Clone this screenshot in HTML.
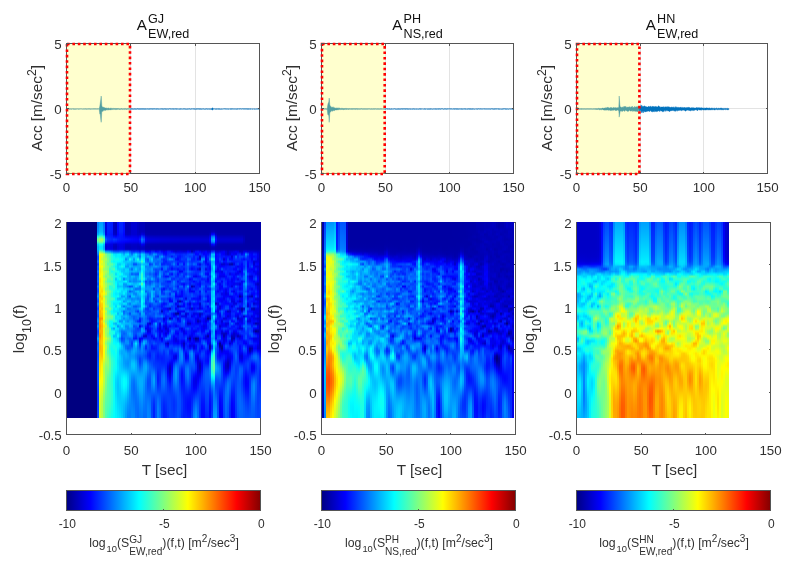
<!DOCTYPE html><html><head><meta charset="utf-8"><title>Reduced accelerograms and spectrograms</title><style>
html,body{margin:0;padding:0;background:#fff}
body{width:795px;height:569px;position:relative;overflow:hidden;font-family:"Liberation Sans",sans-serif;color:#303030}
.ax{position:absolute;box-sizing:border-box;box-shadow:inset 0 0 0 1px #555}
.ax i{position:absolute;display:block}
.gv{top:0;bottom:0;width:1px;background:#e3e3e3}
.gh{left:0;right:0;height:1px;background:#e3e3e3}
.tb{bottom:0;width:1px;height:2.5px;background:#555}
.tt{top:0;width:1px;height:2.5px;background:#555}
.tl{left:0;height:1px;width:2.5px;background:#555}
.tr{right:0;height:1px;width:2.5px;background:#555}
.wv{position:absolute;left:0.5px;top:0.5px;overflow:visible}
.sp{position:absolute;overflow:hidden;transform-origin:0 0}
.spi{position:absolute;left:-3px;top:-3px;right:-3px;bottom:-3px;filter:blur(0.7px)}
.sp i{top:0;bottom:0}
.xl,.yl,.cl,.xlab{position:absolute;white-space:nowrap;line-height:1}
.xl{font-size:13.33px;transform:translate(-50%,-50%)}
.yl{font-size:13.33px;transform:translate(-100%,-50%)}
.cl{font-size:12px;transform:translate(-50%,-50%)}
.xlab{font-size:15.3px;transform:translate(-50%,-50%)}
.ylab{position:absolute;white-space:nowrap;line-height:1;font-size:15.3px;transform:translate(-50%,-50%) rotate(-90deg)}
.ylab sup{font-size:12.2px;vertical-align:baseline;position:relative;top:-6.5px}
.ylab sub{font-size:12.4px;vertical-align:baseline;position:relative;top:6.5px}
.ttl{position:absolute;white-space:nowrap;transform:translateX(-50%);color:#111;height:32px;display:flex;align-items:flex-start}
.tA{font-size:15.2px;position:relative;top:6.5px;line-height:1;margin-right:1.3px}
.ss{position:relative;top:3px;font-size:12.6px;line-height:1}
.ss b,.ss2 b{display:block;font-weight:normal}
.ss b+b{margin-top:2.6px}
.clab{position:absolute;white-space:nowrap;transform:translateX(-50%);font-size:12.25px;line-height:1;height:26px;padding-top:7.3px}
.clab sup{font-size:10px;vertical-align:baseline;position:relative;top:-5.5px}
.s10{font-size:9.4px;position:relative;top:4.5px;margin:0 0 0 1px}
.ss2{display:inline-block;font-size:10.1px;line-height:1;vertical-align:-8px}
.ss2 b+b{margin-top:2px}
</style></head><body>
<div class="ax" style="left:66px;top:43px;width:194px;height:131px">
<i class="gv" style="left:64.3px"></i>
<i class="gv" style="left:128.7px"></i>
<i class="gh" style="top:65.0px"></i>
<svg class="wv" width="193.0" height="130.0" viewBox="0 0 193.0 130.0">
<path d="M0.2,64.9 0.8,64.8 1.2,64.9 1.8,64.8 2.2,64.8 2.8,64.8 3.2,64.9 3.8,64.8 4.2,64.8 4.8,64.9 5.2,64.9 5.8,64.8 6.2,64.8 6.8,64.8 7.2,64.9 7.8,64.8 8.2,64.8 8.8,64.9 9.2,64.9 9.8,64.8 10.2,64.8 10.8,64.9 11.2,64.8 11.8,64.9 12.2,64.8 12.8,64.9 13.2,64.9 13.8,64.8 14.2,64.8 14.8,64.9 15.2,64.9 15.8,64.9 16.2,64.9 16.8,64.8 17.2,64.9 17.8,64.8 18.2,64.8 18.8,64.8 19.2,64.9 19.8,64.8 20.2,64.8 20.8,64.9 21.2,64.8 21.8,64.8 22.2,64.8 22.8,64.8 23.2,64.9 23.8,64.8 24.2,64.8 24.8,64.9 25.2,64.8 25.8,64.9 26.2,64.8 26.8,64.8 27.2,64.8 27.8,64.8 28.2,64.8 28.8,64.8 29.2,64.9 29.8,64.8 30.2,64.8 30.8,64.8 31.2,64.8 31.8,64.9 32.2,64.7 32.8,62.3 33.2,59.6 33.8,55.2 34.2,52 34.8,61.4 35.2,62.7 35.8,63.2 36.2,63.3 36.8,63.3 37.2,63.6 37.8,63.7 38.2,63.9 38.8,64 39.2,63.9 39.8,64.2 40.2,64.2 40.8,64.3 41.2,64 41.8,64.2 42.2,64.4 42.8,64.4 43.2,64.3 43.8,64.2 44.2,64.2 44.8,64.4 45.2,64.4 45.8,64.5 46.2,64.4 46.8,64.4 47.2,64.4 47.8,64.6 48.2,64.6 48.8,64.4 49.2,64.5 49.8,64.5 50.2,64.5 50.8,64.5 51.2,64.4 51.8,64.7 52.2,64.7 52.8,64.7 53.2,64.7 53.8,64.7 54.2,64.6 54.8,64.6 55.2,64.7 55.8,64.8 56.2,64.7 56.8,64.7 57.2,64.5 57.8,64.7 58.2,64.5 58.8,64.8 59.2,64.8 59.8,64.7 60.2,64.6 60.8,64.8 61.2,64.6 61.8,64.7 62.2,64.8 62.8,64.7 63.2,64.7 63.8,64.7 64.2,64.6 64.8,64.7 65.2,64.7 65.8,64.8 66.2,64.8 66.8,64.9 67.2,64.7 67.8,64.8 68.2,64.8 68.8,64.8 69.2,64.8 69.8,64.9 70.2,64.8 70.8,64.6 71.2,64.8 71.8,64.8 72.2,64.8 72.8,64.8 73.2,64.8 73.8,64.8 74.2,64.7 74.8,64.7 75.2,64.7 75.8,64.8 76.2,64.8 76.8,64.7 77.2,64.8 77.8,64.8 78.2,64.8 78.8,64.8 79.2,64.8 79.8,64.9 80.2,64.8 80.8,64.8 81.2,64.7 81.8,64.9 82.2,64.8 82.8,64.8 83.2,64.8 83.8,64.8 84.2,64.8 84.8,64.8 85.2,64.8 85.8,64.8 86.2,64.8 86.8,64.8 87.2,64.8 87.8,64.7 88.2,64.8 88.8,64.9 89.2,64.8 89.8,64.8 90.2,64.8 90.8,64.8 91.2,64.7 91.8,64.9 92.2,64.9 92.8,64.9 93.2,64.9 93.8,64.8 94.2,64.8 94.8,64.8 95.2,64.8 95.8,64.8 96.2,64.8 96.8,64.9 97.2,64.8 97.8,64.8 98.2,64.8 98.8,64.8 99.2,64.8 99.8,64.9 100.2,64.9 100.8,64.8 101.2,64.8 101.8,64.9 102.2,64.7 102.8,64.8 103.2,64.8 103.8,64.8 104.2,64.8 104.8,64.9 105.2,64.8 105.8,64.8 106.2,64.8 106.8,64.8 107.2,64.8 107.8,64.9 108.2,64.8 108.8,64.8 109.2,64.8 109.8,64.8 110.2,64.8 110.8,64.9 111.2,64.9 111.8,64.9 112.2,64.8 112.8,64.9 113.2,64.8 113.8,64.8 114.2,64.9 114.8,64.8 115.2,64.9 115.8,64.9 116.2,64.8 116.8,64.8 117.2,64.8 117.8,64.8 118.2,64.8 118.8,64.9 119.2,64.9 119.8,64.9 120.2,64.8 120.8,64.9 121.2,64.9 121.8,64.8 122.2,64.7 122.8,64.8 123.2,64.9 123.8,64.9 124.2,64.8 124.8,64.8 125.2,64.8 125.8,64.9 126.2,64.8 126.8,64.8 127.2,64.8 127.8,64.8 128.2,64.9 128.8,64.8 129.2,64.8 129.8,64.8 130.2,64.8 130.8,64.8 131.2,64.8 131.8,64.8 132.2,64.8 132.8,64.8 133.2,64.8 133.8,64.8 134.2,64.9 134.8,64.8 135.2,64.8 135.8,64.9 136.2,64.8 136.8,64.8 137.2,64.9 137.8,64.9 138.2,64.8 138.8,64.9 139.2,64.8 139.8,64.7 140.2,64.9 140.8,64.8 141.2,64.9 141.8,64.8 142.2,64.7 142.8,64.9 143.2,64.9 143.8,64.8 144.2,64.8 144.8,64.5 145.2,64 145.8,63.8 146.2,64.4 146.8,64.9 147.2,64.8 147.8,64.9 148.2,64.9 148.8,64.8 149.2,64.8 149.8,64.8 150.2,64.9 150.8,64.8 151.2,64.8 151.8,64.8 152.2,64.8 152.8,64.8 153.2,64.9 153.8,64.9 154.2,64.8 154.8,64.9 155.2,64.9 155.8,64.9 156.2,64.9 156.8,64.8 157.2,64.8 157.8,64.8 158.2,64.8 158.8,64.8 159.2,64.9 159.8,64.8 160.2,64.8 160.8,64.9 161.2,64.8 161.8,64.9 162.2,64.9 162.8,64.9 163.2,64.8 163.8,64.8 164.2,64.7 164.8,64.8 165.2,64.8 165.8,64.8 166.2,64.9 166.8,64.8 167.2,64.9 167.8,64.8 168.2,64.8 168.8,64.9 169.2,64.8 169.8,64.9 170.2,64.7 170.8,64.8 171.2,64.8 171.8,64.9 172.2,64.8 172.8,64.8 173.2,64.8 173.8,64.8 174.2,64.8 174.8,64.9 175.2,64.8 175.8,64.8 176.2,64.8 176.8,64.8 177.2,64.8 177.8,64.8 178.2,64.8 178.8,64.8 179.2,64.8 179.8,64.8 180.2,64.8 180.8,64.8 181.2,64.8 181.8,64.8 182.2,64.8 182.8,64.9 183.2,64.8 183.8,64.8 184.2,64.9 184.8,64.9 185.2,64.8 185.8,64.9 186.2,64.9 186.8,64.9 187.2,64.9 187.8,64.8 188.2,64.9 188.8,64.9 189.2,64.8 189.8,64.9 190.2,64.8 190.8,64.8 191.2,64.8 191.8,64.8 192.2,64.9 192.8,64.9 L192.8,65.2 192.2,65.1 191.8,65.1 191.2,65.2 190.8,65.2 190.2,65.1 189.8,65.2 189.2,65.1 188.8,65.1 188.2,65.2 187.8,65.2 187.2,65.2 186.8,65.1 186.2,65.1 185.8,65.2 185.2,65.2 184.8,65.1 184.2,65.1 183.8,65.2 183.2,65.2 182.8,65.2 182.2,65.1 181.8,65.2 181.2,65.2 180.8,65.2 180.2,65.2 179.8,65.2 179.2,65.1 178.8,65.1 178.2,65.2 177.8,65.2 177.2,65.1 176.8,65.1 176.2,65.2 175.8,65.1 175.2,65.1 174.8,65.2 174.2,65.1 173.8,65.1 173.2,65.1 172.8,65.2 172.2,65.1 171.8,65.1 171.2,65.1 170.8,65.2 170.2,65.2 169.8,65.2 169.2,65.2 168.8,65.1 168.2,65.2 167.8,65.1 167.2,65.2 166.8,65.2 166.2,65.1 165.8,65.2 165.2,65.1 164.8,65.2 164.2,65.2 163.8,65.2 163.2,65.2 162.8,65.1 162.2,65.1 161.8,65.2 161.2,65.2 160.8,65.1 160.2,65.2 159.8,65.1 159.2,65.2 158.8,65.1 158.2,65.2 157.8,65.1 157.2,65.1 156.8,65.1 156.2,65.1 155.8,65.2 155.2,65.1 154.8,65.2 154.2,65.2 153.8,65.2 153.2,65.2 152.8,65.3 152.2,65.2 151.8,65.2 151.2,65.2 150.8,65.1 150.2,65.2 149.8,65.3 149.2,65.2 148.8,65.2 148.2,65.2 147.8,65.1 147.2,65.1 146.8,65.1 146.2,65.3 145.8,66 145.2,66.1 144.8,65.7 144.2,65.3 143.8,65.2 143.2,65.2 142.8,65.2 142.2,65.2 141.8,65.2 141.2,65.1 140.8,65.2 140.2,65.2 139.8,65.2 139.2,65.1 138.8,65.2 138.2,65.2 137.8,65.2 137.2,65.2 136.8,65.1 136.2,65.2 135.8,65.1 135.2,65.2 134.8,65.3 134.2,65.2 133.8,65.2 133.2,65.2 132.8,65.2 132.2,65.2 131.8,65.2 131.2,65.1 130.8,65.1 130.2,65.2 129.8,65.2 129.2,65.2 128.8,65.2 128.2,65.2 127.8,65.2 127.2,65.2 126.8,65.2 126.2,65.1 125.8,65.1 125.2,65.1 124.8,65.1 124.2,65.2 123.8,65.2 123.2,65.2 122.8,65.2 122.2,65.1 121.8,65.1 121.2,65.2 120.8,65.2 120.2,65.2 119.8,65.2 119.2,65.2 118.8,65.2 118.2,65.2 117.8,65.1 117.2,65.2 116.8,65.1 116.2,65.2 115.8,65.2 115.2,65.1 114.8,65.1 114.2,65.2 113.8,65.2 113.2,65.2 112.8,65.2 112.2,65.3 111.8,65.2 111.2,65.1 110.8,65.1 110.2,65.2 109.8,65.2 109.2,65.2 108.8,65.1 108.2,65.2 107.8,65.2 107.2,65.1 106.8,65.2 106.2,65.2 105.8,65.1 105.2,65.3 104.8,65.2 104.2,65.1 103.8,65.1 103.2,65.2 102.8,65.1 102.2,65.1 101.8,65.2 101.2,65.2 100.8,65.1 100.2,65.2 99.8,65.2 99.2,65.2 98.8,65.2 98.2,65.2 97.8,65.1 97.2,65.2 96.8,65.2 96.2,65.2 95.8,65.2 95.2,65.2 94.8,65.1 94.2,65.2 93.8,65.1 93.2,65.2 92.8,65.2 92.2,65.1 91.8,65.2 91.2,65.2 90.8,65.1 90.2,65.2 89.8,65.2 89.2,65.2 88.8,65.1 88.2,65.2 87.8,65.2 87.2,65.1 86.8,65.2 86.2,65.1 85.8,65.2 85.2,65.2 84.8,65.1 84.2,65.2 83.8,65.2 83.2,65.1 82.8,65.2 82.2,65.2 81.8,65.2 81.2,65.2 80.8,65.1 80.2,65.3 79.8,65.3 79.2,65.1 78.8,65.2 78.2,65.2 77.8,65.2 77.2,65.3 76.8,65.2 76.2,65.2 75.8,65.2 75.2,65.2 74.8,65.2 74.2,65.3 73.8,65.2 73.2,65.2 72.8,65.2 72.2,65.2 71.8,65.2 71.2,65.2 70.8,65.1 70.2,65.2 69.8,65.2 69.2,65.2 68.8,65.2 68.2,65.3 67.8,65.2 67.2,65.2 66.8,65.2 66.2,65.2 65.8,65.2 65.2,65.3 64.8,65.3 64.2,65.3 63.8,65.3 63.2,65.3 62.8,65.2 62.2,65.3 61.8,65.3 61.2,65.2 60.8,65.2 60.2,65.3 59.8,65.4 59.2,65.4 58.8,65.3 58.2,65.3 57.8,65.3 57.2,65.5 56.8,65.3 56.2,65.3 55.8,65.3 55.2,65.5 54.8,65.3 54.2,65.3 53.8,65.5 53.2,65.3 52.8,65.4 52.2,65.4 51.8,65.3 51.2,65.3 50.8,65.4 50.2,65.3 49.8,65.5 49.2,65.5 48.8,65.6 48.2,65.5 47.8,65.5 47.2,65.3 46.8,65.5 46.2,65.3 45.8,65.4 45.2,65.5 44.8,65.4 44.2,65.8 43.8,65.7 43.2,66 42.8,65.5 42.2,65.9 41.8,65.8 41.2,66.1 40.8,65.6 40.2,66.3 39.8,66 39.2,65.8 38.8,66.2 38.2,66.4 37.8,66.5 37.2,66.1 36.8,66.7 36.2,66.1 35.8,67.7 35.2,66.8 34.8,67.7 34.2,78.3 33.8,75.6 33.2,69.7 32.8,70 32.2,65.2 31.8,65.1 31.2,65.1 30.8,65.1 30.2,65.3 29.8,65.1 29.2,65.2 28.8,65.2 28.2,65.1 27.8,65.1 27.2,65.2 26.8,65.2 26.2,65.1 25.8,65.2 25.2,65.1 24.8,65.2 24.2,65.1 23.8,65.2 23.2,65.2 22.8,65.2 22.2,65.1 21.8,65.1 21.2,65.2 20.8,65.2 20.2,65.1 19.8,65.2 19.2,65.2 18.8,65.2 18.2,65.1 17.8,65.1 17.2,65.2 16.8,65.2 16.2,65.1 15.8,65.1 15.2,65.2 14.8,65.1 14.2,65.1 13.8,65.1 13.2,65.1 12.8,65.2 12.2,65.1 11.8,65.2 11.2,65.2 10.8,65.1 10.2,65.1 9.8,65.2 9.2,65.1 8.8,65.2 8.2,65.2 7.8,65.2 7.2,65.3 6.8,65.2 6.2,65.2 5.8,65.1 5.2,65.1 4.8,65.2 4.2,65.2 3.8,65.2 3.2,65.1 2.8,65.2 2.2,65.2 1.8,65.1 1.2,65.1 0.8,65.2 0.2,65.1Z" fill="#0072bd" stroke="#0072bd" stroke-width="0.42" stroke-linejoin="round"/>
<rect x="0" y="0" width="63.0" height="130.0" fill="#ffff66" fill-opacity="0.32" stroke="#f00" stroke-width="2.6" stroke-dasharray="2.6 2.8"/>
</svg>
<i class="tb" style="left:0.0px"></i><i class="tt" style="left:0.0px"></i>
<i class="tb" style="left:64.3px"></i><i class="tt" style="left:64.3px"></i>
<i class="tb" style="left:128.7px"></i><i class="tt" style="left:128.7px"></i>
<i class="tb" style="left:193.0px"></i><i class="tt" style="left:193.0px"></i>
<i class="tl" style="top:0.0px"></i><i class="tr" style="top:0.0px"></i>
<i class="tl" style="top:65.0px"></i><i class="tr" style="top:65.0px"></i>
<i class="tl" style="top:130.0px"></i><i class="tr" style="top:130.0px"></i>
</div>
<span class="xl" style="left:66.5px;top:188.2px">0</span>
<span class="xl" style="left:130.8px;top:188.2px">50</span>
<span class="xl" style="left:195.2px;top:188.2px">100</span>
<span class="xl" style="left:259.5px;top:188.2px">150</span>
<span class="yl" style="left:61.7px;top:45.3px">5</span>
<span class="yl" style="left:61.7px;top:110.3px">0</span>
<span class="yl" style="left:61.7px;top:175.3px">-5</span>
<span class="ylab" style="left:36.7px;top:107.5px">Acc [m/sec<sup>2</sup>]</span>
<div class="ttl" style="left:163.0px;top:10px"><span class="tA">A</span><span class="ss"><b>GJ</b><b>EW,red</b></span></div>
<div class="ax" style="left:321px;top:43px;width:193px;height:131px">
<i class="gv" style="left:64.0px"></i>
<i class="gv" style="left:128.0px"></i>
<i class="gh" style="top:65.0px"></i>
<svg class="wv" width="192.0" height="130.0" viewBox="0 0 192.0 130.0">
<path d="M0.2,64.8 0.8,64.9 1.2,64.8 1.8,64.8 2.2,64.9 2.8,64.8 3.2,64.8 3.8,64.8 4.2,64.8 4.8,64.9 5.2,64.8 5.8,60.8 6.2,59.2 6.8,58.1 7.2,54.1 7.8,60.9 8.2,61.7 8.8,62.4 9.2,63.3 9.8,63.2 10.2,63.2 10.8,63.2 11.2,62.8 11.8,64 12.2,64 12.8,63.6 13.2,63.9 13.8,64.2 14.2,64.3 14.8,63.7 15.2,63.9 15.8,64.3 16.2,63.8 16.8,64.4 17.2,64.1 17.8,64.2 18.2,64.5 18.8,64.4 19.2,64.3 19.8,64.4 20.2,64.6 20.8,64.3 21.2,64.6 21.8,64.6 22.2,64.6 22.8,64.6 23.2,64.5 23.8,64.4 24.2,64.4 24.8,64.5 25.2,64.5 25.8,64.7 26.2,64.7 26.8,64.6 27.2,64.7 27.8,64.6 28.2,64.7 28.8,64.7 29.2,64.7 29.8,64.6 30.2,64.7 30.8,64.6 31.2,64.7 31.8,64.6 32.2,64.6 32.8,64.7 33.2,64.7 33.8,64.6 34.2,64.6 34.8,64.7 35.2,64.7 35.8,64.6 36.2,64.8 36.8,64.7 37.2,64.8 37.8,64.8 38.2,64.8 38.8,64.7 39.2,64.8 39.8,64.6 40.2,64.8 40.8,64.8 41.2,64.7 41.8,64.8 42.2,64.8 42.8,64.8 43.2,64.8 43.8,64.7 44.2,64.8 44.8,64.8 45.2,64.8 45.8,64.8 46.2,64.8 46.8,64.7 47.2,64.8 47.8,64.8 48.2,64.9 48.8,64.8 49.2,64.8 49.8,64.8 50.2,64.8 50.8,64.9 51.2,64.7 51.8,64.8 52.2,64.8 52.8,64.8 53.2,64.8 53.8,64.8 54.2,64.8 54.8,64.9 55.2,64.8 55.8,64.8 56.2,64.8 56.8,64.8 57.2,64.9 57.8,64.8 58.2,64.7 58.8,64.8 59.2,64.8 59.8,64.8 60.2,64.9 60.8,64.9 61.2,64.8 61.8,64.8 62.2,64.9 62.8,64.8 63.2,64.8 63.8,64.8 64.2,64.8 64.8,64.8 65.2,64.8 65.8,64.7 66.2,64.8 66.8,64.9 67.2,64.8 67.8,64.8 68.2,64.9 68.8,64.9 69.2,64.8 69.8,64.8 70.2,64.9 70.8,64.9 71.2,64.8 71.8,64.9 72.2,64.8 72.8,64.8 73.2,64.9 73.8,64.8 74.2,64.9 74.8,64.9 75.2,64.9 75.8,64.8 76.2,64.8 76.8,64.8 77.2,64.8 77.8,64.9 78.2,64.9 78.8,64.8 79.2,64.8 79.8,64.8 80.2,64.8 80.8,64.8 81.2,64.8 81.8,64.8 82.2,64.8 82.8,64.8 83.2,64.8 83.8,64.8 84.2,64.8 84.8,64.8 85.2,64.8 85.8,64.8 86.2,64.8 86.8,64.9 87.2,64.9 87.8,64.8 88.2,64.8 88.8,64.9 89.2,64.9 89.8,64.9 90.2,64.8 90.8,64.9 91.2,64.8 91.8,64.8 92.2,64.8 92.8,64.9 93.2,64.9 93.8,64.9 94.2,64.9 94.8,64.8 95.2,64.9 95.8,64.9 96.2,64.9 96.8,64.9 97.2,64.8 97.8,64.8 98.2,64.8 98.8,64.8 99.2,64.8 99.8,64.9 100.2,64.9 100.8,64.9 101.2,64.9 101.8,64.9 102.2,64.8 102.8,64.7 103.2,64.9 103.8,64.8 104.2,64.9 104.8,64.9 105.2,64.8 105.8,64.9 106.2,64.8 106.8,64.9 107.2,64.9 107.8,64.8 108.2,64.8 108.8,64.8 109.2,64.8 109.8,64.9 110.2,64.9 110.8,64.9 111.2,64.8 111.8,64.9 112.2,64.9 112.8,64.8 113.2,64.8 113.8,64.8 114.2,64.9 114.8,64.8 115.2,64.8 115.8,64.9 116.2,64.8 116.8,64.8 117.2,64.8 117.8,64.8 118.2,64.9 118.8,64.8 119.2,64.8 119.8,64.8 120.2,64.8 120.8,64.8 121.2,64.9 121.8,64.9 122.2,64.8 122.8,64.8 123.2,64.8 123.8,64.8 124.2,64.8 124.8,64.9 125.2,64.8 125.8,64.8 126.2,64.8 126.8,64.9 127.2,64.8 127.8,64.7 128.2,64.8 128.8,64.8 129.2,64.8 129.8,64.8 130.2,64.9 130.8,64.9 131.2,64.8 131.8,64.8 132.2,64.8 132.8,64.8 133.2,64.8 133.8,64.8 134.2,64.8 134.8,64.8 135.2,64.8 135.8,64.8 136.2,64.8 136.8,64.9 137.2,64.9 137.8,64.7 138.2,64.8 138.8,64.9 139.2,64.8 139.8,64.8 140.2,64.8 140.8,64.9 141.2,64.8 141.8,64.9 142.2,64.8 142.8,64.8 143.2,64.8 143.8,64.8 144.2,64.9 144.8,64.9 145.2,64.8 145.8,64.9 146.2,64.8 146.8,64.8 147.2,64.8 147.8,64.8 148.2,64.8 148.8,64.8 149.2,64.8 149.8,64.9 150.2,64.8 150.8,64.8 151.2,64.8 151.8,64.9 152.2,64.9 152.8,64.9 153.2,64.9 153.8,64.9 154.2,64.9 154.8,64.8 155.2,64.8 155.8,64.9 156.2,64.8 156.8,64.8 157.2,64.8 157.8,64.9 158.2,64.8 158.8,64.8 159.2,64.9 159.8,64.8 160.2,64.8 160.8,64.9 161.2,64.8 161.8,64.9 162.2,64.8 162.8,64.8 163.2,64.9 163.8,64.8 164.2,64.9 164.8,64.8 165.2,64.8 165.8,64.9 166.2,64.9 166.8,64.8 167.2,64.8 167.8,64.9 168.2,64.8 168.8,64.9 169.2,64.8 169.8,64.8 170.2,64.8 170.8,64.8 171.2,64.9 171.8,64.7 172.2,64.8 172.8,64.8 173.2,64.8 173.8,64.8 174.2,64.8 174.8,64.8 175.2,64.9 175.8,64.8 176.2,64.8 176.8,64.8 177.2,64.8 177.8,64.9 178.2,64.9 178.8,64.9 179.2,64.9 179.8,64.9 180.2,64.9 180.8,64.8 181.2,64.8 181.8,64.7 182.2,64.8 182.8,64.8 183.2,64.8 183.8,64.8 184.2,64.9 184.8,64.8 185.2,64.9 185.8,64.8 186.2,64.9 186.8,64.9 187.2,64.9 187.8,64.8 188.2,64.9 188.8,64.8 189.2,64.8 189.8,64.8 190.2,64.9 190.8,64.9 191.2,64.7 191.8,64.8 L191.8,65.2 191.2,65.1 190.8,65.2 190.2,65.2 189.8,65.2 189.2,65.1 188.8,65.2 188.2,65.1 187.8,65.1 187.2,65.1 186.8,65.2 186.2,65.2 185.8,65.2 185.2,65.1 184.8,65.2 184.2,65.2 183.8,65.2 183.2,65.2 182.8,65.1 182.2,65.1 181.8,65.2 181.2,65.1 180.8,65.2 180.2,65.2 179.8,65.2 179.2,65.2 178.8,65.2 178.2,65.1 177.8,65.2 177.2,65.2 176.8,65.2 176.2,65.2 175.8,65.1 175.2,65.1 174.8,65.1 174.2,65.2 173.8,65.2 173.2,65.1 172.8,65.2 172.2,65.2 171.8,65.2 171.2,65.3 170.8,65.2 170.2,65.1 169.8,65.1 169.2,65.1 168.8,65.2 168.2,65.2 167.8,65.1 167.2,65.2 166.8,65.2 166.2,65.1 165.8,65.1 165.2,65.2 164.8,65.1 164.2,65.2 163.8,65.2 163.2,65.1 162.8,65.2 162.2,65.1 161.8,65.1 161.2,65.1 160.8,65.1 160.2,65.2 159.8,65.1 159.2,65.2 158.8,65.2 158.2,65.1 157.8,65.1 157.2,65.2 156.8,65.1 156.2,65.1 155.8,65.2 155.2,65.2 154.8,65.2 154.2,65.1 153.8,65.1 153.2,65.1 152.8,65.2 152.2,65.2 151.8,65.1 151.2,65.2 150.8,65.2 150.2,65.2 149.8,65.2 149.2,65.2 148.8,65.2 148.2,65.2 147.8,65.2 147.2,65.2 146.8,65.1 146.2,65.2 145.8,65.2 145.2,65.2 144.8,65.2 144.2,65.1 143.8,65.2 143.2,65.2 142.8,65.2 142.2,65.1 141.8,65.2 141.2,65.1 140.8,65.2 140.2,65.2 139.8,65.2 139.2,65.2 138.8,65.2 138.2,65.1 137.8,65.2 137.2,65.1 136.8,65.2 136.2,65.2 135.8,65.2 135.2,65.2 134.8,65.2 134.2,65.2 133.8,65.2 133.2,65.1 132.8,65.2 132.2,65.2 131.8,65.2 131.2,65.1 130.8,65.2 130.2,65.1 129.8,65.2 129.2,65.1 128.8,65.2 128.2,65.1 127.8,65.1 127.2,65.1 126.8,65.1 126.2,65.1 125.8,65.1 125.2,65.2 124.8,65.2 124.2,65.2 123.8,65.1 123.2,65.2 122.8,65.1 122.2,65.2 121.8,65.2 121.2,65.2 120.8,65.1 120.2,65.1 119.8,65.1 119.2,65.1 118.8,65.2 118.2,65.2 117.8,65.1 117.2,65.2 116.8,65.2 116.2,65.2 115.8,65.1 115.2,65.2 114.8,65.2 114.2,65.2 113.8,65.2 113.2,65.2 112.8,65.1 112.2,65.2 111.8,65.1 111.2,65.2 110.8,65.2 110.2,65.2 109.8,65.1 109.2,65.2 108.8,65.2 108.2,65.2 107.8,65.2 107.2,65.2 106.8,65.2 106.2,65.2 105.8,65.3 105.2,65.2 104.8,65.1 104.2,65.1 103.8,65.2 103.2,65.2 102.8,65.2 102.2,65.2 101.8,65.1 101.2,65.2 100.8,65.1 100.2,65.1 99.8,65.1 99.2,65.2 98.8,65.2 98.2,65.2 97.8,65.1 97.2,65.2 96.8,65.2 96.2,65.2 95.8,65.2 95.2,65.1 94.8,65.2 94.2,65.2 93.8,65.1 93.2,65.2 92.8,65.2 92.2,65.2 91.8,65.1 91.2,65.2 90.8,65.2 90.2,65.2 89.8,65.1 89.2,65.2 88.8,65.2 88.2,65.2 87.8,65.2 87.2,65.1 86.8,65.2 86.2,65.2 85.8,65.2 85.2,65.2 84.8,65.1 84.2,65.2 83.8,65.2 83.2,65.2 82.8,65.2 82.2,65.1 81.8,65.1 81.2,65.2 80.8,65.2 80.2,65.2 79.8,65.1 79.2,65.2 78.8,65.2 78.2,65.2 77.8,65.2 77.2,65.2 76.8,65.2 76.2,65.2 75.8,65.2 75.2,65.2 74.8,65.2 74.2,65.2 73.8,65.2 73.2,65.2 72.8,65.1 72.2,65.1 71.8,65.1 71.2,65.2 70.8,65.1 70.2,65.2 69.8,65.2 69.2,65.2 68.8,65.2 68.2,65.2 67.8,65.2 67.2,65.2 66.8,65.2 66.2,65.1 65.8,65.2 65.2,65.2 64.8,65.1 64.2,65.1 63.8,65.3 63.2,65.2 62.8,65.2 62.2,65.2 61.8,65.2 61.2,65.2 60.8,65.1 60.2,65.2 59.8,65.2 59.2,65.2 58.8,65.2 58.2,65.2 57.8,65.2 57.2,65.2 56.8,65.2 56.2,65.3 55.8,65.2 55.2,65.2 54.8,65.2 54.2,65.2 53.8,65.1 53.2,65.2 52.8,65.2 52.2,65.2 51.8,65.2 51.2,65.2 50.8,65.2 50.2,65.2 49.8,65.2 49.2,65.2 48.8,65.3 48.2,65.2 47.8,65.1 47.2,65.2 46.8,65.3 46.2,65.1 45.8,65.2 45.2,65.3 44.8,65.3 44.2,65.2 43.8,65.3 43.2,65.2 42.8,65.2 42.2,65.2 41.8,65.3 41.2,65.2 40.8,65.3 40.2,65.2 39.8,65.1 39.2,65.3 38.8,65.3 38.2,65.2 37.8,65.3 37.2,65.3 36.8,65.3 36.2,65.2 35.8,65.5 35.2,65.3 34.8,65.2 34.2,65.2 33.8,65.4 33.2,65.3 32.8,65.3 32.2,65.3 31.8,65.2 31.2,65.3 30.8,65.2 30.2,65.4 29.8,65.2 29.2,65.4 28.8,65.3 28.2,65.3 27.8,65.3 27.2,65.2 26.8,65.3 26.2,65.7 25.8,65.3 25.2,65.3 24.8,65.4 24.2,65.4 23.8,65.3 23.2,65.6 22.8,65.5 22.2,65.4 21.8,65.7 21.2,65.5 20.8,65.5 20.2,65.5 19.8,65.5 19.2,65.5 18.8,65.6 18.2,65.5 17.8,65.5 17.2,65.6 16.8,65.7 16.2,65.7 15.8,65.7 15.2,65.9 14.8,66 14.2,65.9 13.8,65.9 13.2,66 12.8,66 12.2,66.9 11.8,66.8 11.2,66.3 10.8,66.7 10.2,67.4 9.8,66.5 9.2,67.2 8.8,67.7 8.2,68.1 7.8,69 7.2,78.3 6.8,71.7 6.2,70.8 5.8,70.6 5.2,65.2 4.8,65.2 4.2,65.2 3.8,65.1 3.2,65.2 2.8,65.1 2.2,65.2 1.8,65.1 1.2,65.1 0.8,65.1 0.2,65.1Z" fill="#0072bd" stroke="#0072bd" stroke-width="0.42" stroke-linejoin="round"/>
<rect x="0" y="0" width="62.7" height="130.0" fill="#ffff66" fill-opacity="0.32" stroke="#f00" stroke-width="2.6" stroke-dasharray="2.6 2.8"/>
</svg>
<i class="tb" style="left:0.0px"></i><i class="tt" style="left:0.0px"></i>
<i class="tb" style="left:64.0px"></i><i class="tt" style="left:64.0px"></i>
<i class="tb" style="left:128.0px"></i><i class="tt" style="left:128.0px"></i>
<i class="tb" style="left:192.0px"></i><i class="tt" style="left:192.0px"></i>
<i class="tl" style="top:0.0px"></i><i class="tr" style="top:0.0px"></i>
<i class="tl" style="top:65.0px"></i><i class="tr" style="top:65.0px"></i>
<i class="tl" style="top:130.0px"></i><i class="tr" style="top:130.0px"></i>
</div>
<span class="xl" style="left:321.5px;top:188.2px">0</span>
<span class="xl" style="left:385.5px;top:188.2px">50</span>
<span class="xl" style="left:449.5px;top:188.2px">100</span>
<span class="xl" style="left:513.5px;top:188.2px">150</span>
<span class="yl" style="left:316.7px;top:45.3px">5</span>
<span class="yl" style="left:316.7px;top:110.3px">0</span>
<span class="yl" style="left:316.7px;top:175.3px">-5</span>
<span class="ylab" style="left:291.7px;top:107.5px">Acc [m/sec<sup>2</sup>]</span>
<div class="ttl" style="left:417.5px;top:10px"><span class="tA">A</span><span class="ss"><b>PH</b><b>NS,red</b></span></div>
<div class="ax" style="left:576px;top:43px;width:192px;height:131px">
<i class="gv" style="left:63.7px"></i>
<i class="gv" style="left:127.3px"></i>
<i class="gh" style="top:65.0px"></i>
<svg class="wv" width="191.0" height="130.0" viewBox="0 0 191.0 130.0">
<path d="M0.2,64.7 0.8,64.7 1.2,64.8 1.8,64.8 2.2,64.7 2.8,64.8 3.2,64.8 3.8,64.7 4.2,64.7 4.8,64.6 5.2,64.8 5.8,64.7 6.2,64.8 6.8,64.8 7.2,64.8 7.8,64.7 8.2,64.8 8.8,64.8 9.2,64.8 9.8,64.8 10.2,64.7 10.8,64.7 11.2,64.7 11.8,64.8 12.2,64.8 12.8,64.8 13.2,64.7 13.8,64.8 14.2,64.7 14.8,64.8 15.2,64.9 15.8,64.8 16.2,64.8 16.8,64.7 17.2,64.8 17.8,64.8 18.2,64.8 18.8,64.6 19.2,64.7 19.8,64.6 20.2,64.6 20.8,64.7 21.2,64.5 21.8,64.3 22.2,64.6 22.8,64.5 23.2,64.6 23.8,64.6 24.2,64.5 24.8,64.5 25.2,64 25.8,64.1 26.2,64.1 26.8,64.5 27.2,64.1 27.8,63.9 28.2,63.6 28.8,64.2 29.2,63.6 29.8,64.1 30.2,63.7 30.8,63.1 31.2,63.9 31.8,63.5 32.2,63.7 32.8,64.3 33.2,63.4 33.8,63.7 34.2,63.6 34.8,63.7 35.2,64.2 35.8,63.7 36.2,63.5 36.8,63.6 37.2,63.9 37.8,63.6 38.2,63.6 38.8,63.8 39.2,63.7 39.8,64 40.2,63.5 40.8,64 41.2,63.5 41.8,63.8 42.2,52 42.8,60.5 43.2,63 43.8,62.9 44.2,63.4 44.8,63.6 45.2,62.8 45.8,63.5 46.2,63.5 46.8,62.4 47.2,62.9 47.8,62.2 48.2,63.2 48.8,62.2 49.2,63.2 49.8,63.6 50.2,63 50.8,63.2 51.2,63 51.8,63.3 52.2,63.3 52.8,62.5 53.2,63.7 53.8,63 54.2,62.9 54.8,63.1 55.2,62.1 55.8,63.7 56.2,63.1 56.8,63.7 57.2,63.5 57.8,62.3 58.2,63.2 58.8,63.1 59.2,62.9 59.8,62.7 60.2,62.3 60.8,63.3 61.2,62.5 61.8,62.7 62.2,63 62.8,63.5 63.2,62.7 63.8,62 64.2,60.9 64.8,62.6 65.2,61.7 65.8,62.9 66.2,62.2 66.8,62.5 67.2,61.8 67.8,62.2 68.2,62.3 68.8,62.7 69.2,62.6 69.8,63 70.2,63.1 70.8,62.9 71.2,62.5 71.8,62.3 72.2,62.9 72.8,62.4 73.2,63.1 73.8,61.9 74.2,62.5 74.8,63.3 75.2,62.5 75.8,62.3 76.2,63 76.8,62.2 77.2,62.8 77.8,62.7 78.2,62.5 78.8,62.6 79.2,63.1 79.8,62.4 80.2,63.1 80.8,63.1 81.2,62.2 81.8,61.8 82.2,62.3 82.8,62.9 83.2,62.8 83.8,63.4 84.2,63 84.8,62.9 85.2,63.1 85.8,62.9 86.2,63.2 86.8,62.6 87.2,62.8 87.8,63.4 88.2,62.9 88.8,62.8 89.2,63.2 89.8,62.8 90.2,62.4 90.8,63.2 91.2,62.9 91.8,62.7 92.2,63.2 92.8,62.9 93.2,63.2 93.8,63.6 94.2,62.9 94.8,63.2 95.2,63.3 95.8,63.3 96.2,63.4 96.8,62.7 97.2,63.9 97.8,63.3 98.2,63.4 98.8,62.6 99.2,63.2 99.8,63.3 100.2,63.5 100.8,63.3 101.2,63.4 101.8,63.2 102.2,63.9 102.8,63.2 103.2,63.6 103.8,62.9 104.2,63.7 104.8,63.4 105.2,63.4 105.8,63.5 106.2,63.7 106.8,63.5 107.2,63.9 107.8,63.1 108.2,64 108.8,63.7 109.2,63.2 109.8,63.9 110.2,63.5 110.8,63.5 111.2,63.5 111.8,63.2 112.2,64.1 112.8,63.3 113.2,64.1 113.8,64.1 114.2,63.7 114.8,63.7 115.2,63.5 115.8,63.9 116.2,63.5 116.8,64 117.2,63.9 117.8,63.9 118.2,64 118.8,64 119.2,63.5 119.8,63.7 120.2,63.7 120.8,63.8 121.2,63.4 121.8,63.9 122.2,63.6 122.8,63.9 123.2,64 123.8,63.7 124.2,63.5 124.8,64 125.2,63.9 125.8,64.1 126.2,64.2 126.8,63.9 127.2,63.8 127.8,64.4 128.2,64 128.8,64.1 129.2,63.8 129.8,64.1 130.2,64.1 130.8,64.1 131.2,64.2 131.8,64.1 132.2,64.2 132.8,63.8 133.2,64.4 133.8,64.3 134.2,64.2 134.8,64 135.2,64.2 135.8,64.2 136.2,64.2 136.8,64.4 137.2,64.2 137.8,64.2 138.2,64.4 138.8,64.5 139.2,63.8 139.8,64.4 140.2,64.4 140.8,64.4 141.2,64.2 141.8,64.3 142.2,64.3 142.8,64.5 143.2,64.3 143.8,64.1 144.2,64.1 144.8,64.2 145.2,64.3 145.8,64.5 146.2,64.4 146.8,64.4 147.2,64.4 147.8,64.4 148.2,64.5 148.8,64.3 149.2,64.4 149.8,64.4 150.2,64.4 150.8,64.3 151.2,64.5 151.8,64.5 L151.8,65.9 151.2,65.6 150.8,65.7 150.2,65.9 149.8,65.5 149.2,65.6 148.8,65.6 148.2,65.7 147.8,65.5 147.2,65.5 146.8,65.7 146.2,65.8 145.8,65.7 145.2,65.8 144.8,65.9 144.2,65.6 143.8,65.7 143.2,65.6 142.8,65.7 142.2,65.6 141.8,65.8 141.2,65.4 140.8,65.7 140.2,65.7 139.8,65.6 139.2,65.6 138.8,65.8 138.2,65.6 137.8,66 137.2,65.9 136.8,65.6 136.2,65.7 135.8,65.6 135.2,65.9 134.8,65.8 134.2,65.8 133.8,66 133.2,65.7 132.8,65.9 132.2,65.7 131.8,66.1 131.2,65.7 130.8,65.7 130.2,65.8 129.8,65.7 129.2,66 128.8,66.1 128.2,65.9 127.8,66 127.2,65.8 126.8,65.9 126.2,65.9 125.8,65.7 125.2,65.8 124.8,65.8 124.2,66.3 123.8,66.1 123.2,66.1 122.8,66 122.2,65.9 121.8,65.8 121.2,65.8 120.8,66 120.2,66.9 119.8,65.7 119.2,65.9 118.8,65.9 118.2,65.8 117.8,66.1 117.2,66.5 116.8,66.7 116.2,66.2 115.8,66.5 115.2,66.2 114.8,66.2 114.2,66.6 113.8,66.6 113.2,67.1 112.8,66 112.2,66.8 111.8,65.9 111.2,66.4 110.8,66.1 110.2,66.3 109.8,66.3 109.2,66.4 108.8,67.2 108.2,66.9 107.8,66.3 107.2,66.4 106.8,66.3 106.2,66.1 105.8,66.1 105.2,66.4 104.8,66.6 104.2,66.7 103.8,66.2 103.2,66.3 102.8,66.3 102.2,66.4 101.8,66.3 101.2,66.7 100.8,66.3 100.2,67.3 99.8,66.3 99.2,66.8 98.8,66.8 98.2,67.4 97.8,67.2 97.2,66.7 96.8,66.5 96.2,66.8 95.8,66.6 95.2,66.5 94.8,66.9 94.2,66.5 93.8,67 93.2,66.8 92.8,67.5 92.2,67.4 91.8,67 91.2,67 90.8,67 90.2,66.6 89.8,66.8 89.2,66.2 88.8,67.5 88.2,66.4 87.8,65.7 87.2,67.4 86.8,67.6 86.2,67.2 85.8,68.1 85.2,67.1 84.8,66.9 84.2,67.1 83.8,66.8 83.2,66.4 82.8,67.7 82.2,66.7 81.8,66.9 81.2,66.8 80.8,67.2 80.2,67.4 79.8,67.7 79.2,67.3 78.8,67.3 78.2,67.6 77.8,66.5 77.2,68.1 76.8,67.4 76.2,67.4 75.8,67.5 75.2,68.1 74.8,67.6 74.2,67.5 73.8,66.5 73.2,67.1 72.8,67 72.2,67.8 71.8,66.9 71.2,66.9 70.8,67.3 70.2,67.2 69.8,67.4 69.2,67.4 68.8,68 68.2,67.7 67.8,68 67.2,67 66.8,67.3 66.2,69 65.8,68.5 65.2,67.3 64.8,67.2 64.2,68.9 63.8,66.6 63.2,66.5 62.8,67.4 62.2,66.7 61.8,66.8 61.2,66.8 60.8,67.4 60.2,67.7 59.8,66.9 59.2,67.6 58.8,67 58.2,67.4 57.8,66.8 57.2,67.3 56.8,66.7 56.2,67.2 55.8,67.6 55.2,66.5 54.8,66.7 54.2,67 53.8,67.1 53.2,67.1 52.8,66.2 52.2,66.2 51.8,66.9 51.2,67.5 50.8,67.6 50.2,67 49.8,66.7 49.2,66.8 48.8,66.2 48.2,66.2 47.8,67.5 47.2,67 46.8,66.6 46.2,66.7 45.8,66.9 45.2,67.4 44.8,67.5 44.2,66.7 43.8,67 43.2,67 42.8,69.5 42.2,73.1 41.8,66.5 41.2,66.5 40.8,66.1 40.2,66.1 39.8,66.7 39.2,66.2 38.8,66.6 38.2,66.4 37.8,65.8 37.2,66.1 36.8,66.5 36.2,65.9 35.8,66.1 35.2,66.6 34.8,66.4 34.2,66.2 33.8,66.8 33.2,66.3 32.8,66.1 32.2,66.3 31.8,66.1 31.2,66.4 30.8,66.1 30.2,66 29.8,65.9 29.2,66.2 28.8,66.2 28.2,66 27.8,66.3 27.2,65.9 26.8,65.9 26.2,66 25.8,65.5 25.2,65.6 24.8,65.7 24.2,65.8 23.8,65.6 23.2,65.7 22.8,65.9 22.2,65.6 21.8,65.2 21.2,65.5 20.8,65.5 20.2,65.4 19.8,65.4 19.2,65.4 18.8,65.3 18.2,65.4 17.8,65.2 17.2,65.2 16.8,65.2 16.2,65.3 15.8,65.3 15.2,65.2 14.8,65.2 14.2,65.3 13.8,65.2 13.2,65.2 12.8,65.2 12.2,65.2 11.8,65.2 11.2,65.3 10.8,65.2 10.2,65.2 9.8,65.2 9.2,65.2 8.8,65.3 8.2,65.3 7.8,65.2 7.2,65.2 6.8,65.2 6.2,65.2 5.8,65.2 5.2,65.3 4.8,65.3 4.2,65.4 3.8,65.3 3.2,65.2 2.8,65.2 2.2,65.3 1.8,65.2 1.2,65.2 0.8,65.2 0.2,65.3Z" fill="#0072bd" stroke="#0072bd" stroke-width="0.42" stroke-linejoin="round"/>
<rect x="0" y="0" width="62.4" height="130.0" fill="#ffff66" fill-opacity="0.32" stroke="#f00" stroke-width="2.6" stroke-dasharray="2.6 2.8"/>
</svg>
<i class="tb" style="left:0.0px"></i><i class="tt" style="left:0.0px"></i>
<i class="tb" style="left:63.7px"></i><i class="tt" style="left:63.7px"></i>
<i class="tb" style="left:127.3px"></i><i class="tt" style="left:127.3px"></i>
<i class="tb" style="left:191.0px"></i><i class="tt" style="left:191.0px"></i>
<i class="tl" style="top:0.0px"></i><i class="tr" style="top:0.0px"></i>
<i class="tl" style="top:65.0px"></i><i class="tr" style="top:65.0px"></i>
<i class="tl" style="top:130.0px"></i><i class="tr" style="top:130.0px"></i>
</div>
<span class="xl" style="left:576.5px;top:188.2px">0</span>
<span class="xl" style="left:640.2px;top:188.2px">50</span>
<span class="xl" style="left:703.8px;top:188.2px">100</span>
<span class="xl" style="left:767.5px;top:188.2px">150</span>
<span class="yl" style="left:571.7px;top:45.3px">5</span>
<span class="yl" style="left:571.7px;top:110.3px">0</span>
<span class="yl" style="left:571.7px;top:175.3px">-5</span>
<span class="ylab" style="left:546.7px;top:107.5px">Acc [m/sec<sup>2</sup>]</span>
<div class="ttl" style="left:672.0px;top:10px"><span class="tA">A</span><span class="ss"><b>HN</b><b>EW,red</b></span></div>
<div class="ax" style="left:66px;top:222px;width:195px;height:213px">
<i class="tb" style="left:0.0px"></i><i class="tt" style="left:0.0px"></i>
<i class="tb" style="left:64.7px"></i><i class="tt" style="left:64.7px"></i>
<i class="tb" style="left:129.3px"></i><i class="tt" style="left:129.3px"></i>
<i class="tb" style="left:194.0px"></i><i class="tt" style="left:194.0px"></i>
<i class="tl" style="top:0.0px"></i><i class="tr" style="top:0.0px"></i>
<i class="tl" style="top:42.4px"></i><i class="tr" style="top:42.4px"></i>
<i class="tl" style="top:84.8px"></i><i class="tr" style="top:84.8px"></i>
<i class="tl" style="top:127.2px"></i><i class="tr" style="top:127.2px"></i>
<i class="tl" style="top:169.6px"></i><i class="tr" style="top:169.6px"></i>
<i class="tl" style="top:212.0px"></i><i class="tr" style="top:212.0px"></i>
<div class="sp" style="left:1px;top:0;width:194px;height:196px">
<div class="spi">
<i style="left:0px;width:5px;background:linear-gradient(#000080 3px,#000080,#000080,#000080,#000080,#000080,#000080,#000080,#000080,#000080,#000080,#000080,#000080,#000080,#000080,#000080,#000080,#000080,#000080,#000080,#000080,#000080,#000080,#000080,#000080,#000080,#000080,#000080,#000080,#000080,#000080,#000080,#000080,#000080,#000080,#000080,#000080,#000080,#000080,#000080,#000080,#000080,#000080,#000080,#000080,#000080,#000080,#000080,#000080,#000080,#000080,#000080,#000080,#000080,#000080,#000080,#000080,#000080,#000080,#000080,#000080,#000080,#000080,#000080,#000080,#000080,#000080,#000080,#000080,#000080,#000080,#000080,#000080,#000080,#000080,#000080,#000080,#000080,#000080,#000080 calc(100% - 3px))"></i>
<i style="left:5px;width:2px;background:linear-gradient(#000080 3px,#000080,#000080,#000080,#000080,#000080,#000080,#000080,#000080,#000080,#000080,#000080,#000080,#000080,#000080,#000080,#000080,#000080,#000080,#000080,#000080,#000080,#000080,#000080,#000080,#000080,#000080,#000080,#000080,#000080,#000080,#000080,#000080,#000080,#000080,#000080,#000080,#000080,#000080,#000080,#000080,#000080,#000080,#000080,#000080,#000080,#000080,#000080,#000080,#000080,#000080,#000080,#000080,#000080,#000080,#000080,#000080,#000080,#000080,#000080,#000080,#000080,#000080,#000080,#000080,#000080,#000080,#000080,#000080,#000080,#000080,#000080,#000080,#000080,#000080,#000080,#000080,#000080,#000080,#000080 calc(100% - 3px))"></i>
<i style="left:7px;width:2px;background:linear-gradient(#000080 3px,#000080,#000080,#000080,#000080,#000080,#000080,#000080,#000080,#000080,#000080,#000080,#000080,#000080,#000080,#000080,#000080,#000080,#000080,#000080,#000080,#000080,#000080,#000080,#000080,#000080,#000080,#000080,#000080,#000080,#000080,#000080,#000080,#000080,#000080,#000080,#000080,#000080,#000080,#000080,#000080,#000080,#000080,#000080,#000080,#000080,#000080,#000080,#000080,#000080,#000080,#000080,#000080,#000080,#000080,#000080,#000080,#000080,#000080,#000080,#000080,#000080,#000080,#000080,#000080,#000080,#000080,#000080,#000080,#000080,#000080,#000080,#000080,#000080,#000080,#000080,#000080,#000080,#000080,#000080 calc(100% - 3px))"></i>
<i style="left:9px;width:2px;background:linear-gradient(#000080 3px,#000080,#000080,#000080,#000080,#000080,#000080,#000080,#000080,#000080,#000080,#000080,#000080,#000080,#000080,#000080,#000080,#000080,#000080,#000080,#000080,#000080,#000080,#000080,#000080,#000080,#000080,#000080,#000080,#000080,#000080,#000080,#000080,#000080,#000080,#000080,#000080,#000080,#000080,#000080,#000080,#000080,#000080,#000080,#000080,#000080,#000080,#000080,#000080,#000080,#000080,#000080,#000080,#000080,#000080,#000080,#000080,#000080,#000080,#000080,#000080,#000080,#000080,#000080,#000080,#000080,#000080,#000080,#000080,#000080,#000080,#000080,#000080,#000080,#000080,#000080,#000080,#000080,#000080,#000080 calc(100% - 3px))"></i>
<i style="left:11px;width:2px;background:linear-gradient(#000080 3px,#000080,#000080,#000080,#000080,#000080,#000080,#000080,#000080,#000080,#000080,#000080,#000080,#000080,#000080,#000080,#000080,#000080,#000080,#000080,#000080,#000080,#000080,#000080,#000080,#000080,#000080,#000080,#000080,#000080,#000080,#000080,#000080,#000080,#000080,#000080,#000080,#000080,#000080,#000080,#000080,#000080,#000080,#000080,#000080,#000080,#000080,#000080,#000080,#000080,#000080,#000080,#000080,#000080,#000080,#000080,#000080,#000080,#000080,#000080,#000080,#000080,#000080,#000080,#000080,#000080,#000080,#000080,#000080,#000080,#000080,#000080,#000080,#000080,#000080,#000080,#000080,#000080,#000080,#000080 calc(100% - 3px))"></i>
<i style="left:13px;width:2px;background:linear-gradient(#000080 3px,#000080,#000080,#000080,#000080,#000080,#000080,#000080,#000080,#000080,#000080,#000080,#000080,#000080,#000080,#000080,#000080,#000080,#000080,#000080,#000080,#000080,#000080,#000080,#000080,#000080,#000080,#000080,#000080,#000080,#000080,#000080,#000080,#000080,#000080,#000080,#000080,#000080,#000080,#000080,#000080,#000080,#000080,#000080,#000080,#000080,#000080,#000080,#000080,#000080,#000080,#000080,#000080,#000080,#000080,#000080,#000080,#000080,#000080,#000080,#000080,#000080,#000080,#000080,#000080,#000080,#000080,#000080,#000080,#000080,#000080,#000080,#000080,#000080,#000080,#000080,#000080,#000080,#000080,#000080 calc(100% - 3px))"></i>
<i style="left:15px;width:2px;background:linear-gradient(#000080 3px,#000080,#000080,#000080,#000080,#000080,#000080,#000080,#000080,#000080,#000080,#000080,#000080,#000080,#000080,#000080,#000080,#000080,#000080,#000080,#000080,#000080,#000080,#000080,#000080,#000080,#000080,#000080,#000080,#000080,#000080,#000080,#000080,#000080,#000080,#000080,#000080,#000080,#000080,#000080,#000080,#000080,#000080,#000080,#000080,#000080,#000080,#000080,#000080,#000080,#000080,#000080,#000080,#000080,#000080,#000080,#000080,#000080,#000080,#000080,#000080,#000080,#000080,#000080,#000080,#000080,#000080,#000080,#000080,#000080,#000080,#000080,#000080,#000080,#000080,#000080,#000080,#000080,#000080,#000080 calc(100% - 3px))"></i>
<i style="left:17px;width:2px;background:linear-gradient(#000080 3px,#000080,#000080,#000080,#000080,#000080,#000080,#000080,#000080,#000080,#000080,#000080,#000080,#000080,#000080,#000080,#000080,#000080,#000080,#000080,#000080,#000080,#000080,#000080,#000080,#000080,#000080,#000080,#000080,#000080,#000080,#000080,#000080,#000080,#000080,#000080,#000080,#000080,#000080,#000080,#000080,#000080,#000080,#000080,#000080,#000080,#000080,#000080,#000080,#000080,#000080,#000080,#000080,#000080,#000080,#000080,#000080,#000080,#000080,#000080,#000080,#000080,#000080,#000080,#000080,#000080,#000080,#000080,#000080,#000080,#000080,#000080,#000080,#000080,#000080,#000080,#000080,#000080,#000080,#000080 calc(100% - 3px))"></i>
<i style="left:19px;width:2px;background:linear-gradient(#000080 3px,#000080,#000080,#000080,#000080,#000080,#000080,#000080,#000080,#000080,#000080,#000080,#000080,#000080,#000080,#000080,#000080,#000080,#000080,#000080,#000080,#000080,#000080,#000080,#000080,#000080,#000080,#000080,#000080,#000080,#000080,#000080,#000080,#000080,#000080,#000080,#000080,#000080,#000080,#000080,#000080,#000080,#000080,#000080,#000080,#000080,#000080,#000080,#000080,#000080,#000080,#000080,#000080,#000080,#000080,#000080,#000080,#000080,#000080,#000080,#000080,#000080,#000080,#000080,#000080,#000080,#000080,#000080,#000080,#000080,#000080,#000080,#000080,#000080,#000080,#000080,#000080,#000080,#000080,#000080 calc(100% - 3px))"></i>
<i style="left:21px;width:2px;background:linear-gradient(#000080 3px,#000080,#000080,#000080,#000080,#000080,#000080,#000080,#000080,#000080,#000080,#000080,#000080,#000080,#000080,#000080,#000080,#000080,#000080,#000080,#000080,#000080,#000080,#000080,#000080,#000080,#000080,#000080,#000080,#000080,#000080,#000080,#000080,#000080,#000080,#000080,#000080,#000080,#000080,#000080,#000080,#000080,#000080,#000080,#000080,#000080,#000080,#000080,#000080,#000080,#000080,#000080,#000080,#000080,#000080,#000080,#000080,#000080,#000080,#000080,#000080,#000080,#000080,#000080,#000080,#000080,#000080,#000080,#000080,#000080,#000080,#000080,#000080,#000080,#000080,#000080,#000080,#000080,#000080,#000080 calc(100% - 3px))"></i>
<i style="left:23px;width:2px;background:linear-gradient(#000080 3px,#000080,#000080,#000080,#000080,#000080,#000080,#000080,#000080,#000080,#000080,#000080,#000080,#000080,#000080,#000080,#000080,#000080,#000080,#000080,#000080,#000080,#000080,#000080,#000080,#000080,#000080,#000080,#000080,#000080,#000080,#000080,#000080,#000080,#000080,#000080,#000080,#000080,#000080,#000080,#000080,#000080,#000080,#000080,#000080,#000080,#000080,#000080,#000080,#000080,#000080,#000080,#000080,#000080,#000080,#000080,#000080,#000080,#000080,#000080,#000080,#000080,#000080,#000080,#000080,#000080,#000080,#000080,#000080,#000080,#000080,#000080,#000080,#000080,#000080,#000080,#000080,#000080,#000080,#000080 calc(100% - 3px))"></i>
<i style="left:25px;width:2px;background:linear-gradient(#000080 3px,#000080,#000080,#000080,#000080,#000080,#000080,#000080,#000080,#000080,#000080,#000080,#000080,#000080,#000080,#000080,#000080,#000080,#000080,#000080,#000080,#000080,#000080,#000080,#000080,#000080,#000080,#000080,#000080,#000080,#000080,#000080,#000080,#000080,#000080,#000080,#000080,#000080,#000080,#000080,#000080,#000080,#000080,#000080,#000080,#000080,#000080,#000080,#000080,#000080,#000080,#000080,#000080,#000080,#000080,#000080,#000080,#000080,#000080,#000080,#000080,#000080,#000080,#000080,#000080,#000080,#000080,#000080,#000080,#000080,#000080,#000080,#000080,#000080,#000080,#000080,#000080,#000080,#000080,#000080 calc(100% - 3px))"></i>
<i style="left:27px;width:2px;background:linear-gradient(#000080 3px,#000080,#000080,#000080,#000080,#000080,#000080,#000080,#000080,#000080,#000080,#000080,#000080,#000080,#000080,#000080,#000080,#000080,#000080,#000080,#000080,#000080,#000080,#000080,#000080,#000080,#000080,#000080,#000080,#000080,#000080,#000080,#000080,#000080,#000080,#000080,#000080,#000080,#000080,#000080,#000080,#000080,#000080,#000080,#000080,#000080,#000080,#000080,#000080,#000080,#000080,#000080,#000080,#000080,#000080,#000080,#000080,#000080,#000080,#000080,#000080,#000080,#000080,#000080,#000080,#000080,#000080,#000080,#000080,#000080,#000080,#000080,#000080,#000080,#000080,#000080,#000080,#000080,#000080,#000080 calc(100% - 3px))"></i>
<i style="left:29px;width:2px;background:linear-gradient(#000080 3px,#000080,#000080,#000080,#000080,#000080,#000080,#000080,#000080,#000080,#000080,#000080,#000080,#000080,#000080,#000080,#000080,#000080,#000080,#000080,#000080,#000080,#000080,#000080,#000080,#000080,#000080,#000080,#000080,#000080,#000080,#000080,#000080,#000080,#000080,#000080,#000080,#000080,#000080,#000080,#000080,#000080,#000080,#000080,#000080,#000080,#000080,#000080,#000080,#000080,#000080,#000080,#000080,#000080,#000080,#000080,#000080,#000080,#000080,#000080,#000080,#000080,#000080,#000080,#000080,#000080,#000080,#000080,#000080,#000080,#000080,#000080,#000080,#000080,#000080,#000080,#000080,#000080,#000080,#000080 calc(100% - 3px))"></i>
<i style="left:31px;width:2px;background:linear-gradient(#000080 3px,#000080,#000080,#000080,#000080,#000080,#000080,#000080,#000080,#000080,#000080,#000080,#000080,#000080,#000080,#000080,#000080,#000080,#000080,#000080,#000080,#000080,#000080,#000080,#000080,#000080,#000080,#000080,#000080,#000080,#000080,#000080,#000080,#000080,#000080,#000080,#000080,#000080,#000080,#000080,#000080,#000080,#000080,#000080,#000080,#000080,#000080,#000080,#000080,#000080,#000080,#000080,#000080,#000080,#000080,#000080,#000080,#000080,#000080,#000080,#000080,#000080,#000080,#000080,#000080,#000080,#000080,#000080,#000080,#000080,#000080,#000080,#000080,#000080,#000080,#000080,#000080,#000080,#000080,#000080 calc(100% - 3px))"></i>
<i style="left:33px;width:2px;background:linear-gradient(#007aff 3px,#0080ff,#0085ff,#008bff,#0094ff,#00b1ff,#26ffd9,#7eff81,#52ffad,#00d7ff,#00b9ff,#00b6ff,#009cff,#007bff,#004aff,#004fff,#0072ff,#0038ff,#0060ff,#0052ff,#0076ff,#004fff,#0066ff,#0062ff,#006eff,#004aff,#007bff,#0057ff,#0051ff,#0071ff,#0096ff,#0068ff,#0052ff,#0084ff,#005eff,#0040ff,#0067ff,#0060ff,#0050ff,#007aff,#008fff,#0061ff,#0096ff,#0067ff,#0047ff,#0052ff,#0072ff,#00a0ff,#007cff,#005aff,#0068ff,#006dff,#005fff,#0054ff,#0050ff,#0053ff,#0058ff,#005cff,#005dff,#005dff,#005cff,#005bff,#005aff,#0058ff,#0055ff,#0051ff,#004dff,#0049ff,#0045ff,#0043ff,#0041ff,#003fff,#003fff,#003fff,#0040ff,#0042ff,#0044ff,#0047ff,#0049ff,#004cff calc(100% - 3px))"></i>
<i style="left:35px;width:2px;background:linear-gradient(#009aff 3px,#00a1ff,#00a7ff,#00afff,#00b9ff,#00d8ff,#50ffaf,#abff54,#7fff80,#04fffb,#00e4ff,#00ebff,#7fff80,#f9ff06,#fff200,#fff400,#fff200,#eeff11,#fff600,#ffe700,#ffe800,#fff300,#fff800,#ffde00,#ffdd00,#ffed00,#ffda00,#ffe500,#ffe300,#ffd200,#ffb800,#ffd400,#ffcb00,#ffbe00,#ffb800,#ffc900,#ffad00,#ffb200,#ffab00,#ff8400,#ff9b00,#ff9b00,#ff8f00,#ff9800,#ffae00,#ff9c00,#ff8b00,#ffa300,#ffb700,#ffb600,#ffab00,#ffab00,#ffb600,#ffc200,#ffcb00,#ffd200,#ffd700,#ffdb00,#ffde00,#ffe200,#ffe600,#ffeb00,#fff000,#fff600,#fffd00,#fbff04,#f4ff0b,#eeff11,#e8ff17,#e2ff1d,#ddff22,#d9ff26,#d6ff29,#d3ff2c,#d1ff2e,#d0ff2f,#cfff30,#cfff30,#cfff30,#cfff30 calc(100% - 3px))"></i>
<i style="left:37px;width:2px;background:linear-gradient(#009aff 3px,#00a1ff,#00a7ff,#00afff,#00b9ff,#00d8ff,#50ffaf,#abff54,#7fff80,#04fffb,#00e4ff,#00eaff,#66ff99,#eaff15,#e8ff17,#c5ff3a,#f2ff0d,#d2ff2d,#feff01,#dcff23,#eeff11,#fbff04,#faff05,#fffc00,#fffb00,#f6ff09,#fff600,#ffe400,#ffd900,#fff000,#ffdd00,#ffcb00,#fff300,#ffd000,#ffcf00,#ffbb00,#ffd300,#ffc400,#ffbf00,#ff9400,#ffce00,#ffba00,#ffb000,#ffb900,#ffb300,#ffb500,#ffbe00,#ffc200,#ffcb00,#ffcc00,#ffc200,#ffbe00,#ffbe00,#ffbf00,#ffc600,#ffd300,#ffe300,#ffef00,#fff500,#fff800,#fff900,#fffa00,#fffc00,#feff01,#f9ff06,#f2ff0d,#eaff15,#e1ff1e,#d9ff26,#d1ff2e,#c9ff36,#c3ff3c,#beff41,#baff45,#b8ff47,#b6ff49,#b6ff49,#b6ff49,#b7ff48,#b8ff47 calc(100% - 3px))"></i>
<i style="left:39px;width:2px;background:linear-gradient(#006eff 3px,#0074ff,#0079ff,#007fff,#0087ff,#00a3ff,#17ffe8,#6eff91,#42ffbd,#00c7ff,#00aaff,#00b1ff,#30ffcf,#caff35,#afff50,#b1ff4e,#b9ff46,#c5ff3a,#c4ff3b,#9bff64,#beff41,#c8ff37,#a9ff56,#ddff22,#c3ff3c,#d0ff2f,#d5ff2a,#cdff32,#f0ff0f,#feff01,#c3ff3c,#f2ff0d,#d9ff26,#eaff15,#eeff11,#dfff20,#fcff03,#f0ff0f,#f8ff07,#fcff03,#c3ff3c,#f7ff08,#ffed00,#e0ff1f,#e3ff1c,#e7ff18,#ecff13,#fffc00,#f0ff0f,#e5ff1a,#f8ff07,#fdff02,#f9ff06,#f9ff06,#f7ff08,#eaff15,#d5ff2a,#c3ff3c,#b8ff47,#b4ff4b,#b6ff49,#baff45,#beff41,#bfff40,#bfff40,#baff45,#b4ff4b,#abff54,#a3ff5c,#9aff65,#93ff6c,#8cff73,#87ff78,#83ff7c,#80ff7f,#7fff80,#7fff80,#80ff7f,#81ff7e,#83ff7c calc(100% - 3px))"></i>
<i style="left:41px;width:2px;background:linear-gradient(#0000e2 3px,#0000e2,#0000e2,#0000e2,#0000e2,#0000e9,#002bff,#005fff,#003aff,#0000de,#0000cb,#0000d8,#00b0ff,#87ff78,#86ff79,#aaff55,#89ff76,#93ff6c,#92ff6d,#8bff74,#abff54,#97ff68,#75ff8a,#a5ff5a,#7dff82,#a2ff5d,#a9ff56,#82ff7d,#a9ff56,#cdff32,#80ff7f,#9aff65,#a0ff5f,#97ff68,#bdff42,#6eff91,#bbff44,#9aff65,#b3ff4c,#9dff62,#7fff80,#99ff66,#ceff31,#9bff64,#9dff62,#a0ff5f,#abff54,#d1ff2e,#a7ff58,#92ff6d,#b5ff4a,#b5ff4a,#9eff61,#9eff61,#abff54,#aeff51,#a5ff5a,#99ff66,#8eff71,#87ff78,#84ff7b,#83ff7c,#83ff7c,#82ff7d,#80ff7f,#7dff82,#79ff86,#74ff8b,#6fff90,#6aff95,#65ff9a,#60ff9f,#5dffa2,#59ffa6,#57ffa8,#55ffaa,#53ffac,#52ffad,#51ffae,#51ffae calc(100% - 3px))"></i>
<i style="left:43px;width:2px;background:linear-gradient(#001fff 3px,#001fff,#001fff,#001eff,#001cff,#0016ff,#0025ff,#0035ff,#001dff,#0000e7,#0000dc,#0000e8,#00abff,#51ffae,#6aff95,#75ff8a,#73ff8c,#53ffac,#83ff7c,#74ff8b,#8dff72,#73ff8c,#87ff78,#60ff9f,#4bffb4,#79ff86,#71ff8e,#69ff96,#89ff76,#72ff8d,#6bff94,#6bff94,#5bffa4,#61ff9e,#8bff74,#6cff93,#5effa1,#62ff9d,#85ff7a,#7bff84,#55ffaa,#3effc1,#65ff9a,#80ff7f,#8cff73,#72ff8d,#77ff88,#a4ff5b,#7aff85,#5affa5,#6fff90,#6aff95,#59ffa6,#61ff9e,#79ff86,#8aff75,#90ff6f,#8fff70,#8aff75,#82ff7d,#78ff87,#6eff91,#65ff9a,#5dffa2,#58ffa7,#54ffab,#52ffad,#52ffad,#52ffad,#51ffae,#51ffae,#50ffaf,#4effb1,#4bffb4,#49ffb6,#45ffba,#41ffbe,#3dffc2,#38ffc7,#34ffcb calc(100% - 3px))"></i>
<i style="left:45px;width:2px;background:linear-gradient(#001fff 3px,#001fff,#001fff,#001eff,#001cff,#0016ff,#0021ff,#002fff,#0018ff,#0000e6,#0000dc,#0000e6,#009cff,#4cffb3,#47ffb8,#55ffaa,#4dffb2,#68ff97,#59ffa6,#2effd1,#33ffcc,#44ffbb,#66ff99,#57ffa8,#36ffc9,#70ff8f,#25ffda,#35ffca,#6dff92,#4dffb2,#4effb1,#55ffaa,#3fffc0,#53ffac,#3dffc2,#8bff74,#30ffcf,#4dffb2,#7aff85,#6bff94,#08fff7,#1bffe4,#00f8ff,#4affb5,#3affc5,#29ffd6,#5affa5,#7bff84,#66ff99,#40ffbf,#29ffd6,#27ffd8,#33ffcc,#3fffc0,#4affb5,#56ffa9,#60ff9f,#66ff99,#66ff99,#62ff9d,#5cffa3,#54ffab,#4dffb2,#47ffb8,#43ffbc,#41ffbe,#41ffbe,#42ffbd,#43ffbc,#44ffbb,#44ffbb,#44ffbb,#42ffbd,#40ffbf,#3cffc3,#38ffc7,#32ffcd,#2dffd2,#27ffd8,#21ffde calc(100% - 3px))"></i>
<i style="left:47px;width:2px;background:linear-gradient(#001cff 3px,#001cff,#001cff,#001cff,#001aff,#0013ff,#001dff,#002aff,#0014ff,#0000e5,#0000db,#0000e5,#0083ff,#20ffdf,#28ffd7,#30ffcf,#14ffeb,#60ff9f,#3affc5,#46ffb9,#10ffef,#45ffba,#41ffbe,#64ff9b,#39ffc6,#54ffab,#2fffd0,#26ffd9,#3effc1,#27ffd8,#26ffd9,#5bffa4,#21ffde,#1cffe3,#27ffd8,#3cffc3,#09fff6,#16ffe9,#7aff85,#60ff9f,#0dfff2,#00faff,#00feff,#00ceff,#1bffe4,#27ffd8,#0efff1,#30ffcf,#2fffd0,#21ffde,#1cffe3,#12ffed,#0dfff2,#15ffea,#23ffdc,#2effd1,#34ffcb,#35ffca,#34ffcb,#32ffcd,#31ffce,#30ffcf,#2fffd0,#2fffd0,#30ffcf,#30ffcf,#31ffce,#32ffcd,#32ffcd,#32ffcd,#31ffce,#2fffd0,#2dffd2,#2affd5,#27ffd8,#23ffdc,#1fffe0,#1bffe4,#16ffe9,#12ffed calc(100% - 3px))"></i>
<i style="left:49px;width:2px;background:linear-gradient(#0000c3 3px,#0000c3,#0000c3,#0000c3,#0000c3,#0000cb,#000bff,#003bff,#001cff,#0000cd,#0000bd,#0000c8,#0064ff,#00e9ff,#09fff6,#14ffeb,#00fbff,#38ffc7,#1dffe2,#59ffa6,#1effe1,#23ffdc,#2dffd2,#22ffdd,#26ffd9,#29ffd6,#41ffbe,#27ffd8,#0bfff4,#00faff,#02fffd,#40ffbf,#05fffa,#00e7ff,#05fffa,#00efff,#00e9ff,#08fff7,#3affc5,#2bffd4,#2dffd2,#00c1ff,#1dffe2,#00a3ff,#0ffff0,#12ffed,#00baff,#00f2ff,#00fcff,#04fffb,#1fffe0,#1bffe4,#08fff7,#06fff9,#11ffee,#1affe5,#1dffe2,#1dffe2,#1affe5,#16ffe9,#12ffed,#0ffff0,#0bfff4,#09fff6,#08fff7,#08fff7,#09fff6,#0afff5,#0bfff4,#0cfff3,#0cfff3,#0cfff3,#0cfff3,#0cfff3,#0bfff4,#0afff5,#08fff7,#07fff8,#05fffa,#03fffc calc(100% - 3px))"></i>
<i style="left:51px;width:2px;background:linear-gradient(#0000b9 3px,#0000b9,#0000b9,#0000b9,#0000ba,#0000c3,#0003ff,#0034ff,#0016ff,#0000c9,#0000ba,#0000c3,#005dff,#00e3ff,#00f0ff,#17ffe8,#08fff7,#10ffef,#00f3ff,#0dfff2,#20ffdf,#00dbff,#1effe1,#00c1ff,#00f5ff,#00ffff,#08fff7,#07fff8,#00f8ff,#00e9ff,#00faff,#00f0ff,#00fbff,#00edff,#00d7ff,#00feff,#00e6ff,#14ffeb,#00e1ff,#00e4ff,#17ffe8,#00afff,#00e8ff,#00eeff,#00e0ff,#00ceff,#00c7ff,#00e2ff,#00efff,#00fbff,#0cfff3,#18ffe7,#19ffe6,#11ffee,#09fff6,#07fff8,#09fff6,#0bfff4,#0bfff4,#07fff8,#00fdff,#00f3ff,#00e9ff,#00e1ff,#00dbff,#00d8ff,#00d7ff,#00d8ff,#00dbff,#00deff,#00e1ff,#00e5ff,#00e8ff,#00ebff,#00edff,#00efff,#00f1ff,#00f3ff,#00f4ff,#00f5ff calc(100% - 3px))"></i>
<i style="left:53px;width:2px;background:linear-gradient(#0008ff 3px,#0008ff,#0008ff,#0008ff,#0007ff,#0002ff,#0011ff,#0020ff,#000cff,#0000de,#0000d4,#0000dd,#005aff,#00f1ff,#00f6ff,#1affe5,#00fdff,#00d1ff,#00d9ff,#00d9ff,#13ffec,#00fcff,#0bfff4,#00f5ff,#00e0ff,#00d7ff,#00c7ff,#00e6ff,#0dfff2,#00ebff,#0efff1,#00b6ff,#00f4ff,#00eeff,#1bffe4,#00ebff,#00e1ff,#00baff,#00eaff,#00e4ff,#00d8ff,#00e9ff,#008eff,#00e6ff,#00c9ff,#00e1ff,#06fff9,#00caff,#00daff,#02fffd,#06fff9,#00f9ff,#00edff,#00ebff,#00ebff,#00e7ff,#00e2ff,#00e2ff,#00e6ff,#00e8ff,#00e5ff,#00dfff,#00d7ff,#00d0ff,#00caff,#00c6ff,#00c5ff,#00c5ff,#00c6ff,#00c8ff,#00cbff,#00cfff,#00d3ff,#00d6ff,#00daff,#00deff,#00e2ff,#00e5ff,#00e8ff,#00ebff calc(100% - 3px))"></i>
<i style="left:55px;width:2px;background:linear-gradient(#0024ff 3px,#0024ff,#0024ff,#0023ff,#0021ff,#0018ff,#0016ff,#0019ff,#0008ff,#0000e5,#0000de,#0000e6,#0069ff,#00f5ff,#00f0ff,#07fff8,#00f9ff,#00c6ff,#00f2ff,#00d5ff,#00f0ff,#1effe1,#00e9ff,#1effe1,#00daff,#00efff,#00c7ff,#00f2ff,#00f3ff,#00d0ff,#00e1ff,#00adff,#00faff,#00ccff,#0bfff4,#00caff,#00d8ff,#00ddff,#00d8ff,#00e3ff,#0085ff,#00e2ff,#00b6ff,#00b1ff,#009eff,#00c0ff,#00c7ff,#0083ff,#009bff,#00d6ff,#00efff,#00d9ff,#00bbff,#00bdff,#00cdff,#00d2ff,#00cdff,#00cbff,#00cdff,#00d1ff,#00d6ff,#00d9ff,#00daff,#00daff,#00d9ff,#00d7ff,#00d4ff,#00d1ff,#00cfff,#00cdff,#00ccff,#00ccff,#00cdff,#00ceff,#00d1ff,#00d3ff,#00d7ff,#00daff,#00deff,#00e2ff calc(100% - 3px))"></i>
<i style="left:57px;width:2px;background:linear-gradient(#0024ff 3px,#0024ff,#0024ff,#0023ff,#0021ff,#0018ff,#0014ff,#0015ff,#0005ff,#0000e4,#0000de,#0000e6,#0070ff,#00cfff,#00e1ff,#00fcff,#00ebff,#00e7ff,#14ffeb,#00ccff,#00caff,#00ffff,#00daff,#00d1ff,#00daff,#00eaff,#00cbff,#00eaff,#00d4ff,#00d5ff,#009aff,#00caff,#00d7ff,#00c7ff,#00a4ff,#00d2ff,#00aaff,#00ebff,#00adff,#00b2ff,#0091ff,#00bfff,#00eeff,#00a9ff,#0072ff,#0070ff,#0060ff,#0041ff,#0059ff,#0097ff,#00c4ff,#00c2ff,#00abff,#00a9ff,#00b5ff,#00bcff,#00bdff,#00bdff,#00bfff,#00c6ff,#00d0ff,#00dcff,#00e7ff,#00efff,#00f3ff,#00f2ff,#00efff,#00e9ff,#00e2ff,#00dcff,#00d6ff,#00d1ff,#00cdff,#00caff,#00c9ff,#00c9ff,#00caff,#00ccff,#00ceff,#00d1ff calc(100% - 3px))"></i>
<i style="left:59px;width:2px;background:linear-gradient(#000eff 3px,#000eff,#000eff,#000eff,#000cff,#0006ff,#000bff,#0013ff,#0002ff,#0000dd,#0000d6,#0000de,#0060ff,#00aaff,#00dfff,#00e6ff,#00caff,#00edff,#00f5ff,#00b9ff,#00c2ff,#00cbff,#00edff,#0071ff,#00e9ff,#0098ff,#00a3ff,#00c2ff,#00e5ff,#00f4ff,#00a1ff,#00dbff,#0092ff,#00eeff,#0071ff,#00e2ff,#0068ff,#0076ff,#00b4ff,#0085ff,#00d0ff,#00c2ff,#00c4ff,#00c3ff,#0075ff,#005eff,#0070ff,#0053ff,#0061ff,#0080ff,#0094ff,#00a3ff,#00abff,#00abff,#00a5ff,#00a1ff,#00a0ff,#00a2ff,#00aaff,#00b7ff,#00caff,#00ddff,#00eeff,#00fbff,#03fffc,#04fffb,#00ffff,#00f8ff,#00eeff,#00e4ff,#00daff,#00d1ff,#00c9ff,#00c3ff,#00beff,#00baff,#00b8ff,#00b7ff,#00b7ff,#00b8ff calc(100% - 3px))"></i>
<i style="left:61px;width:2px;background:linear-gradient(#0000ba 3px,#0000ba,#0000ba,#0000ba,#0000bb,#0000c1,#0000ee,#0012ff,#0000fb,#0000c5,#0000ba,#0000c2,#006fff,#00deff,#00d6ff,#0082ff,#00c5ff,#00c2ff,#009cff,#00d5ff,#00d4ff,#00b8ff,#00eaff,#00a8ff,#00f7ff,#009cff,#0094ff,#00d6ff,#00e1ff,#00c7ff,#00c7ff,#00a7ff,#00aaff,#00dbff,#009aff,#00a1ff,#0088ff,#0093ff,#00c0ff,#00a5ff,#009cff,#00b6ff,#0083ff,#0097ff,#0083ff,#006fff,#0078ff,#007dff,#0091ff,#008aff,#0069ff,#0073ff,#009aff,#00aeff,#00aeff,#00a4ff,#0099ff,#0096ff,#009dff,#00acff,#00c0ff,#00d5ff,#00e6ff,#00f3ff,#00faff,#00fbff,#00f7ff,#00eeff,#00e4ff,#00d9ff,#00ceff,#00c3ff,#00baff,#00b1ff,#00aaff,#00a5ff,#00a0ff,#009dff,#009bff,#0099ff calc(100% - 3px))"></i>
<i style="left:63px;width:2px;background:linear-gradient(#0000b8 3px,#0000b8,#0000b8,#0000b8,#0000b8,#0000be,#0000ea,#000dff,#0000f8,#0000c3,#0000b9,#0000c0,#0078ff,#00e8ff,#00baff,#00afff,#00cfff,#00a8ff,#0098ff,#00d3ff,#00cbff,#00b8ff,#00b8ff,#00beff,#00bcff,#00d5ff,#0079ff,#00caff,#009fff,#009eff,#0080ff,#0094ff,#00cbff,#008fff,#00b4ff,#0069ff,#0098ff,#0078ff,#00a8ff,#00a1ff,#0083ff,#00b5ff,#0086ff,#0080ff,#0090ff,#0098ff,#0085ff,#006cff,#008cff,#0090ff,#0062ff,#0059ff,#007dff,#0098ff,#00a2ff,#009dff,#0093ff,#0090ff,#0097ff,#00a4ff,#00b4ff,#00c2ff,#00cdff,#00d4ff,#00d8ff,#00d8ff,#00d3ff,#00ccff,#00c4ff,#00bbff,#00b2ff,#00aaff,#00a2ff,#009bff,#0094ff,#008fff,#008aff,#0086ff,#0083ff,#0081ff calc(100% - 3px))"></i>
<i style="left:65px;width:2px;background:linear-gradient(#0000bb 3px,#0000bb,#0000bb,#0000bb,#0000bb,#0000c1,#0000e9,#0009ff,#0000f4,#0000c4,#0000ba,#0000bf,#0057ff,#009fff,#00a9ff,#13ffec,#00c9ff,#00afff,#00c2ff,#0091ff,#00afff,#0091ff,#009dff,#00a0ff,#0083ff,#00ebff,#0052ff,#00b9ff,#0060ff,#00acff,#0056ff,#009bff,#00beff,#0072ff,#00acff,#0072ff,#0086ff,#0044ff,#0082ff,#0085ff,#00a2ff,#00b1ff,#00b2ff,#008fff,#008dff,#00adff,#009dff,#005fff,#005eff,#0066ff,#0057ff,#0062ff,#007dff,#008cff,#0090ff,#0094ff,#0099ff,#00a0ff,#00a5ff,#00aaff,#00adff,#00aeff,#00aeff,#00acff,#00aaff,#00a7ff,#00a3ff,#009fff,#009bff,#0098ff,#0094ff,#0091ff,#008eff,#008bff,#0088ff,#0086ff,#0083ff,#0081ff,#0080ff,#007eff calc(100% - 3px))"></i>
<i style="left:67px;width:2px;background:linear-gradient(#0000d1 3px,#0000d1,#0000d1,#0000d1,#0000d0,#0000d2,#0000ee,#0005ff,#0000f3,#0000ca,#0000c1,#0000c6,#0037ff,#0072ff,#00bbff,#00d9ff,#00b2ff,#009cff,#00b0ff,#0064ff,#00a9ff,#0053ff,#00c0ff,#00a5ff,#0098ff,#00ceff,#005dff,#00cfff,#007aff,#00b8ff,#00c6ff,#007eff,#009eff,#00acff,#0092ff,#0089ff,#0083ff,#0090ff,#006eff,#0081ff,#009dff,#0094ff,#00a7ff,#0085ff,#0073ff,#008bff,#0093ff,#0070ff,#004eff,#003cff,#0048ff,#0077ff,#009cff,#009fff,#0097ff,#00a0ff,#00b5ff,#00c3ff,#00c4ff,#00bcff,#00b0ff,#00a2ff,#0096ff,#008aff,#0081ff,#007bff,#0078ff,#0077ff,#0078ff,#007aff,#007cff,#007eff,#0081ff,#0083ff,#0085ff,#0087ff,#0089ff,#008aff,#008bff,#008cff calc(100% - 3px))"></i>
<i style="left:69px;width:2px;background:linear-gradient(#0000d1 3px,#0000d1,#0000d1,#0000d1,#0000d1,#0000d2,#0000ec,#0002ff,#0000f1,#0000c9,#0000c1,#0000c8,#002eff,#00b5ff,#00cdff,#0092ff,#00abff,#004dff,#00a1ff,#00aaff,#00b4ff,#0066ff,#00b6ff,#008bff,#0085ff,#00b8ff,#00a4ff,#0091ff,#008eff,#0084ff,#00c6ff,#008aff,#009cff,#00bbff,#005dff,#0085ff,#0089ff,#009bff,#0060ff,#0059ff,#007bff,#0085ff,#004bff,#0068ff,#0054ff,#0052ff,#0048ff,#001bff,#006dff,#00a2ff,#0098ff,#00a0ff,#00adff,#00a3ff,#0096ff,#009eff,#00b5ff,#00c6ff,#00caff,#00c3ff,#00b4ff,#00a2ff,#0091ff,#0082ff,#0076ff,#006fff,#006bff,#0069ff,#006aff,#006cff,#006fff,#0072ff,#0076ff,#0079ff,#007cff,#0080ff,#0083ff,#0085ff,#0088ff,#008aff calc(100% - 3px))"></i>
<i style="left:71px;width:2px;background:linear-gradient(#0000d1 3px,#0000d1,#0000d1,#0000d1,#0000d1,#0000d2,#0000eb,#0000ff,#0000ef,#0000c9,#0000c1,#0000c9,#003bff,#00deff,#00d2ff,#00deff,#00c3ff,#004dff,#00a8ff,#00d3ff,#00acff,#0058ff,#0095ff,#008aff,#0088ff,#00bcff,#00d0ff,#0060ff,#00b6ff,#007cff,#009dff,#008eff,#00b8ff,#00a9ff,#0057ff,#0081ff,#0055ff,#0092ff,#006cff,#0069ff,#0052ff,#0086ff,#0058ff,#004cff,#004aff,#004aff,#0029ff,#0014ff,#0098ff,#00e1ff,#00bdff,#00a2ff,#009cff,#008cff,#007fff,#0086ff,#009aff,#00aaff,#00b1ff,#00b0ff,#00abff,#00a4ff,#009cff,#0094ff,#008cff,#0085ff,#007fff,#007aff,#0076ff,#0073ff,#0070ff,#006fff,#006eff,#006dff,#006eff,#006eff,#006fff,#0071ff,#0072ff,#0074ff calc(100% - 3px))"></i>
<i style="left:73px;width:2px;background:linear-gradient(#0000c1 3px,#0000c1,#0000c1,#0000c1,#0000c1,#0000c5,#0000e4,#0000fc,#0000ec,#0000c4,#0000bc,#0000c2,#0035ff,#00adff,#00a5ff,#1bffe4,#00d9ff,#008bff,#00a4ff,#00a7ff,#009bff,#0058ff,#009dff,#00b3ff,#0097ff,#00d1ff,#00adff,#0068ff,#00c5ff,#00aeff,#0097ff,#0079ff,#00aeff,#0094ff,#006eff,#0095ff,#0033ff,#007bff,#0079ff,#0076ff,#0023ff,#007dff,#0072ff,#0036ff,#004bff,#006dff,#005cff,#003fff,#0074ff,#0092ff,#007aff,#0077ff,#0082ff,#0078ff,#0066ff,#0063ff,#006dff,#007aff,#0084ff,#008eff,#0096ff,#009eff,#00a3ff,#00a6ff,#00a5ff,#00a2ff,#009dff,#0096ff,#008fff,#0088ff,#0081ff,#007bff,#0076ff,#0072ff,#006fff,#006dff,#006bff,#006aff,#006aff,#006aff calc(100% - 3px))"></i>
<i style="left:75px;width:2px;background:linear-gradient(#0000b8 3px,#0000b8,#0000b8,#0000b8,#0000b9,#0000c5,#0000f6,#0019ff,#0005ff,#0000ce,#0000bb,#0000be,#001cff,#0087ff,#006dff,#00b3ff,#00e6ff,#0098ff,#00a4ff,#0090ff,#00b3ff,#00d7ff,#00e0ff,#00e0ff,#0090ff,#00fdff,#0081ff,#0070ff,#00aaff,#00c4ff,#00a7ff,#0088ff,#0087ff,#0099ff,#007eff,#00baff,#0087ff,#004eff,#006cff,#001fff,#000dff,#0064ff,#0000ee,#003eff,#0057ff,#0078ff,#006dff,#0000f1,#0000f2,#0023ff,#0038ff,#005bff,#0074ff,#0070ff,#0059ff,#0044ff,#003fff,#0048ff,#005cff,#0072ff,#0086ff,#0096ff,#00a2ff,#00aaff,#00afff,#00b0ff,#00aeff,#00aaff,#00a5ff,#009fff,#0098ff,#0092ff,#008cff,#0087ff,#0083ff,#007fff,#007cff,#0079ff,#0077ff,#0075ff calc(100% - 3px))"></i>
<i style="left:77px;width:2px;background:linear-gradient(#0000b8 3px,#0000b8,#0000b8,#0000b9,#0000be,#0000dd,#003bff,#0075ff,#0057ff,#0000f5,#0000c4,#0000c2,#0044ff,#00d2ff,#00dbff,#07fff8,#3fffc0,#00c8ff,#13ffec,#00edff,#04fffb,#34ffcb,#30ffcf,#33ffcc,#00f6ff,#61ff9e,#06fff9,#00cbff,#15ffea,#00f2ff,#00e3ff,#00f2ff,#05fffa,#00f4ff,#00f1ff,#00dfff,#00adff,#00afff,#0095ff,#004cff,#005cff,#0071ff,#0027ff,#00a1ff,#00a1ff,#0072ff,#003bff,#0000fe,#0042ff,#0084ff,#008fff,#008eff,#0086ff,#0076ff,#0064ff,#0059ff,#005aff,#0064ff,#0073ff,#0083ff,#0090ff,#009cff,#00a4ff,#00abff,#00aeff,#00afff,#00aeff,#00abff,#00a7ff,#00a2ff,#009dff,#0098ff,#0093ff,#008eff,#008aff,#0085ff,#0082ff,#007eff,#007bff,#0078ff calc(100% - 3px))"></i>
<i style="left:79px;width:2px;background:linear-gradient(#0000b8 3px,#0000b8,#0000b8,#0000b8,#0000bc,#0000d5,#0023ff,#0054ff,#003aff,#0000e8,#0000c1,#0000c2,#003bff,#00c0ff,#00d3ff,#00efff,#00fdff,#00b9ff,#00e7ff,#00e0ff,#00d0ff,#00d3ff,#00dbff,#09fff6,#00b8ff,#00ffff,#00edff,#00c2ff,#00dfff,#00dcff,#00c0ff,#00cdff,#00ddff,#00b3ff,#00e9ff,#0086ff,#0069ff,#009eff,#008fff,#0078ff,#0077ff,#0075ff,#005aff,#007aff,#009cff,#003aff,#0000cd,#002cff,#00a1ff,#00b8ff,#007fff,#0069ff,#0072ff,#0068ff,#005bff,#0065ff,#007dff,#0092ff,#009eff,#00a2ff,#00a4ff,#00a3ff,#00a2ff,#00a0ff,#009dff,#009aff,#0096ff,#0092ff,#008fff,#008bff,#0087ff,#0083ff,#007fff,#007cff,#0078ff,#0075ff,#0072ff,#006fff,#006cff,#0069ff calc(100% - 3px))"></i>
<i style="left:81px;width:2px;background:linear-gradient(#0000a8 3px,#0000a8,#0000a8,#0000a8,#0000a9,#0000b0,#0000d5,#0000f0,#0000e0,#0000b6,#0000aa,#0000af,#0000ff,#007eff,#0089ff,#0064ff,#007cff,#00b5ff,#007eff,#009bff,#0087ff,#0075ff,#0086ff,#00afff,#0043ff,#0068ff,#007fff,#0094ff,#0061ff,#00adff,#0080ff,#0063ff,#0052ff,#0046ff,#008eff,#0033ff,#004eff,#0040ff,#006fff,#005fff,#006aff,#005aff,#001fff,#0000f1,#0048ff,#0019ff,#0000c3,#0033ff,#0090ff,#0083ff,#002bff,#0025ff,#0055ff,#0056ff,#0047ff,#0056ff,#007aff,#0098ff,#00a8ff,#00aaff,#00a2ff,#0097ff,#008bff,#0080ff,#0078ff,#0073ff,#0070ff,#006fff,#006eff,#006fff,#0070ff,#0070ff,#0071ff,#0071ff,#0070ff,#0070ff,#006fff,#006eff,#006cff,#006bff calc(100% - 3px))"></i>
<i style="left:83px;width:2px;background:linear-gradient(#0000a8 3px,#0000a8,#0000a8,#0000a8,#0000a9,#0000ad,#0000cb,#0000e1,#0000d3,#0000b0,#0000a9,#0000af,#0000f0,#0071ff,#00b0ff,#0051ff,#0065ff,#00a3ff,#0083ff,#007fff,#0084ff,#006aff,#0095ff,#0070ff,#0061ff,#0062ff,#0092ff,#0092ff,#0079ff,#0060ff,#004bff,#0043ff,#005aff,#004dff,#004bff,#002fff,#003dff,#004bff,#0047ff,#0036ff,#0063ff,#0000e7,#0000fc,#0000e9,#0000da,#0002ff,#001cff,#0027ff,#0049ff,#005dff,#0056ff,#004bff,#0040ff,#002dff,#0025ff,#0036ff,#0055ff,#0070ff,#0081ff,#0084ff,#007cff,#0070ff,#0062ff,#0056ff,#004fff,#004cff,#004eff,#0053ff,#005aff,#0061ff,#0068ff,#006fff,#0075ff,#007aff,#007fff,#0082ff,#0084ff,#0085ff,#0086ff,#0086ff calc(100% - 3px))"></i>
<i style="left:85px;width:2px;background:linear-gradient(#0000a8 3px,#0000a8,#0000a8,#0000a8,#0000a9,#0000ad,#0000c9,#0000df,#0000d2,#0000b0,#0000a9,#0000ae,#0003ff,#0044ff,#00a5ff,#00a8ff,#0085ff,#0034ff,#006fff,#0089ff,#0076ff,#0051ff,#007dff,#0074ff,#0044ff,#004eff,#0084ff,#0095ff,#008dff,#0071ff,#006aff,#0087ff,#007eff,#0035ff,#0023ff,#005fff,#003eff,#005bff,#003cff,#0014ff,#002eff,#0000c6,#0028ff,#0002ff,#0000e3,#0007ff,#001eff,#0028ff,#002eff,#0036ff,#003eff,#003bff,#002fff,#001eff,#0017ff,#0025ff,#003eff,#0054ff,#0063ff,#0068ff,#0066ff,#0060ff,#0058ff,#0052ff,#004eff,#004eff,#0050ff,#0054ff,#0059ff,#005eff,#0064ff,#0069ff,#006eff,#0073ff,#0077ff,#007aff,#007dff,#007fff,#0081ff,#0083ff calc(100% - 3px))"></i>
<i style="left:87px;width:2px;background:linear-gradient(#0000a8 3px,#0000a8,#0000a8,#0000a8,#0000a9,#0000ad,#0000c9,#0000de,#0000d1,#0000b0,#0000a9,#0000af,#0023ff,#005fff,#0097ff,#00d0ff,#00a7ff,#0048ff,#0083ff,#009dff,#008dff,#0063ff,#007bff,#00b3ff,#0054ff,#007bff,#00a0ff,#0085ff,#00b7ff,#00bcff,#00beff,#00a6ff,#00a7ff,#0049ff,#003fff,#006cff,#0059ff,#0053ff,#0049ff,#001aff,#0006ff,#0015ff,#0049ff,#0020ff,#0035ff,#0026ff,#0000f7,#0019ff,#003eff,#0038ff,#0013ff,#0014ff,#0030ff,#003aff,#0039ff,#003aff,#0041ff,#004bff,#0056ff,#0063ff,#006fff,#007aff,#0082ff,#0086ff,#0087ff,#0084ff,#007dff,#0074ff,#006aff,#0061ff,#0058ff,#0051ff,#004bff,#0046ff,#0044ff,#0042ff,#0043ff,#0044ff,#0046ff,#0048ff calc(100% - 3px))"></i>
<i style="left:89px;width:2px;background:linear-gradient(#0000a8 3px,#0000a8,#0000a8,#0000a8,#0000a9,#0000ac,#0000c8,#0000dd,#0000d0,#0000b0,#0000a9,#0000af,#0020ff,#009dff,#0079ff,#006fff,#0077ff,#008eff,#0093ff,#0055ff,#006fff,#004aff,#0059ff,#0089ff,#0067ff,#0094ff,#009fff,#0039ff,#00a2ff,#0087ff,#0094ff,#0045ff,#007bff,#006aff,#004bff,#002eff,#005cff,#0047ff,#0051ff,#0030ff,#0013ff,#0066ff,#0053ff,#0047ff,#0050ff,#0049ff,#001cff,#0000f3,#003cff,#0057ff,#0025ff,#0013ff,#002eff,#0041ff,#0045ff,#0040ff,#003aff,#0039ff,#0042ff,#0054ff,#006bff,#0081ff,#0093ff,#009eff,#00a2ff,#009eff,#0093ff,#0084ff,#0073ff,#0062ff,#0052ff,#0043ff,#0037ff,#002eff,#0027ff,#0023ff,#0021ff,#0020ff,#0021ff,#0023ff calc(100% - 3px))"></i>
<i style="left:91px;width:2px;background:linear-gradient(#0000a8 3px,#0000a8,#0000a8,#0000a8,#0000a9,#0000ac,#0000c7,#0000dc,#0000cf,#0000b0,#0000a9,#0000ae,#0002ff,#008bff,#003eff,#0068ff,#006eff,#0053ff,#00a0ff,#0043ff,#0042ff,#0023ff,#0042ff,#004fff,#004dff,#0074ff,#0069ff,#0078ff,#006bff,#005bff,#0049ff,#006bff,#0034ff,#0072ff,#0049ff,#0049ff,#0065ff,#0067ff,#0077ff,#003bff,#0021ff,#00abff,#0078ff,#004fff,#002fff,#0061ff,#006dff,#000eff,#0025ff,#0042ff,#0025ff,#001dff,#002cff,#002dff,#0026ff,#0025ff,#002bff,#0032ff,#0039ff,#0041ff,#004aff,#0052ff,#0059ff,#005eff,#0062ff,#0063ff,#0062ff,#0060ff,#005eff,#005bff,#0058ff,#0055ff,#0053ff,#0051ff,#0050ff,#004fff,#004fff,#004eff,#004fff,#004fff calc(100% - 3px))"></i>
<i style="left:93px;width:2px;background:linear-gradient(#0000a8 3px,#0000a8,#0000a8,#0000a8,#0000a9,#0000ac,#0000c7,#0000db,#0000cf,#0000af,#0000a9,#0000af,#000cff,#004dff,#0035ff,#007aff,#005fff,#005bff,#0085ff,#004eff,#0045ff,#0044ff,#006dff,#003bff,#003aff,#0067ff,#005fff,#0083ff,#0075ff,#006fff,#0039ff,#0082ff,#0056ff,#0058ff,#0037ff,#0051ff,#0071ff,#0051ff,#006bff,#0026ff,#003fff,#0035ff,#0029ff,#0004ff,#000fff,#0026ff,#002bff,#0029ff,#002bff,#0030ff,#0034ff,#0035ff,#002eff,#0020ff,#0016ff,#001aff,#0025ff,#002fff,#0033ff,#0031ff,#002aff,#0023ff,#001eff,#001bff,#001dff,#0024ff,#002eff,#0039ff,#0046ff,#0052ff,#005dff,#0067ff,#0070ff,#0076ff,#007bff,#007fff,#0081ff,#0082ff,#0082ff,#0081ff calc(100% - 3px))"></i>
<i style="left:95px;width:2px;background:linear-gradient(#0000a8 3px,#0000a8,#0000a8,#0000a8,#0000a9,#0000ac,#0000c6,#0000da,#0000ce,#0000af,#0000a9,#0000af,#0020ff,#0044ff,#0083ff,#007dff,#006bff,#0080ff,#0075ff,#0045ff,#007dff,#0095ff,#009fff,#006aff,#0067ff,#007bff,#0091ff,#0060ff,#0088ff,#008cff,#0078ff,#0072ff,#00a0ff,#0048ff,#0029ff,#0042ff,#003bff,#0035ff,#006aff,#0027ff,#0054ff,#0000ed,#0000e9,#0000d3,#0000f0,#0000fa,#0000f1,#000cff,#0023ff,#0039ff,#004cff,#004fff,#0043ff,#0030ff,#0022ff,#001fff,#0024ff,#002bff,#002fff,#0030ff,#002fff,#002eff,#002dff,#002eff,#0030ff,#0034ff,#0039ff,#0040ff,#0047ff,#004dff,#0054ff,#005aff,#005fff,#0063ff,#0066ff,#0069ff,#006bff,#006cff,#006dff,#006dff calc(100% - 3px))"></i>
<i style="left:97px;width:2px;background:linear-gradient(#0000a8 3px,#0000a8,#0000a8,#0000a8,#0000a9,#0000ac,#0000c6,#0000d9,#0000cd,#0000af,#0000a9,#0000ae,#0003ff,#0040ff,#00a0ff,#0044ff,#0058ff,#001dff,#0054ff,#0009ff,#0063ff,#006bff,#004fff,#0062ff,#005dff,#003fff,#0070ff,#001cff,#002aff,#0038ff,#007aff,#0037ff,#0069ff,#0016ff,#0010ff,#001fff,#0000c0,#003cff,#0082ff,#002cff,#0037ff,#0065ff,#0026ff,#0010ff,#0000dd,#0025ff,#0042ff,#0000e3,#0005ff,#0044ff,#0056ff,#0057ff,#004dff,#0038ff,#0023ff,#001aff,#001eff,#0026ff,#002fff,#003aff,#0046ff,#0053ff,#005dff,#0064ff,#0066ff,#0065ff,#0060ff,#005aff,#0053ff,#004cff,#0046ff,#0040ff,#003cff,#0038ff,#0036ff,#0035ff,#0035ff,#0035ff,#0036ff,#0038ff calc(100% - 3px))"></i>
<i style="left:99px;width:2px;background:linear-gradient(#0000a8 3px,#0000a8,#0000a8,#0000a8,#0000a9,#0000ac,#0000c5,#0000d9,#0000cd,#0000af,#0000a9,#0000ad,#0000eb,#000fff,#005cff,#0024ff,#0026ff,#001bff,#0063ff,#0060ff,#0040ff,#0033ff,#0025ff,#0057ff,#004aff,#003cff,#005aff,#0000fd,#004cff,#0030ff,#0073ff,#0038ff,#003fff,#0003ff,#002cff,#000aff,#0012ff,#001eff,#0049ff,#0000cd,#0000fe,#0027ff,#0000df,#0000fa,#0009ff,#0001ff,#0012ff,#002eff,#002bff,#0035ff,#0051ff,#004eff,#0034ff,#0027ff,#0024ff,#0021ff,#0020ff,#0026ff,#0031ff,#0041ff,#0052ff,#0061ff,#006cff,#0072ff,#0074ff,#0070ff,#0069ff,#005fff,#0054ff,#0049ff,#003fff,#0036ff,#002fff,#0028ff,#0023ff,#0020ff,#001eff,#001dff,#001cff,#001dff calc(100% - 3px))"></i>
<i style="left:101px;width:2px;background:linear-gradient(#0000a8 3px,#0000a8,#0000a8,#0000a8,#0000a9,#0000ac,#0000c5,#0000d8,#0000cd,#0000af,#0000a9,#0000ad,#0000fc,#0007ff,#0031ff,#0032ff,#001cff,#002fff,#0070ff,#006dff,#0029ff,#0059ff,#000bff,#0058ff,#0031ff,#0041ff,#0039ff,#002cff,#0076ff,#005dff,#006eff,#0041ff,#0051ff,#0013ff,#0048ff,#0001ff,#002cff,#002eff,#0012ff,#0000fb,#0016ff,#0001ff,#0000dd,#0000c7,#0000f4,#0000d6,#0003ff,#0076ff,#0030ff,#0000e0,#0014ff,#0041ff,#004aff,#0041ff,#0035ff,#002dff,#0029ff,#0028ff,#0029ff,#002dff,#0036ff,#0040ff,#0049ff,#0050ff,#0054ff,#0054ff,#0052ff,#004eff,#004aff,#0045ff,#003fff,#003aff,#0036ff,#0031ff,#002dff,#002aff,#0027ff,#0024ff,#0022ff,#0020ff calc(100% - 3px))"></i>
<i style="left:103px;width:2px;background:linear-gradient(#0000a8 3px,#0000a8,#0000a8,#0000a8,#0000a9,#0000ac,#0000c5,#0000d8,#0000cc,#0000af,#0000a9,#0000ad,#001cff,#0029ff,#003eff,#0063ff,#0037ff,#0027ff,#0059ff,#002fff,#0036ff,#0075ff,#000eff,#0074ff,#0019ff,#003dff,#002fff,#0048ff,#0071ff,#0054ff,#005eff,#0028ff,#004cff,#0040ff,#0057ff,#0000e1,#0024ff,#004fff,#001aff,#0027ff,#005fff,#0037ff,#0012ff,#0000e6,#0000d5,#0005ff,#0058ff,#007fff,#0019ff,#0000c0,#0000fc,#003dff,#0059ff,#0051ff,#003cff,#002fff,#0024ff,#0011ff,#0000f9,#0000eb,#0000eb,#0000f5,#0005ff,#0013ff,#0020ff,#002bff,#0032ff,#0037ff,#003bff,#003eff,#003fff,#0040ff,#003fff,#003eff,#003dff,#003bff,#0039ff,#0036ff,#0034ff,#0031ff calc(100% - 3px))"></i>
<i style="left:105px;width:2px;background:linear-gradient(#0000a8 3px,#0000a8,#0000a8,#0000a8,#0000a9,#0000ac,#0000c4,#0000d7,#0000cc,#0000af,#0000a9,#0000ad,#0018ff,#0037ff,#0035ff,#008fff,#003dff,#002dff,#0032ff,#001fff,#005aff,#001eff,#0041ff,#007fff,#0018ff,#0046ff,#0050ff,#0028ff,#0062ff,#0022ff,#004aff,#0005ff,#0000fd,#0073ff,#0056ff,#0000bf,#005cff,#0035ff,#0032ff,#0000af,#0081ff,#003eff,#0000f8,#0032ff,#0023ff,#004bff,#007dff,#0051ff,#0017ff,#0018ff,#0044ff,#0041ff,#0026ff,#0021ff,#002aff,#0028ff,#0012ff,#0000ef,#0000cf,#0000c0,#0000c1,#0000ce,#0000e0,#0000f4,#0007ff,#0016ff,#0022ff,#002cff,#0033ff,#0038ff,#003dff,#003fff,#0041ff,#0042ff,#0043ff,#0043ff,#0042ff,#0041ff,#0041ff,#003fff calc(100% - 3px))"></i>
<i style="left:107px;width:2px;background:linear-gradient(#0000a8 3px,#0000a8,#0000a8,#0000a8,#0000a8,#0000ac,#0000c4,#0000d7,#0000cb,#0000af,#0000a9,#0000ad,#0000fb,#0045ff,#0013ff,#0085ff,#0038ff,#0057ff,#0026ff,#0000f8,#005eff,#0005ff,#0050ff,#002aff,#0045ff,#005eff,#0051ff,#0039ff,#003bff,#0072ff,#005eff,#002bff,#0003ff,#0070ff,#0034ff,#0031ff,#0052ff,#0010ff,#001dff,#0000f3,#0057ff,#002dff,#0018ff,#003eff,#006fff,#005aff,#002cff,#0021ff,#000fff,#001cff,#0041ff,#003bff,#001eff,#0017ff,#001dff,#0016ff,#0005ff,#0000f7,#0000f3,#0000f8,#0004ff,#0010ff,#001dff,#0028ff,#0031ff,#0037ff,#003aff,#003bff,#003bff,#003bff,#003aff,#0039ff,#0038ff,#0038ff,#0038ff,#0039ff,#003bff,#003cff,#003eff,#0040ff calc(100% - 3px))"></i>
<i style="left:109px;width:2px;background:linear-gradient(#0000a8 3px,#0000a8,#0000a8,#0000a8,#0000a8,#0000ac,#0000c4,#0000d6,#0000cb,#0000af,#0000a9,#0000ad,#0000e1,#0047ff,#0032ff,#0057ff,#004bff,#0083ff,#0042ff,#0018ff,#0070ff,#004aff,#0058ff,#0020ff,#007eff,#0079ff,#0063ff,#0076ff,#0028ff,#0079ff,#0056ff,#0053ff,#0058ff,#003fff,#003fff,#0047ff,#004eff,#0000dc,#0000fd,#0047ff,#0041ff,#001aff,#0013ff,#0038ff,#0057ff,#0034ff,#0002ff,#0000f4,#0000f1,#0007ff,#0030ff,#004fff,#0046ff,#001dff,#0000f1,#0000ed,#000aff,#002dff,#004cff,#0063ff,#0072ff,#007aff,#007dff,#007cff,#0077ff,#006eff,#0064ff,#0059ff,#004eff,#0044ff,#003cff,#0036ff,#0031ff,#002fff,#002eff,#002fff,#0031ff,#0035ff,#0039ff,#003dff calc(100% - 3px))"></i>
<i style="left:111px;width:2px;background:linear-gradient(#0000a8 3px,#0000a8,#0000a8,#0000a8,#0000a8,#0000ac,#0000c4,#0000d6,#0000cb,#0000af,#0000a9,#0000ae,#0000d4,#0027ff,#0040ff,#000cff,#0039ff,#0043ff,#003dff,#0020ff,#0057ff,#003fff,#002dff,#0043ff,#0050ff,#0051ff,#003bff,#005dff,#0025ff,#0009ff,#0002ff,#002bff,#004aff,#0000f4,#0024ff,#0000f5,#003dff,#000095,#0012ff,#0024ff,#003eff,#001eff,#0000ea,#0044ff,#000eff,#0002ff,#0020ff,#0000e9,#0000de,#0006ff,#0036ff,#005eff,#0054ff,#0018ff,#0000de,#0000ea,#0022ff,#0056ff,#007aff,#008eff,#0099ff,#009dff,#009cff,#0097ff,#008eff,#0082ff,#0075ff,#0068ff,#005cff,#0052ff,#004aff,#0043ff,#003eff,#003bff,#003aff,#003bff,#003dff,#0040ff,#0043ff,#0047ff calc(100% - 3px))"></i>
<i style="left:113px;width:2px;background:linear-gradient(#0000a8 3px,#0000a8,#0000a8,#0000a8,#0000a8,#0000ac,#0000c4,#0000d6,#0000cb,#0000af,#0000a9,#0000ad,#0000e0,#0023ff,#0014ff,#0000fd,#0026ff,#0006ff,#0049ff,#0005ff,#0032ff,#0010ff,#0027ff,#004cff,#0019ff,#0039ff,#0019ff,#0036ff,#0053ff,#0032ff,#0003ff,#0027ff,#0000db,#0016ff,#0000c1,#001eff,#0000f6,#00008f,#0047ff,#0000d7,#000eff,#003bff,#000bff,#003eff,#0012ff,#0000f7,#0017ff,#000eff,#0000ec,#0000fa,#0030ff,#004bff,#0042ff,#0030ff,#0028ff,#0034ff,#004aff,#005eff,#006bff,#0072ff,#0074ff,#0074ff,#0072ff,#006fff,#006bff,#0067ff,#0063ff,#005fff,#005bff,#0058ff,#0055ff,#0053ff,#0052ff,#0051ff,#0050ff,#0050ff,#0051ff,#0051ff,#0052ff,#0053ff calc(100% - 3px))"></i>
<i style="left:115px;width:2px;background:linear-gradient(#0000a8 3px,#0000a8,#0000a8,#0000a8,#0000a8,#0000ac,#0000c3,#0000d5,#0000ca,#0000af,#0000a9,#0000ac,#0000e4,#001dff,#000eff,#001dff,#001bff,#0051ff,#0038ff,#0026ff,#0000f1,#0037ff,#004bff,#002eff,#0034ff,#0022ff,#005eff,#0032ff,#0027ff,#001eff,#0000f3,#004cff,#0000af,#0056ff,#0000dc,#004bff,#0000f5,#0000eb,#001cff,#000dff,#0003ff,#0038ff,#002cff,#0000fe,#001dff,#0030ff,#002dff,#002dff,#0010ff,#0010ff,#003fff,#006aff,#007fff,#0080ff,#007cff,#007bff,#0078ff,#006cff,#0058ff,#0045ff,#0039ff,#0033ff,#0031ff,#0031ff,#0033ff,#0037ff,#003bff,#003fff,#0043ff,#0047ff,#004aff,#004cff,#004eff,#004eff,#004eff,#004eff,#004cff,#004bff,#0049ff,#0046ff calc(100% - 3px))"></i>
<i style="left:117px;width:2px;background:linear-gradient(#0000a8 3px,#0000a8,#0000a8,#0000a8,#0000a8,#0000ac,#0000c3,#0000d5,#0000ca,#0000af,#0000a9,#0000ab,#0000df,#0023ff,#0024ff,#003cff,#001eff,#005aff,#002bff,#0030ff,#0000f7,#0056ff,#0044ff,#002dff,#0061ff,#0006ff,#0062ff,#0034ff,#0005ff,#0006ff,#0002ff,#0057ff,#0000eb,#0042ff,#0000fd,#0060ff,#0000f3,#004cff,#0000e7,#004fff,#004dff,#0047ff,#0043ff,#0000db,#0000fc,#002cff,#002bff,#0022ff,#0000fc,#0000e7,#0008ff,#0042ff,#0077ff,#008dff,#008fff,#008aff,#007eff,#0065ff,#0045ff,#0028ff,#0015ff,#000cff,#0008ff,#0009ff,#000cff,#0011ff,#0018ff,#001eff,#0024ff,#002aff,#002fff,#0032ff,#0035ff,#0036ff,#0036ff,#0035ff,#0033ff,#0030ff,#002dff,#002aff calc(100% - 3px))"></i>
<i style="left:119px;width:2px;background:linear-gradient(#0000a8 3px,#0000a8,#0000a8,#0000a8,#0000a8,#0000ac,#0000c3,#0000d5,#0000ca,#0000af,#0000a9,#0000ab,#0000d9,#002dff,#0032ff,#0036ff,#0023ff,#000aff,#0034ff,#0010ff,#0032ff,#002cff,#0022ff,#0044ff,#0056ff,#0000fa,#001eff,#003bff,#002cff,#0023ff,#0026ff,#001dff,#002eff,#0006ff,#0000fc,#0055ff,#0000ee,#0048ff,#0000e9,#0046ff,#007fff,#0058ff,#0043ff,#000fff,#0000e0,#0000ed,#0018ff,#0024ff,#0000ed,#0000b9,#0000ca,#0000f5,#001aff,#0032ff,#0040ff,#0048ff,#004bff,#0048ff,#0041ff,#0038ff,#0030ff,#0029ff,#0023ff,#001fff,#001cff,#001bff,#001bff,#001bff,#001cff,#001dff,#001eff,#001eff,#001fff,#001fff,#001fff,#001fff,#001fff,#001fff,#001eff,#001eff calc(100% - 3px))"></i>
<i style="left:121px;width:2px;background:linear-gradient(#0000a8 3px,#0000a8,#0000a8,#0000a8,#0000a8,#0000ac,#0000c3,#0000d5,#0000ca,#0000af,#0000a9,#0000ac,#0000de,#0027ff,#0047ff,#002fff,#0036ff,#0049ff,#0048ff,#003bff,#004cff,#0021ff,#005dff,#0042ff,#003fff,#0021ff,#005fff,#0069ff,#004aff,#0039ff,#0027ff,#0000df,#0061ff,#0030ff,#0039ff,#0022ff,#0041ff,#0000d3,#0000e6,#0017ff,#0027ff,#0018ff,#001cff,#0040ff,#000eff,#0000fd,#0033ff,#004bff,#0029ff,#0013ff,#0025ff,#0030ff,#001cff,#0000fa,#0000e7,#0000f9,#0020ff,#0043ff,#005dff,#006bff,#006fff,#006cff,#0065ff,#005bff,#0051ff,#0046ff,#003cff,#0032ff,#0029ff,#0022ff,#001cff,#0017ff,#0014ff,#0013ff,#0013ff,#0014ff,#0017ff,#001aff,#001eff,#0021ff calc(100% - 3px))"></i>
<i style="left:123px;width:2px;background:linear-gradient(#0000a8 3px,#0000a8,#0000a8,#0000a8,#0000a8,#0000ac,#0000c3,#0000d5,#0000ca,#0000af,#0000a9,#0000ad,#0003ff,#003eff,#0047ff,#006fff,#0057ff,#0087ff,#005dff,#005aff,#0072ff,#0048ff,#0087ff,#0032ff,#003dff,#0030ff,#0097ff,#0045ff,#003fff,#0046ff,#0039ff,#0039ff,#0051ff,#0006ff,#001fff,#0016ff,#0056ff,#0000f1,#002eff,#0012ff,#0000f5,#0000c2,#0010ff,#0054ff,#0023ff,#001fff,#001dff,#0000d5,#0007ff,#0029ff,#0014ff,#0020ff,#0033ff,#0022ff,#0008ff,#000dff,#002aff,#004bff,#0066ff,#0077ff,#007fff,#007fff,#007bff,#0073ff,#0067ff,#005aff,#004bff,#003dff,#002fff,#0024ff,#001aff,#0013ff,#000eff,#000bff,#000aff,#000bff,#000eff,#0013ff,#0018ff,#001dff calc(100% - 3px))"></i>
<i style="left:125px;width:2px;background:linear-gradient(#0000a8 3px,#0000a8,#0000a8,#0000a8,#0000a8,#0000ac,#0000c3,#0000d4,#0000ca,#0000ae,#0000a9,#0000ad,#0000ec,#0049ff,#0035ff,#0063ff,#003aff,#0054ff,#0031ff,#0018ff,#005dff,#0037ff,#0055ff,#0000f8,#001eff,#0016ff,#0023ff,#0000f5,#0000f8,#0039ff,#0039ff,#0045ff,#001dff,#0000d4,#0006ff,#0000e9,#0031ff,#0032ff,#0031ff,#001fff,#0001ff,#0000c3,#001aff,#0031ff,#0019ff,#0017ff,#0000e8,#000094,#0000e1,#0007ff,#0000d8,#0008ff,#005bff,#0078ff,#006dff,#0060ff,#005aff,#0057ff,#0057ff,#0057ff,#0058ff,#0057ff,#0055ff,#0051ff,#004bff,#0043ff,#0039ff,#002fff,#0025ff,#001dff,#0016ff,#0011ff,#000dff,#000bff,#000bff,#000cff,#000eff,#0012ff,#0015ff,#001aff calc(100% - 3px))"></i>
<i style="left:127px;width:2px;background:linear-gradient(#0000a8 3px,#0000a8,#0000a8,#0000a8,#0000a8,#0000ac,#0000c3,#0000d4,#0000ca,#0000ae,#0000a9,#0000ac,#0000b7,#004aff,#003bff,#0021ff,#0029ff,#0045ff,#001eff,#0000f8,#004aff,#002dff,#0033ff,#0010ff,#001bff,#0039ff,#0000ad,#0022ff,#0000ef,#004bff,#004eff,#000bff,#0040ff,#0014ff,#0043ff,#0000b8,#002bff,#0019ff,#0000e7,#0020ff,#0012ff,#0004ff,#0018ff,#000aff,#0007ff,#0000f8,#0000eb,#0000fd,#000cff,#0000f9,#0000e6,#0021ff,#006fff,#008fff,#008aff,#007bff,#006cff,#005fff,#0053ff,#0047ff,#003cff,#0032ff,#0028ff,#0020ff,#001aff,#0016ff,#0014ff,#0014ff,#0015ff,#0017ff,#001aff,#001dff,#0021ff,#0025ff,#0029ff,#002eff,#0032ff,#0036ff,#003bff,#003fff calc(100% - 3px))"></i>
<i style="left:129px;width:2px;background:linear-gradient(#0000a8 3px,#0000a8,#0000a8,#0000a8,#0000a8,#0000ac,#0000c3,#0000d4,#0000c9,#0000ae,#0000a9,#0000ad,#0000dd,#0030ff,#001bff,#0019ff,#0032ff,#006fff,#0021ff,#0010ff,#0039ff,#0026ff,#0000f5,#0053ff,#0003ff,#0031ff,#0000d0,#0035ff,#0000fd,#002cff,#003aff,#0000fa,#005aff,#0003ff,#001bff,#0000f2,#0027ff,#0000e4,#0001ff,#001aff,#0020ff,#000eff,#0010ff,#0025ff,#0000f1,#0004ff,#000fff,#0000c3,#0000f2,#0004ff,#0000cb,#0000e3,#0026ff,#004aff,#0052ff,#0051ff,#0051ff,#0054ff,#0054ff,#004cff,#003aff,#0023ff,#000dff,#0000fb,#0000f0,#0000ee,#0000f3,#0000fc,#000aff,#0018ff,#0027ff,#0035ff,#0043ff,#0050ff,#005bff,#0065ff,#006eff,#0076ff,#007dff,#0082ff calc(100% - 3px))"></i>
<i style="left:131px;width:2px;background:linear-gradient(#0000a8 3px,#0000a8,#0000a8,#0000a8,#0000a8,#0000ac,#0000c3,#0000d4,#0000c9,#0000ae,#0000a9,#0000ad,#000dff,#0003ff,#003aff,#0030ff,#003aff,#005bff,#0034ff,#001eff,#002cff,#001dff,#0000ec,#004dff,#001bff,#0018ff,#001aff,#0018ff,#0033ff,#002aff,#002dff,#0007ff,#0031ff,#0009ff,#001dff,#0014ff,#0034ff,#0000e8,#0020ff,#0000f2,#0000ea,#0000fa,#0020ff,#001bff,#0000f4,#002cff,#0015ff,#000080,#0000c9,#001fff,#0000fc,#0003ff,#0020ff,#0015ff,#0000f8,#0000f6,#000dff,#0023ff,#0030ff,#002eff,#001fff,#000cff,#0000f9,#0000eb,#0000e5,#0000e8,#0000f2,#0001ff,#0013ff,#0025ff,#0037ff,#0048ff,#0058ff,#0067ff,#0074ff,#007fff,#0088ff,#008fff,#0096ff,#009bff calc(100% - 3px))"></i>
<i style="left:133px;width:2px;background:linear-gradient(#0000a8 3px,#0000a8,#0000a8,#0000a8,#0000a8,#0000ac,#0000c3,#0000d4,#0000c9,#0000ae,#0000a9,#0000ad,#0016ff,#0007ff,#0026ff,#0000ff,#0044ff,#000fff,#0038ff,#0000e9,#0028ff,#002eff,#000cff,#0034ff,#0030ff,#0007ff,#001dff,#0027ff,#003aff,#0035ff,#0019ff,#0002ff,#0014ff,#0000ff,#0025ff,#0000fd,#004cff,#0000ed,#0000ff,#0000e6,#0000aa,#0000f2,#0027ff,#0005ff,#0015ff,#0049ff,#001aff,#000099,#0000d2,#0026ff,#0035ff,#0039ff,#002fff,#0010ff,#0000e9,#0000d7,#0000d6,#0000da,#0000de,#0000e0,#0000e3,#0000e6,#0000eb,#0000f2,#0000fb,#0007ff,#0012ff,#001eff,#002aff,#0036ff,#0040ff,#0049ff,#0052ff,#0059ff,#005fff,#0064ff,#0068ff,#006bff,#006eff,#0070ff calc(100% - 3px))"></i>
<i style="left:135px;width:2px;background:linear-gradient(#0000a8 3px,#0000a8,#0000a8,#0000a8,#0000a8,#0000ac,#0000c2,#0000d4,#0000c9,#0000ae,#0000a9,#0000ad,#0002ff,#0031ff,#0000c5,#0000d7,#0056ff,#0000e8,#0026ff,#0000c1,#002dff,#0053ff,#0016ff,#002fff,#0013ff,#0000ff,#000bff,#005cff,#000cff,#0022ff,#0000f1,#0000f2,#0028ff,#0000cd,#0000e6,#0000da,#0054ff,#0000bc,#0000d2,#000fff,#0000d0,#0006ff,#000dff,#0014ff,#0027ff,#003fff,#0034ff,#0008ff,#0005ff,#0019ff,#0020ff,#0012ff,#000aff,#001cff,#0029ff,#0015ff,#0000e9,#0000c5,#0000b8,#0000be,#0000ce,#0000e3,#0000f9,#000dff,#001dff,#0028ff,#0030ff,#0034ff,#0036ff,#0037ff,#0037ff,#0036ff,#0035ff,#0034ff,#0033ff,#0033ff,#0032ff,#0031ff,#0031ff,#0031ff calc(100% - 3px))"></i>
<i style="left:137px;width:2px;background:linear-gradient(#0000a8 3px,#0000a8,#0000a8,#0000a8,#0000a8,#0000ac,#0000c2,#0000d4,#0000c9,#0000ae,#0000a9,#0000ad,#0000e3,#0019ff,#002cff,#0097ff,#0075ff,#0031ff,#004bff,#0056ff,#005dff,#007eff,#0052ff,#0010ff,#003cff,#0030ff,#006cff,#0059ff,#0064ff,#0053ff,#0032ff,#003eff,#003eff,#003dff,#001fff,#0000fa,#005bff,#0000dd,#0019ff,#0013ff,#0008ff,#001eff,#0000f6,#0000ff,#0000f7,#001dff,#0034ff,#001eff,#0042ff,#0040ff,#0002ff,#0000fa,#002bff,#0045ff,#0041ff,#002bff,#0010ff,#0000fa,#0000f2,#0000f8,#0006ff,#0016ff,#0025ff,#0031ff,#0039ff,#003cff,#003aff,#0036ff,#0030ff,#0029ff,#0023ff,#001cff,#0017ff,#0012ff,#000eff,#000cff,#000aff,#0009ff,#0009ff,#0009ff calc(100% - 3px))"></i>
<i style="left:139px;width:2px;background:linear-gradient(#0000a8 3px,#0000a8,#0000a8,#0000a8,#0000a8,#0000ac,#0000c2,#0000d4,#0000c9,#0000ae,#0000a9,#0000ad,#0000f0,#0000fb,#003cff,#0093ff,#002bff,#003aff,#0052ff,#0045ff,#0053ff,#004dff,#0069ff,#0018ff,#003bff,#0037ff,#005aff,#0035ff,#004cff,#0055ff,#0046ff,#006aff,#0031ff,#0054ff,#0043ff,#0022ff,#002aff,#001aff,#0035ff,#0003ff,#0000f5,#0002ff,#0000dc,#0000ed,#0002ff,#0022ff,#0018ff,#0000fa,#0051ff,#0072ff,#002dff,#0018ff,#0035ff,#0040ff,#0036ff,#0029ff,#0022ff,#0024ff,#002eff,#0039ff,#0043ff,#004aff,#004dff,#004eff,#004dff,#0049ff,#0043ff,#003cff,#0034ff,#002cff,#0025ff,#001eff,#0018ff,#0013ff,#000fff,#000cff,#000aff,#0009ff,#0008ff,#0007ff calc(100% - 3px))"></i>
<i style="left:141px;width:2px;background:linear-gradient(#0000a8 3px,#0000a8,#0000a8,#0000a8,#0000a8,#0000ac,#0000c2,#0000d4,#0000c9,#0000ae,#0000a9,#0000ac,#0002ff,#0003ff,#0003ff,#0000fd,#0000f0,#000aff,#003cff,#0000e4,#002eff,#0000ff,#0051ff,#0025ff,#0016ff,#002cff,#001aff,#0022ff,#000cff,#003aff,#001fff,#004eff,#0016ff,#0040ff,#001fff,#0029ff,#0006ff,#0032ff,#000dff,#0000d8,#0000d8,#0000fc,#0000ea,#0001ff,#0044ff,#002aff,#0000d8,#0000de,#0023ff,#0058ff,#005eff,#003dff,#0017ff,#0012ff,#001aff,#0014ff,#000dff,#0018ff,#0031ff,#0049ff,#0058ff,#005dff,#005eff,#005bff,#0058ff,#0054ff,#0051ff,#004eff,#004bff,#0048ff,#0045ff,#0041ff,#003dff,#0039ff,#0035ff,#0031ff,#002dff,#0029ff,#0025ff,#0021ff calc(100% - 3px))"></i>
<i style="left:143px;width:2px;background:linear-gradient(#0000a8 3px,#0000a8,#0000a8,#0000a8,#0000a9,#0000ac,#0000c4,#0000d5,#0000cb,#0000af,#0000a9,#0000ab,#0000e1,#000aff,#002dff,#0019ff,#0029ff,#0000f8,#001cff,#000eff,#001aff,#0000f3,#0020ff,#0000ec,#0005ff,#0029ff,#0040ff,#0009ff,#003aff,#002bff,#0004ff,#000dff,#0000f3,#005cff,#0000ff,#0012ff,#0012ff,#002bff,#0000de,#000087,#0005ff,#0037ff,#0024ff,#0021ff,#004aff,#0000fa,#00009f,#0000f0,#0000f2,#0000f9,#0025ff,#0020ff,#0000fb,#0000fb,#000bff,#000aff,#0005ff,#0014ff,#0032ff,#004cff,#005cff,#0062ff,#0061ff,#005eff,#005aff,#0056ff,#0053ff,#0051ff,#004eff,#004cff,#0049ff,#0046ff,#0042ff,#003fff,#003bff,#0037ff,#0033ff,#002eff,#002aff,#0026ff calc(100% - 3px))"></i>
<i style="left:145px;width:2px;background:linear-gradient(#0000a8 3px,#0000a8,#0000a8,#0000a9,#0000ac,#0000bc,#0000e6,#0000fe,#0000ed,#0000c0,#0000ad,#0000ac,#0000df,#002dff,#0051ff,#0086ff,#003bff,#001eff,#0007ff,#0004ff,#001dff,#003dff,#0017ff,#0027ff,#0025ff,#0023ff,#005eff,#0016ff,#0039ff,#002fff,#0026ff,#0017ff,#001dff,#002eff,#0047ff,#000aff,#000eff,#001fff,#0000de,#0000b7,#0050ff,#0031ff,#003fff,#0044ff,#0004ff,#0000e6,#0000f7,#0001ff,#0002ff,#0000de,#0000a8,#0000ac,#0000df,#0013ff,#0033ff,#0048ff,#0056ff,#0063ff,#006fff,#0078ff,#007aff,#0078ff,#0071ff,#0068ff,#005dff,#0051ff,#0044ff,#0038ff,#002dff,#0023ff,#001bff,#0014ff,#000eff,#000aff,#0007ff,#0006ff,#0006ff,#0006ff,#0007ff,#0009ff calc(100% - 3px))"></i>
<i style="left:147px;width:2px;background:linear-gradient(#0000a8 3px,#0000a8,#0000a9,#0000ab,#0000ba,#0000fe,#0077ff,#00a8ff,#007fff,#0005ff,#0000bc,#0000b2,#002eff,#00bdff,#00baff,#2cffd3,#00a8ff,#00bcff,#00adff,#0098ff,#00bfff,#00e4ff,#00c4ff,#00ddff,#00bbff,#00c8ff,#00ceff,#0085ff,#00c0ff,#00c7ff,#00c1ff,#00caff,#00c4ff,#00ccff,#00eeff,#00b3ff,#00c1ff,#0061ff,#0096ff,#009dff,#00c8ff,#00a5ff,#00a6ff,#00b7ff,#0080ff,#0092ff,#00afff,#008dff,#009fff,#0080ff,#0026ff,#0032ff,#0094ff,#00dbff,#05fffa,#20ffdf,#31ffce,#3bffc4,#3dffc2,#39ffc6,#2effd1,#1bffe4,#02fffd,#00e2ff,#00c2ff,#00a1ff,#0083ff,#0069ff,#0054ff,#0043ff,#0037ff,#002fff,#002aff,#0028ff,#0028ff,#002aff,#002eff,#0032ff,#0036ff,#003aff calc(100% - 3px))"></i>
<i style="left:149px;width:2px;background:linear-gradient(#0000a8 3px,#0000a8,#0000a9,#0000ab,#0000bc,#0009ff,#008bff,#00c0ff,#0094ff,#000fff,#0000be,#0000b3,#003bff,#00c1ff,#00a9ff,#00fdff,#00afff,#00c4ff,#00f4ff,#00e3ff,#00d0ff,#00e4ff,#04fffb,#00d5ff,#00b3ff,#0bfff4,#00c9ff,#0091ff,#00dfff,#00d9ff,#00cdff,#00e8ff,#00ceff,#00f2ff,#00f1ff,#00f3ff,#00f5ff,#006dff,#00f1ff,#00daff,#0089ff,#00bbff,#00ccff,#00c4ff,#00b9ff,#00baff,#00abff,#009cff,#00d6ff,#00edff,#00ceff,#00d2ff,#00faff,#20ffdf,#38ffc7,#45ffba,#4effb1,#59ffa6,#63ff9c,#63ff9c,#55ffaa,#3bffc4,#18ffe7,#00f2ff,#00ceff,#00b0ff,#0098ff,#0088ff,#007dff,#0078ff,#0076ff,#0078ff,#007bff,#007fff,#0085ff,#008aff,#0090ff,#0096ff,#009aff,#009eff calc(100% - 3px))"></i>
<i style="left:151px;width:2px;background:linear-gradient(#0000a8 3px,#0000a8,#0000a8,#0000a9,#0000ad,#0000c3,#0000f4,#000fff,#0000fc,#0000c6,#0000ae,#0000ae,#0000dd,#000aff,#0007ff,#0012ff,#000cff,#0011ff,#004bff,#0034ff,#0000f8,#0047ff,#0060ff,#0025ff,#0006ff,#005eff,#0038ff,#0041ff,#0019ff,#001dff,#003aff,#0030ff,#0028ff,#0000ba,#0060ff,#0047ff,#0001ff,#003aff,#007cff,#003cff,#0000f3,#000cff,#0087ff,#005eff,#0000ef,#0000f8,#0015ff,#0009ff,#0069ff,#00a5ff,#0081ff,#0061ff,#005aff,#005bff,#0060ff,#006bff,#007dff,#0094ff,#00a8ff,#00adff,#00a1ff,#008bff,#0072ff,#005dff,#004eff,#0046ff,#0045ff,#0049ff,#0050ff,#0059ff,#0063ff,#006cff,#0076ff,#007fff,#0087ff,#008eff,#0095ff,#009aff,#009fff,#00a3ff calc(100% - 3px))"></i>
<i style="left:153px;width:2px;background:linear-gradient(#0000a8 3px,#0000a8,#0000a8,#0000a8,#0000a9,#0000ad,#0000c5,#0000d7,#0000cc,#0000b0,#0000a9,#0000ad,#0000d4,#0011ff,#0011ff,#0010ff,#0000f9,#000bff,#000eff,#0000f0,#0000f3,#001dff,#0014ff,#000aff,#002cff,#000eff,#0024ff,#001eff,#0000f9,#0028ff,#0030ff,#0002ff,#0013ff,#0000e5,#000cff,#0000ee,#0000e2,#0000f8,#0017ff,#0011ff,#0028ff,#0014ff,#002bff,#0024ff,#0008ff,#000cff,#0034ff,#004cff,#0022ff,#0001ff,#001cff,#0031ff,#002cff,#001fff,#001aff,#0029ff,#0047ff,#006aff,#0087ff,#0094ff,#0091ff,#0082ff,#0070ff,#005fff,#0050ff,#0047ff,#0041ff,#003fff,#003eff,#003fff,#0041ff,#0043ff,#0046ff,#0048ff,#004bff,#004eff,#0051ff,#0053ff,#0055ff,#0057ff calc(100% - 3px))"></i>
<i style="left:155px;width:2px;background:linear-gradient(#0000a8 3px,#0000a8,#0000a8,#0000a8,#0000a8,#0000ac,#0000c2,#0000d3,#0000c9,#0000ae,#0000a9,#0000ac,#0000e3,#0022ff,#001fff,#003eff,#0020ff,#0000fb,#0000f7,#0015ff,#0000f3,#0000ff,#0000e9,#0011ff,#0026ff,#0000ee,#0000fd,#0000f4,#0013ff,#001dff,#0029ff,#0000f9,#0002ff,#0034ff,#0000d9,#0000da,#0031ff,#0000fd,#0000f0,#000dff,#000fff,#000eff,#0000ca,#0000fa,#0009ff,#000dff,#003cff,#0058ff,#0000fb,#00008f,#000091,#0000c7,#0000f4,#0001ff,#0004ff,#0017ff,#0036ff,#0056ff,#006eff,#007bff,#007eff,#007aff,#0070ff,#0064ff,#0057ff,#0049ff,#003cff,#002fff,#0024ff,#001aff,#0011ff,#000aff,#0004ff,#0000fe,#0000fb,#0000f9,#0000f7,#0000f7,#0000f7,#0000f8 calc(100% - 3px))"></i>
<i style="left:157px;width:2px;background:linear-gradient(#0000a8 3px,#0000a8,#0000a8,#0000a8,#0000a8,#0000ac,#0000c2,#0000d3,#0000c9,#0000ae,#0000a9,#0000ac,#0000f0,#0002ff,#0013ff,#001dff,#003bff,#0000cd,#0000ff,#0058ff,#0000e3,#0000f9,#0000ed,#002aff,#0000f9,#0019ff,#0000fb,#0005ff,#0023ff,#0000e8,#0017ff,#0000f9,#0000f7,#0012ff,#0003ff,#0013ff,#0064ff,#0057ff,#0036ff,#000dff,#0000d5,#0000ed,#0000ec,#0023ff,#0000df,#0000c7,#0000f8,#0001ff,#0011ff,#0000f1,#00009e,#000096,#0000cf,#0000fb,#0012ff,#0024ff,#0032ff,#003dff,#0043ff,#0046ff,#0047ff,#0048ff,#0047ff,#0044ff,#003fff,#0039ff,#0033ff,#002cff,#0025ff,#001fff,#0019ff,#0014ff,#000fff,#000cff,#0008ff,#0005ff,#0003ff,#0001ff,#0000ff,#0000fd calc(100% - 3px))"></i>
<i style="left:159px;width:2px;background:linear-gradient(#0000a8 3px,#0000a8,#0000a8,#0000a8,#0000a8,#0000ac,#0000c2,#0000d3,#0000c9,#0000ae,#0000a9,#0000ac,#0000fb,#0000f6,#0019ff,#0000c7,#000bff,#0000cd,#0005ff,#0026ff,#0022ff,#0000ff,#0000e9,#0031ff,#0035ff,#0044ff,#0046ff,#000aff,#0007ff,#0000f4,#0000f6,#0000e8,#0009ff,#0009ff,#0016ff,#0028ff,#003cff,#0020ff,#0036ff,#0000d2,#002fff,#0000fd,#0000f3,#0042ff,#001cff,#0000bc,#0000a7,#0000d9,#0000df,#0000f4,#0018ff,#000cff,#0000f2,#0002ff,#001eff,#0024ff,#0018ff,#000aff,#0003ff,#0002ff,#0008ff,#000fff,#0018ff,#0021ff,#002aff,#0031ff,#0038ff,#003eff,#0042ff,#0045ff,#0048ff,#0049ff,#004aff,#004aff,#0049ff,#0048ff,#0046ff,#0044ff,#0042ff,#003fff calc(100% - 3px))"></i>
<i style="left:161px;width:2px;background:linear-gradient(#0000a8 3px,#0000a8,#0000a8,#0000a8,#0000a8,#0000ac,#0000c2,#0000d3,#0000c9,#0000ae,#0000a9,#0000ac,#0000da,#0000d9,#000dff,#0000fe,#000fff,#0000ea,#000fff,#0014ff,#0032ff,#0028ff,#0004ff,#000fff,#002aff,#0021ff,#003dff,#0000f6,#0000e7,#0000dc,#0000f7,#0013ff,#0004ff,#0002ff,#003dff,#004cff,#0000f8,#0002ff,#0001ff,#0000e1,#0022ff,#0000d9,#0000e9,#003aff,#0000f9,#0000c0,#0000df,#0000f5,#0000f5,#001fff,#0056ff,#003aff,#0000fe,#0000f6,#000aff,#0005ff,#0000e9,#0000cf,#0000c5,#0000cb,#0000de,#0000f8,#0013ff,#002bff,#0040ff,#0050ff,#005bff,#0063ff,#0069ff,#006cff,#006eff,#006fff,#006fff,#006eff,#006dff,#006bff,#0069ff,#0067ff,#0065ff,#0063ff calc(100% - 3px))"></i>
<i style="left:163px;width:2px;background:linear-gradient(#0000a8 3px,#0000a8,#0000a8,#0000a8,#0000a8,#0000ac,#0000c2,#0000d3,#0000c9,#0000ae,#0000a9,#0000ac,#0000c2,#0000c2,#0011ff,#0035ff,#0034ff,#0000e1,#0018ff,#0022ff,#001eff,#001dff,#0029ff,#000aff,#0003ff,#0000fc,#0013ff,#0008ff,#000fff,#0000eb,#0000fd,#0039ff,#0020ff,#0000fc,#0042ff,#0046ff,#0000c4,#0000fd,#0000d6,#0008ff,#001dff,#0000df,#0011ff,#001fff,#0000ef,#0000f5,#002aff,#003dff,#0022ff,#0022ff,#0040ff,#002dff,#0003ff,#0000f2,#0000f2,#0000e3,#0000c9,#0000b6,#0000b4,#0000c4,#0000e4,#000aff,#002dff,#004bff,#0062ff,#0071ff,#0078ff,#007aff,#0079ff,#0075ff,#0071ff,#006cff,#0067ff,#0062ff,#005eff,#005bff,#0059ff,#0057ff,#0056ff,#0055ff calc(100% - 3px))"></i>
<i style="left:165px;width:2px;background:linear-gradient(#0000a8 3px,#0000a8,#0000a8,#0000a8,#0000a8,#0000ac,#0000c2,#0000d3,#0000c9,#0000ae,#0000a9,#0000ab,#0000d6,#0000d9,#0012ff,#0000fd,#0032ff,#0000ac,#001bff,#001aff,#0021ff,#0000e3,#0032ff,#001fff,#0009ff,#000bff,#0009ff,#003cff,#003eff,#0041ff,#0000f1,#001aff,#003cff,#0008ff,#0005ff,#000fff,#0000d1,#0000f3,#0000eb,#000aff,#0054ff,#0040ff,#003cff,#000eff,#003eff,#002bff,#0016ff,#004aff,#0002ff,#0000d4,#0019ff,#0034ff,#001fff,#0008ff,#0000f6,#0000e7,#0000dd,#0000de,#0000ea,#0000ff,#0019ff,#0032ff,#0047ff,#0057ff,#0062ff,#0065ff,#0064ff,#005eff,#0056ff,#004eff,#0045ff,#003dff,#0036ff,#0030ff,#002bff,#0027ff,#0025ff,#0024ff,#0023ff,#0023ff calc(100% - 3px))"></i>
<i style="left:167px;width:2px;background:linear-gradient(#0000a8 3px,#0000a8,#0000a8,#0000a8,#0000a8,#0000ac,#0000c2,#0000d3,#0000c9,#0000ae,#0000a9,#0000aa,#0000db,#0002ff,#0000d2,#0000f9,#001fff,#0000a0,#0025ff,#0018ff,#0029ff,#0003ff,#001dff,#0000f3,#0000f3,#0003ff,#0000e0,#0035ff,#0006ff,#0052ff,#0000fb,#0000f0,#0000df,#000fff,#0000de,#0018ff,#0016ff,#002bff,#001cff,#0029ff,#0001ff,#006eff,#0012ff,#0014ff,#0022ff,#0000f2,#0000bb,#0000ad,#0000c7,#0000fc,#0032ff,#0046ff,#0036ff,#001cff,#0008ff,#0006ff,#0012ff,#0023ff,#0035ff,#0043ff,#004cff,#0051ff,#0052ff,#0050ff,#004bff,#0043ff,#003aff,#0030ff,#0026ff,#001dff,#0014ff,#000dff,#0007ff,#0001ff,#0000fd,#0000fa,#0000f8,#0000f7,#0000f7,#0000f7 calc(100% - 3px))"></i>
<i style="left:169px;width:2px;background:linear-gradient(#0000a8 3px,#0000a8,#0000a8,#0000a8,#0000a8,#0000ac,#0000c2,#0000d3,#0000c9,#0000ae,#0000a9,#0000aa,#0000e6,#0000ef,#0023ff,#0022ff,#0016ff,#0000dc,#0026ff,#0000fb,#0023ff,#000aff,#0000ff,#0000fe,#0009ff,#0000ee,#0013ff,#001aff,#0000e8,#0018ff,#000dff,#0000fa,#0000de,#0000e0,#000dff,#0035ff,#0014ff,#0030ff,#001fff,#005eff,#000aff,#0039ff,#000dff,#001eff,#0000f1,#0000cb,#0000c1,#0000b0,#0002ff,#003cff,#0044ff,#0049ff,#004dff,#0047ff,#003eff,#003bff,#003fff,#0045ff,#004bff,#004fff,#004fff,#004dff,#0048ff,#0043ff,#003dff,#0036ff,#002fff,#0028ff,#0022ff,#001cff,#0016ff,#0012ff,#000eff,#000aff,#0007ff,#0005ff,#0003ff,#0002ff,#0001ff,#0001ff calc(100% - 3px))"></i>
<i style="left:171px;width:2px;background:linear-gradient(#0000a8 3px,#0000a8,#0000a8,#0000a8,#0000a8,#0000ac,#0000c2,#0000d3,#0000c9,#0000ae,#0000a9,#0000ab,#0000f5,#0000e5,#006aff,#0036ff,#001aff,#002cff,#000bff,#0000ff,#0010ff,#0000ea,#0015ff,#000eff,#002cff,#0000e9,#004eff,#001aff,#0016ff,#0000fd,#0018ff,#0021ff,#0018ff,#0000dc,#0045ff,#001eff,#001bff,#0009ff,#0000f1,#003cff,#0041ff,#0000ea,#0028ff,#0015ff,#0000fc,#0000dc,#0000de,#001cff,#0039ff,#003eff,#003fff,#0045ff,#0051ff,#0060ff,#0067ff,#0061ff,#0053ff,#0046ff,#003dff,#0039ff,#0038ff,#003aff,#003dff,#003fff,#0041ff,#0042ff,#0042ff,#0042ff,#0042ff,#0041ff,#003fff,#003eff,#003cff,#003bff,#0039ff,#0037ff,#0034ff,#0032ff,#0030ff,#002eff calc(100% - 3px))"></i>
<i style="left:173px;width:2px;background:linear-gradient(#0000a8 3px,#0000a8,#0000a8,#0000a8,#0000a8,#0000ac,#0000c2,#0000d3,#0000c9,#0000ae,#0000a9,#0000ab,#0000ea,#001dff,#0024ff,#002dff,#0020ff,#0041ff,#0000ed,#0030ff,#0000f4,#0000ef,#004aff,#0000eb,#0025ff,#0000e9,#002dff,#001cff,#0038ff,#001bff,#0000ff,#002aff,#0000f9,#0026ff,#003dff,#0000df,#004bff,#0000fd,#0000e1,#0000c3,#0011ff,#0000df,#0014ff,#0000f8,#0026ff,#0000f2,#0000ad,#000cff,#001bff,#001aff,#002fff,#0034ff,#002cff,#0030ff,#0039ff,#003dff,#003dff,#003cff,#003dff,#003fff,#0042ff,#0047ff,#004bff,#004eff,#0051ff,#0054ff,#0057ff,#0059ff,#005bff,#005dff,#005fff,#0060ff,#0060ff,#005fff,#005eff,#005dff,#005bff,#0058ff,#0056ff,#0053ff calc(100% - 3px))"></i>
<i style="left:175px;width:2px;background:linear-gradient(#0000a8 3px,#0000a8,#0000a8,#0000a8,#0000a8,#0000ac,#0000c2,#0000d3,#0000c9,#0000ae,#0000a9,#0000ac,#0000c4,#0026ff,#0045ff,#0030ff,#0021ff,#0016ff,#0004ff,#0010ff,#0000d5,#0011ff,#0034ff,#0023ff,#0019ff,#0000d8,#0007ff,#0000f0,#0026ff,#0000f5,#0000a2,#0005ff,#0000cc,#0027ff,#000bff,#0000ca,#0000fb,#0007ff,#0029ff,#0000d9,#0000ec,#0002ff,#0000f3,#0000da,#0038ff,#0021ff,#0000c8,#0000ea,#001bff,#0020ff,#0005ff,#0002ff,#0005ff,#0000f2,#0000de,#0000e6,#0006ff,#002aff,#0049ff,#005dff,#0064ff,#0064ff,#0060ff,#005cff,#0058ff,#0056ff,#0057ff,#005aff,#005dff,#0060ff,#0064ff,#0066ff,#0068ff,#0069ff,#0069ff,#0069ff,#0067ff,#0065ff,#0063ff,#0061ff calc(100% - 3px))"></i>
<i style="left:177px;width:2px;background:linear-gradient(#0000a8 3px,#0000a8,#0000a8,#0000a8,#0000a8,#0000ac,#0000c2,#0000d3,#0000c9,#0000ae,#0000a9,#0000ab,#0000c5,#0000f4,#0047ff,#0014ff,#001cff,#0001ff,#0003ff,#0000f6,#0000fc,#0006ff,#001eff,#0043ff,#0000f2,#0007ff,#000fff,#0006ff,#0029ff,#0006ff,#0000cc,#0000ff,#0000eb,#0014ff,#001bff,#000098,#0000d2,#0030ff,#000fff,#0000e0,#0000e7,#0000fc,#0024ff,#0000db,#0020ff,#002eff,#0000f5,#0000f8,#0012ff,#001eff,#001cff,#001fff,#0013ff,#0000f3,#0000d8,#0000db,#0000f9,#0021ff,#0043ff,#0057ff,#005cff,#0057ff,#004fff,#0046ff,#0040ff,#003eff,#0040ff,#0044ff,#0049ff,#004fff,#0055ff,#005aff,#005eff,#0061ff,#0063ff,#0064ff,#0064ff,#0063ff,#0062ff,#0060ff calc(100% - 3px))"></i>
<i style="left:179px;width:2px;background:linear-gradient(#0000a8 3px,#0000a8,#0000a8,#0000a8,#0000a8,#0000aa,#0000b5,#0000be,#0000b8,#0000ab,#0000a9,#0000ab,#0000e6,#0019ff,#0035ff,#0002ff,#0036ff,#0033ff,#001fff,#0035ff,#006dff,#0038ff,#0060ff,#0067ff,#0021ff,#0080ff,#0062ff,#0063ff,#0058ff,#006cff,#004eff,#0047ff,#0051ff,#004bff,#006cff,#0000c8,#003eff,#007bff,#0000cc,#001eff,#002bff,#0021ff,#0073ff,#0028ff,#0023ff,#002dff,#0028ff,#002dff,#0000fc,#0000fe,#0044ff,#0061ff,#0044ff,#0023ff,#000fff,#000dff,#0017ff,#0026ff,#0031ff,#0033ff,#002fff,#0027ff,#001fff,#0019ff,#0016ff,#0017ff,#001cff,#0023ff,#002bff,#0034ff,#003cff,#0043ff,#004aff,#004fff,#0054ff,#0057ff,#0059ff,#005aff,#005aff,#005aff calc(100% - 3px))"></i>
<i style="left:181px;width:2px;background:linear-gradient(#0000a8 3px,#0000a8,#0000a8,#0000a8,#0000a8,#0000a8,#0000a8,#0000a8,#0000a8,#0000a8,#0000a8,#0000ac,#0000ea,#0095ff,#005cff,#001cff,#0048ff,#004eff,#0053ff,#0064ff,#0090ff,#00a3ff,#0094ff,#0092ff,#0088ff,#00baff,#0094ff,#0076ff,#004bff,#0092ff,#004eff,#005fff,#0082ff,#0070ff,#005dff,#007fff,#0081ff,#008aff,#0005ff,#00a0ff,#0064ff,#006eff,#006eff,#0072ff,#004aff,#0039ff,#0053ff,#004eff,#000cff,#0000ee,#0020ff,#0046ff,#0043ff,#0028ff,#0012ff,#0016ff,#0028ff,#0034ff,#0034ff,#002bff,#001dff,#0011ff,#0007ff,#0000fe,#0000fb,#0000fc,#0001ff,#0009ff,#0012ff,#001bff,#0024ff,#002dff,#0035ff,#003dff,#0043ff,#0049ff,#004dff,#0051ff,#0053ff,#0056ff calc(100% - 3px))"></i>
<i style="left:183px;width:2px;background:linear-gradient(#0000a8 3px,#0000a8,#0000a8,#0000a8,#0000a8,#0000a8,#0000a8,#0000a8,#0000a8,#0000a8,#0000a8,#0000ab,#0000d7,#0059ff,#0024ff,#0020ff,#0008ff,#0002ff,#0000fa,#0012ff,#000eff,#0044ff,#0011ff,#0023ff,#002cff,#0044ff,#0021ff,#001eff,#0010ff,#0036ff,#0000e7,#0007ff,#0022ff,#0000eb,#0000d4,#005dff,#0015ff,#0020ff,#0009ff,#0016ff,#0000d6,#0019ff,#0050ff,#0034ff,#0031ff,#002aff,#001cff,#0022ff,#0022ff,#0014ff,#0000fb,#0000ea,#0000ec,#0000f7,#000bff,#0021ff,#0035ff,#0041ff,#0042ff,#003bff,#002fff,#0021ff,#0014ff,#000bff,#0005ff,#0003ff,#0005ff,#000aff,#0010ff,#0017ff,#001fff,#0027ff,#002eff,#0035ff,#003cff,#0042ff,#0048ff,#004dff,#0052ff,#0056ff calc(100% - 3px))"></i>
<i style="left:185px;width:2px;background:linear-gradient(#0000a8 3px,#0000a8,#0000a8,#0000a8,#0000a8,#0000a8,#0000a8,#0000a8,#0000a8,#0000a8,#0000a8,#0000aa,#0000d9,#0005ff,#0006ff,#0015ff,#0018ff,#0026ff,#0025ff,#0006ff,#0007ff,#001dff,#0000dd,#0000fb,#0015ff,#0031ff,#0019ff,#000bff,#0031ff,#0024ff,#0000cc,#0024ff,#001bff,#0015ff,#000cff,#0022ff,#000dff,#0032ff,#0011ff,#0000ed,#0000d6,#0013ff,#004dff,#0039ff,#0049ff,#0052ff,#002bff,#000eff,#0038ff,#0038ff,#0000e7,#00009b,#0000a9,#0000ea,#0021ff,#0038ff,#0037ff,#0030ff,#0029ff,#0025ff,#0025ff,#0026ff,#0028ff,#002aff,#002dff,#0030ff,#0033ff,#0036ff,#0039ff,#003bff,#003eff,#0041ff,#0044ff,#0047ff,#004aff,#004dff,#0050ff,#0053ff,#0056ff,#0059ff calc(100% - 3px))"></i>
<i style="left:187px;width:2px;background:linear-gradient(#0000a8 3px,#0000a8,#0000a8,#0000a8,#0000a8,#0000a8,#0000a8,#0000a8,#0000a8,#0000a8,#0000a8,#0000aa,#0000dc,#0000f9,#0000fb,#0000ef,#0008ff,#0020ff,#0045ff,#0000f3,#000aff,#0011ff,#0000dc,#0000f6,#000aff,#002aff,#0026ff,#0000f0,#001bff,#0000fb,#0000b3,#002bff,#000cff,#0031ff,#0040ff,#0000b6,#0007ff,#002eff,#0000e4,#0005ff,#000aff,#0012ff,#0016ff,#0036ff,#002cff,#0054ff,#0053ff,#0004ff,#0024ff,#0032ff,#0000ea,#0000b0,#0000d5,#001aff,#0049ff,#004eff,#0033ff,#0010ff,#0000f5,#0000f1,#0000ff,#0019ff,#0034ff,#004cff,#0060ff,#006dff,#0074ff,#0076ff,#0076ff,#0074ff,#0071ff,#006dff,#006aff,#0066ff,#0063ff,#0061ff,#005fff,#005dff,#005cff,#005bff calc(100% - 3px))"></i>
<i style="left:189px;width:2px;background:linear-gradient(#0000a8 3px,#0000a8,#0000a8,#0000a8,#0000a8,#0000a8,#0000a8,#0000a8,#0000a8,#0000a8,#0000a8,#0000ac,#0000d7,#0021ff,#0002ff,#0027ff,#0000d1,#0000cf,#0000f9,#0001ff,#0000e9,#0010ff,#0019ff,#0034ff,#0000fc,#0013ff,#0028ff,#001cff,#000fff,#0000fe,#000cff,#0008ff,#0006ff,#0000ca,#0027ff,#0000ab,#0000ed,#0000f9,#0000f3,#0000e4,#0007ff,#0000de,#0039ff,#0003ff,#0000bb,#001bff,#003bff,#0000e2,#0000f6,#001cff,#000fff,#0001ff,#001aff,#0047ff,#0068ff,#0063ff,#0042ff,#001aff,#0000fb,#0000f5,#0006ff,#0023ff,#0042ff,#005eff,#0075ff,#0083ff,#008aff,#008aff,#0088ff,#0083ff,#007dff,#0077ff,#0071ff,#006bff,#0066ff,#0061ff,#005eff,#005bff,#0059ff,#0057ff calc(100% - 3px))"></i>
<i style="left:191px;width:2px;background:linear-gradient(#0000a8 3px,#0000a8,#0000a8,#0000a8,#0000a8,#0000a8,#0000a8,#0000a8,#0000a8,#0000a8,#0000a8,#0000ab,#0000d4,#0017ff,#000aff,#0015ff,#0000df,#000dff,#0000e8,#0025ff,#0000f8,#0000ef,#0032ff,#0053ff,#0012ff,#0000d6,#0008ff,#0012ff,#002dff,#000eff,#0047ff,#0000d1,#0011ff,#0000e1,#002cff,#0000e3,#0000e9,#0000e8,#001dff,#0000d9,#0011ff,#0000a8,#0044ff,#0000fa,#000080,#0000f4,#002fff,#0000e0,#0000f4,#0015ff,#0005ff,#0000ff,#0021ff,#004fff,#006eff,#006cff,#0054ff,#003aff,#002aff,#0028ff,#0030ff,#003dff,#004bff,#0057ff,#0060ff,#0065ff,#0066ff,#0064ff,#0061ff,#005dff,#0059ff,#0055ff,#0052ff,#004fff,#004eff,#004dff,#004cff,#004dff,#004dff,#004eff calc(100% - 3px))"></i>
<i style="left:193px;width:2px;background:linear-gradient(#0000a8 3px,#0000a8,#0000a8,#0000a8,#0000a8,#0000a8,#0000a8,#0000a8,#0000a8,#0000a8,#0000a8,#0000aa,#0000cd,#0000e8,#0000ec,#0000df,#0000e3,#0003ff,#0000e0,#0000f8,#0000e1,#0000d7,#0000f3,#0003ff,#0000f2,#0000bb,#0000dc,#0000de,#0000fc,#0000f1,#000dff,#0000cd,#0000f0,#0000e7,#0009ff,#0000e0,#0000ea,#0000db,#0000f9,#0000c8,#0000ec,#0000ba,#0000f0,#0000e8,#000098,#0000da,#0002ff,#0000e4,#0000f0,#0000f7,#0000dd,#0000d3,#0000ff,#002eff,#004eff,#0058ff,#0053ff,#004bff,#0045ff,#0042ff,#0041ff,#0040ff,#003fff,#003eff,#003eff,#003dff,#003cff,#003cff,#003bff,#003bff,#003bff,#003cff,#003cff,#003dff,#003fff,#0040ff,#0042ff,#0043ff,#0045ff,#0047ff calc(100% - 3px))"></i>
<i style="left:195px;width:5px;background:linear-gradient(#0000a8 3px,#0000a8,#0000a8,#0000a8,#0000a8,#0000a8,#0000a8,#0000a8,#0000a8,#0000a8,#0000a8,#0000ab,#0000c4,#0000c7,#0000c7,#0000c7,#0000c7,#0000c7,#0000c7,#0000c7,#0000c7,#0000c7,#0000c7,#0000c7,#0000c7,#0000c5,#0000c7,#0000c7,#0000c7,#0000c7,#0000c7,#0000c7,#0000c7,#0000c6,#0000c7,#0000c7,#0000c7,#0000c7,#0000c7,#0000c0,#0000c7,#0000c7,#0000c5,#0000c7,#0000bb,#0000c7,#0000c7,#0000c7,#0000c7,#0000c7,#0000c7,#0000c7,#0000f3,#000cff,#001fff,#0030ff,#003bff,#003cff,#0036ff,#002fff,#0029ff,#0025ff,#0023ff,#0024ff,#0026ff,#0029ff,#002dff,#0032ff,#0036ff,#003aff,#003eff,#0040ff,#0043ff,#0044ff,#0046ff,#0046ff,#0046ff,#0046ff,#0045ff,#0044ff calc(100% - 3px))"></i>
</div></div>
</div>
<span class="xl" style="left:66.5px;top:450.8px">0</span>
<span class="xl" style="left:131.2px;top:450.8px">50</span>
<span class="xl" style="left:195.8px;top:450.8px">100</span>
<span class="xl" style="left:260.5px;top:450.8px">150</span>
<span class="yl" style="left:61.7px;top:224.1px">2</span>
<span class="yl" style="left:61.7px;top:266.5px">1.5</span>
<span class="yl" style="left:61.7px;top:308.9px">1</span>
<span class="yl" style="left:61.7px;top:351.3px">0.5</span>
<span class="yl" style="left:61.7px;top:393.7px">0</span>
<span class="yl" style="left:61.7px;top:436.1px">-0.5</span>
<span class="ylab" style="left:18.7px;top:328.5px">log<sub>10</sub>(f)</span>
<span class="xlab" style="left:164.5px;top:470.0px">T [sec]</span>
<div class="ax" style="left:321px;top:222px;width:195px;height:213px">
<i class="tb" style="left:0.0px"></i><i class="tt" style="left:0.0px"></i>
<i class="tb" style="left:64.7px"></i><i class="tt" style="left:64.7px"></i>
<i class="tb" style="left:129.3px"></i><i class="tt" style="left:129.3px"></i>
<i class="tb" style="left:194.0px"></i><i class="tt" style="left:194.0px"></i>
<i class="tl" style="top:0.0px"></i><i class="tr" style="top:0.0px"></i>
<i class="tl" style="top:42.4px"></i><i class="tr" style="top:42.4px"></i>
<i class="tl" style="top:84.8px"></i><i class="tr" style="top:84.8px"></i>
<i class="tl" style="top:127.2px"></i><i class="tr" style="top:127.2px"></i>
<i class="tl" style="top:169.6px"></i><i class="tr" style="top:169.6px"></i>
<i class="tl" style="top:212.0px"></i><i class="tr" style="top:212.0px"></i>
<div class="sp" style="left:1px;top:0;width:194px;height:196px">
<div class="spi">
<i style="left:0px;width:5px;background:linear-gradient(#0000a8 3px,#0000a8,#0000a8,#0000a8,#0000a8,#0000a8,#0000a8,#0000a8,#0000a8,#0000a8,#0000a8,#0000a8,#0000a8,#0000a8,#0000a8,#0000a8,#0000a8,#0000a8,#0000a8,#0000a8,#0000a8,#0000a8,#0000a8,#0000a8,#0000a8,#0000a8,#0000a8,#0000a8,#0000a8,#0000a8,#0000a8,#0000a8,#0000a8,#0000a8,#0000a8,#0000a8,#0000a8,#0000a8,#0000a8,#0000a8,#0000a8,#0000a8,#0000a8,#0000a8,#0000a8,#0000a8,#0000a8,#0000a8,#0000a8,#0000a8,#0000a8,#0000a8,#0000a8,#0000a8,#0000a8,#0000a8,#0000a8,#0000a8,#0000a8,#0000a8,#0000a8,#0000a8,#0000a8,#0000a8,#0000a8,#0000a8,#0000a8,#0000a8,#0000a8,#0000a8,#0000a8,#0000a8,#0000a8,#0000a8,#0000a8,#0000a8,#0000a8,#0000a8,#0000a8,#0000a8 calc(100% - 3px))"></i>
<i style="left:5px;width:2px;background:linear-gradient(#0036ff 3px,#003bff,#0040ff,#0046ff,#004bff,#0050ff,#0055ff,#005aff,#005fff,#0064ff,#0069ff,#006eff,#0067ff,#007aff,#006fff,#0064ff,#0080ff,#006aff,#0046ff,#009aff,#005cff,#004cff,#006fff,#006cff,#006eff,#0084ff,#0060ff,#0066ff,#005eff,#0089ff,#00a8ff,#0074ff,#0053ff,#004dff,#006eff,#008eff,#0097ff,#00a1ff,#00e6ff,#00ddff,#0095ff,#0094ff,#00ceff,#007fff,#0087ff,#00beff,#00bfff,#009fff,#0091ff,#008dff,#0088ff,#0085ff,#0084ff,#008bff,#0093ff,#009bff,#00a3ff,#00acff,#00b6ff,#00bdff,#00c1ff,#00c2ff,#00c1ff,#00bfff,#00bcff,#00baff,#00b7ff,#00b5ff,#00b2ff,#00afff,#00acff,#00a8ff,#00a4ff,#00a0ff,#009bff,#0097ff,#0093ff,#008eff,#008bff,#0087ff calc(100% - 3px))"></i>
<i style="left:7px;width:2px;background:linear-gradient(#0090ff 3px,#0099ff,#00a1ff,#00a9ff,#00b1ff,#00b9ff,#00c1ff,#00caff,#00d2ff,#00daff,#00e3ff,#00f1ff,#24ffdb,#a1ff5e,#e1ff1e,#eaff15,#dbff24,#ecff13,#f0ff0f,#fff900,#e6ff19,#ebff14,#edff12,#dfff20,#f4ff0b,#faff05,#fff400,#fff300,#fff000,#ffe900,#fff900,#ffc300,#ffd900,#ffee00,#ffdd00,#ffc800,#ffbf00,#ffaa00,#ffb900,#ffb700,#ffcc00,#ffaf00,#ffb200,#ffd500,#ffbb00,#ffa800,#ffb500,#ffb700,#ffa200,#ff9f00,#ffb600,#ffc600,#ffc300,#ffb200,#ffa000,#ff9500,#ff8d00,#ff8300,#ff7600,#ff6900,#ff5e00,#ff5600,#ff5000,#ff4d00,#ff4c00,#ff4e00,#ff5200,#ff5700,#ff5f00,#ff6800,#ff7100,#ff7c00,#ff8600,#ff9100,#ff9b00,#ffa500,#ffae00,#ffb600,#ffbd00,#ffc300 calc(100% - 3px))"></i>
<i style="left:9px;width:2px;background:linear-gradient(#0090ff 3px,#0099ff,#00a1ff,#00a9ff,#00b1ff,#00b9ff,#00c1ff,#00caff,#00d2ff,#00daff,#00e3ff,#00f1ff,#2bffd4,#99ff66,#e3ff1c,#fffd00,#e9ff16,#f1ff0e,#f1ff0e,#e3ff1c,#ecff13,#fff900,#f7ff08,#e9ff16,#faff05,#fff800,#ffec00,#ffed00,#ffd700,#ffdb00,#feff01,#ffc800,#ffd800,#ffc900,#ffcf00,#ffcc00,#ffd100,#ffbb00,#ffd400,#ffc500,#ffb900,#ffb400,#ffc100,#ffc700,#ffc100,#ffb900,#ffb100,#ffac00,#ffb100,#ffb700,#ffb700,#ffb000,#ffa200,#ff9100,#ff8400,#ff7d00,#ff7800,#ff7300,#ff6c00,#ff6400,#ff5a00,#ff5200,#ff4c00,#ff4700,#ff4600,#ff4700,#ff4b00,#ff5100,#ff5a00,#ff6300,#ff6e00,#ff7a00,#ff8600,#ff9200,#ff9d00,#ffa700,#ffb100,#ffba00,#ffc100,#ffc800 calc(100% - 3px))"></i>
<i style="left:11px;width:2px;background:linear-gradient(#0090ff 3px,#0099ff,#00a1ff,#00a9ff,#00b1ff,#00b9ff,#00c1ff,#00caff,#00d2ff,#00daff,#00e3ff,#00f1ff,#2affd5,#92ff6d,#ccff33,#ebff14,#efff10,#e7ff18,#d9ff26,#c1ff3e,#dfff20,#e8ff17,#ebff14,#deff21,#eeff11,#fcff03,#f7ff08,#edff12,#fff400,#fff700,#f0ff0f,#fffd00,#fffd00,#ffe400,#ffed00,#fff600,#f7ff08,#fff900,#ffe500,#ffe300,#ffb700,#ffcd00,#fff100,#ffe400,#ffed00,#ffde00,#ffc400,#ffcb00,#ffe000,#ffeb00,#ffe400,#ffd300,#ffbb00,#ffa200,#ff9000,#ff8a00,#ff8b00,#ff8c00,#ff8a00,#ff8400,#ff7b00,#ff7200,#ff6b00,#ff6500,#ff6300,#ff6400,#ff6900,#ff7000,#ff7a00,#ff8500,#ff9100,#ff9d00,#ffaa00,#ffb600,#ffc100,#ffcb00,#ffd400,#ffdc00,#ffe200,#ffe800 calc(100% - 3px))"></i>
<i style="left:13px;width:2px;background:linear-gradient(#0092ff 3px,#009aff,#00a2ff,#00abff,#00b3ff,#00bbff,#00c3ff,#00cbff,#00d3ff,#00dcff,#00e4ff,#00f2ff,#26ffd9,#95ff6a,#bcff43,#b1ff4e,#dfff20,#d0ff2f,#d6ff29,#caff35,#caff35,#b9ff46,#d5ff2a,#c6ff39,#eaff15,#dfff20,#d6ff29,#ccff33,#d2ff2d,#deff21,#e1ff1e,#ceff31,#efff10,#deff21,#f4ff0b,#efff10,#eaff15,#deff21,#ffef00,#f9ff06,#ffc500,#ffe800,#d8ff27,#fbff04,#fffb00,#fff000,#ffef00,#f3ff0c,#fff900,#ffec00,#ffff00,#f4ff0b,#fff800,#ffd200,#ffb300,#ffaa00,#ffaf00,#ffb300,#ffb000,#ffa600,#ff9a00,#ff8e00,#ff8400,#ff7e00,#ff7b00,#ff7d00,#ff8300,#ff8c00,#ff9700,#ffa400,#ffb100,#ffbe00,#ffca00,#ffd600,#ffe000,#ffe900,#fff100,#fff700,#fffc00,#feff01 calc(100% - 3px))"></i>
<i style="left:15px;width:2px;background:linear-gradient(#00a3ff 3px,#00abff,#00b3ff,#00bbff,#00c3ff,#00cbff,#00d3ff,#00dbff,#00e3ff,#00ebff,#00f3ff,#00ffff,#27ffd8,#6cff93,#92ff6d,#89ff76,#a5ff5a,#8dff72,#a5ff5a,#a3ff5c,#80ff7f,#aeff51,#a0ff5f,#86ff79,#baff45,#a1ff5e,#93ff6c,#9aff65,#9bff64,#bdff42,#91ff6e,#99ff66,#c8ff37,#acff53,#c5ff3a,#c8ff37,#e5ff1a,#c1ff3e,#afff50,#cbff34,#e5ff1a,#bbff44,#c0ff3f,#eeff11,#f9ff06,#e8ff17,#ceff31,#c3ff3c,#e3ff1c,#f8ff07,#eaff15,#d9ff26,#dbff24,#f2ff0d,#fff500,#ffed00,#ffef00,#ffef00,#ffeb00,#ffe100,#ffd400,#ffc800,#ffbe00,#ffb700,#ffb500,#ffb700,#ffbd00,#ffc600,#ffd000,#ffdc00,#ffe700,#fff300,#fffe00,#f6ff09,#eeff11,#e6ff19,#e1ff1e,#dcff23,#d8ff27,#d6ff29 calc(100% - 3px))"></i>
<i style="left:17px;width:2px;background:linear-gradient(#0013ff 3px,#0015ff,#0017ff,#0019ff,#001aff,#001cff,#001eff,#0020ff,#0022ff,#0023ff,#0026ff,#0030ff,#0076ff,#37ffc8,#52ffad,#7cff83,#60ff9f,#80ff7f,#79ff86,#66ff99,#76ff89,#8eff71,#78ff87,#57ffa8,#70ff8f,#5fffa0,#7eff81,#6bff94,#5bffa4,#80ff7f,#72ff8d,#83ff7c,#8bff74,#8fff70,#8dff72,#88ff77,#96ff69,#a6ff59,#84ff7b,#9bff64,#a0ff5f,#a3ff5c,#9fff60,#b0ff4f,#a4ff5b,#a1ff5e,#b0ff4f,#b9ff46,#c2ff3d,#b7ff48,#9dff62,#98ff67,#adff52,#c4ff3b,#d5ff2a,#e1ff1e,#e8ff17,#ebff14,#eeff11,#f5ff0a,#feff01,#fff500,#ffeb00,#ffe500,#ffe200,#ffe400,#ffe800,#fff000,#fff800,#fcff03,#f2ff0d,#e8ff17,#deff21,#d5ff2a,#ccff33,#c5ff3a,#beff41,#b9ff46,#b4ff4b,#b0ff4f calc(100% - 3px))"></i>
<i style="left:19px;width:2px;background:linear-gradient(#003aff 3px,#003dff,#003fff,#0042ff,#0045ff,#0048ff,#004aff,#004dff,#0050ff,#0053ff,#0056ff,#005eff,#008fff,#27ffd8,#22ffdd,#70ff8f,#32ffcd,#6bff94,#61ff9e,#35ffca,#71ff8e,#49ffb6,#60ff9f,#47ffb8,#3cffc3,#2fffd0,#6bff94,#48ffb7,#2dffd2,#35ffca,#60ff9f,#64ff9b,#59ffa6,#64ff9b,#67ff98,#48ffb7,#52ffad,#84ff7b,#6eff91,#70ff8f,#72ff8d,#a9ff56,#80ff7f,#68ff97,#4dffb2,#56ffa9,#81ff7e,#a0ff5f,#a7ff58,#92ff6d,#6eff91,#61ff9e,#6eff91,#7eff81,#90ff6f,#a4ff5b,#b7ff48,#c4ff3b,#ccff33,#d5ff2a,#dfff20,#eaff15,#f4ff0b,#faff05,#fcff03,#f9ff06,#f3ff0c,#ebff14,#e1ff1e,#d6ff29,#ccff33,#c1ff3e,#b7ff48,#adff52,#a5ff5a,#9dff62,#97ff68,#92ff6d,#8dff72,#89ff76 calc(100% - 3px))"></i>
<i style="left:21px;width:2px;background:linear-gradient(#0053ff 3px,#0057ff,#005bff,#005fff,#0062ff,#0066ff,#006aff,#006dff,#0071ff,#0075ff,#0079ff,#0081ff,#00a1ff,#00e1ff,#0cfff3,#5fffa0,#1fffe0,#19ffe6,#4cffb3,#18ffe7,#38ffc7,#0ffff0,#4dffb2,#39ffc6,#32ffcd,#1fffe0,#2effd1,#31ffce,#3cffc3,#11ffee,#18ffe7,#30ffcf,#40ffbf,#3dffc2,#59ffa6,#2effd1,#6eff91,#61ff9e,#2affd5,#5fffa0,#3effc1,#7fff80,#7cff83,#4effb1,#50ffaf,#40ffbf,#3fffc0,#72ff8d,#8dff72,#9aff65,#99ff66,#77ff88,#45ffba,#2dffd2,#35ffca,#4effb1,#6cff93,#87ff78,#9eff61,#b3ff4c,#c6ff39,#d5ff2a,#dfff20,#e4ff1b,#e4ff1b,#ddff22,#d2ff2d,#c3ff3c,#b4ff4b,#a4ff5b,#96ff69,#88ff77,#7dff82,#73ff8c,#6bff94,#66ff99,#62ff9d,#60ff9f,#5fffa0,#5fffa0 calc(100% - 3px))"></i>
<i style="left:23px;width:2px;background:linear-gradient(#0052ff 3px,#0056ff,#005aff,#005dff,#0061ff,#0065ff,#0069ff,#006cff,#0070ff,#0074ff,#0078ff,#007fff,#0097ff,#00d5ff,#01fffe,#41ffbe,#00faff,#00f9ff,#2dffd2,#00f9ff,#34ffcb,#00f2ff,#2fffd0,#0efff1,#25ffda,#12ffed,#09fff6,#14ffeb,#58ffa7,#01fffe,#00ebff,#1dffe2,#19ffe6,#49ffb6,#3bffc4,#24ffdb,#56ffa9,#43ffbc,#2effd1,#6bff94,#2bffd4,#62ff9d,#68ff97,#19ffe6,#3effc1,#58ffa7,#5bffa4,#71ff8e,#60ff9f,#63ff9c,#83ff7c,#75ff8a,#41ffbe,#1dffe2,#17ffe8,#20ffdf,#34ffcb,#50ffaf,#6eff91,#8bff74,#a2ff5d,#b3ff4c,#beff41,#c1ff3e,#beff41,#b4ff4b,#a6ff59,#95ff6a,#83ff7c,#72ff8d,#63ff9c,#55ffaa,#4bffb4,#43ffbc,#3dffc2,#3affc5,#39ffc6,#3affc5,#3dffc2,#40ffbf calc(100% - 3px))"></i>
<i style="left:25px;width:2px;background:linear-gradient(#0050ff 3px,#0054ff,#0057ff,#005bff,#005eff,#0062ff,#0066ff,#0069ff,#006dff,#0071ff,#0075ff,#007cff,#008dff,#00d6ff,#0cfff3,#00f2ff,#00e3ff,#00f8ff,#00fbff,#00e9ff,#06fff9,#00f3ff,#00faff,#03fffc,#2fffd0,#08fff7,#00f0ff,#08fff7,#28ffd7,#02fffd,#02fffd,#00faff,#08fff7,#2bffd4,#42ffbd,#00fcff,#11ffee,#26ffd9,#32ffcd,#48ffb7,#4fffb0,#27ffd8,#49ffb6,#2effd1,#57ffa8,#54ffab,#40ffbf,#5dffa2,#45ffba,#3fffc0,#62ff9d,#5effa1,#39ffc6,#24ffdb,#23ffdc,#2affd5,#36ffc9,#47ffb8,#59ffa6,#69ff96,#77ff88,#81ff7e,#86ff79,#86ff79,#82ff7d,#7aff85,#70ff8f,#64ff9b,#59ffa6,#4effb1,#45ffba,#3dffc2,#37ffc8,#32ffcd,#2fffd0,#2effd1,#2effd1,#30ffcf,#32ffcd,#35ffca calc(100% - 3px))"></i>
<i style="left:27px;width:2px;background:linear-gradient(#0000cc 3px,#0000cc,#0000cd,#0000ce,#0000cf,#0000d0,#0000d1,#0000d2,#0000d2,#0000d4,#0000d6,#0000dd,#0000fb,#006bff,#00deff,#00b7ff,#00e5ff,#02fffd,#00e1ff,#00eaff,#00caff,#00f4ff,#00c9ff,#09fff6,#1bffe4,#00f3ff,#00e4ff,#05fffa,#00ebff,#00feff,#0afff5,#00dfff,#05fffa,#00efff,#31ffce,#00d9ff,#00f6ff,#14ffeb,#0ffff0,#15ffea,#52ffad,#0afff5,#23ffdc,#45ffba,#6bff94,#3dffc2,#17ffe8,#40ffbf,#2cffd3,#1bffe4,#35ffca,#34ffcb,#23ffdc,#24ffdb,#33ffcc,#3fffc0,#45ffba,#48ffb7,#4bffb4,#4effb1,#52ffad,#56ffa9,#58ffa7,#58ffa7,#56ffa9,#51ffae,#4bffb4,#45ffba,#3effc1,#38ffc7,#33ffcc,#2fffd0,#2cffd3,#29ffd6,#28ffd7,#28ffd7,#28ffd7,#29ffd6,#2bffd4,#2dffd2 calc(100% - 3px))"></i>
<i style="left:29px;width:2px;background:linear-gradient(#0000a3 3px,#0000a3,#0000a3,#0000a3,#0000a3,#0000a3,#0000a3,#0000a3,#0000a3,#0000a4,#0000a5,#0000ad,#0000cd,#002fff,#00a1ff,#00bfff,#00e5ff,#13ffec,#00f0ff,#00e8ff,#00d1ff,#00dfff,#00beff,#00eaff,#00dbff,#00ddff,#00f2ff,#00f1ff,#00e5ff,#00e2ff,#00deff,#00fcff,#00f3ff,#00e1ff,#00e7ff,#00e9ff,#17ffe8,#13ffec,#00f4ff,#15ffea,#09fff6,#28ffd7,#00edff,#10ffef,#3cffc3,#35ffca,#35ffca,#3bffc4,#00f1ff,#00b7ff,#00e1ff,#00fbff,#0bfff4,#25ffda,#3cffc3,#44ffbb,#3fffc0,#36ffc9,#32ffcd,#34ffcb,#3cffc3,#45ffba,#4dffb2,#53ffac,#54ffab,#50ffaf,#49ffb6,#40ffbf,#36ffc9,#2cffd3,#23ffdc,#1cffe3,#16ffe9,#12ffed,#10ffef,#0ffff0,#10ffef,#12ffed,#15ffea,#19ffe6 calc(100% - 3px))"></i>
<i style="left:31px;width:2px;background:linear-gradient(#0000a3 3px,#0000a3,#0000a3,#0000a3,#0000a3,#0000a3,#0000a3,#0000a3,#0000a3,#0000a4,#0000a5,#0000ab,#0000c5,#0013ff,#00a9ff,#00a0ff,#00c6ff,#0afff5,#00e1ff,#00d2ff,#00b5ff,#00c4ff,#00c9ff,#00ccff,#00fbff,#00e2ff,#00feff,#00d4ff,#00a9ff,#00b8ff,#00ceff,#00f3ff,#00e8ff,#00d2ff,#00fdff,#00f1ff,#07fff8,#0dfff2,#15ffea,#19ffe6,#00e4ff,#00e0ff,#00c1ff,#04fffb,#32ffcd,#20ffdf,#0efff1,#0ffff0,#00d5ff,#00bfff,#00f4ff,#05fffa,#02fffd,#0dfff2,#22ffdd,#31ffce,#36ffc9,#31ffce,#2affd5,#2affd5,#33ffcc,#40ffbf,#4cffb3,#54ffab,#57ffa8,#53ffac,#4affb5,#3dffc2,#2fffd0,#21ffde,#15ffea,#0afff5,#02fffd,#00fbff,#00f8ff,#00f7ff,#00f8ff,#00faff,#00feff,#04fffb calc(100% - 3px))"></i>
<i style="left:33px;width:2px;background:linear-gradient(#0000a3 3px,#0000a3,#0000a3,#0000a3,#0000a3,#0000a3,#0000a3,#0000a3,#0000a3,#0000a4,#0000a5,#0000aa,#0000c2,#0000fe,#0088ff,#0098ff,#00b7ff,#00f6ff,#00d3ff,#00d0ff,#009dff,#00b2ff,#00b3ff,#00b2ff,#0efff1,#00d7ff,#00e0ff,#00b5ff,#008bff,#00c3ff,#00e8ff,#00faff,#00bfff,#00dfff,#00fcff,#00dbff,#10ffef,#00f3ff,#0efff1,#16ffe9,#00d8ff,#00e5ff,#00cfff,#09fff6,#12ffed,#00f0ff,#00e0ff,#00e5ff,#00e5ff,#00fdff,#21ffde,#1bffe4,#00f9ff,#00dfff,#00e0ff,#00f5ff,#10ffef,#22ffdd,#2cffd3,#32ffcd,#38ffc7,#3dffc2,#3fffc0,#40ffbf,#3dffc2,#37ffc8,#2fffd0,#25ffda,#1cffe3,#13ffec,#0bfff4,#04fffb,#00feff,#00faff,#00f7ff,#00f5ff,#00f5ff,#00f6ff,#00f7ff,#00f9ff calc(100% - 3px))"></i>
<i style="left:35px;width:2px;background:linear-gradient(#0000a3 3px,#0000a3,#0000a3,#0000a3,#0000a3,#0000a3,#0000a3,#0000a3,#0000a3,#0000a4,#0000a5,#0000aa,#0000c1,#0000f0,#0056ff,#00baff,#00b7ff,#00f3ff,#00d4ff,#00d1ff,#00b0ff,#00ccff,#00acff,#00b6ff,#00f1ff,#00b6ff,#00c6ff,#00b0ff,#00b6ff,#00d6ff,#00e7ff,#00ffff,#0092ff,#00e0ff,#00d3ff,#00b9ff,#1affe5,#00d3ff,#00fcff,#00f2ff,#00d5ff,#0cfff3,#00d6ff,#00e9ff,#00dcff,#00d1ff,#00ddff,#00dbff,#00e8ff,#02fffd,#16ffe9,#13ffec,#00f5ff,#00ceff,#00b6ff,#00c0ff,#00dfff,#03fffc,#21ffde,#33ffcc,#3affc5,#3affc5,#35ffca,#2effd1,#27ffd8,#21ffde,#1bffe4,#16ffe9,#12ffed,#0efff1,#0bfff4,#08fff7,#06fff9,#03fffc,#01fffe,#00feff,#00fcff,#00faff,#00f8ff,#00f7ff calc(100% - 3px))"></i>
<i style="left:37px;width:2px;background:linear-gradient(#0000a3 3px,#0000a3,#0000a3,#0000a3,#0000a3,#0000a3,#0000a3,#0000a3,#0000a3,#0000a4,#0000a5,#0000aa,#0000bc,#0000eb,#005eff,#00bbff,#00a0ff,#00f4ff,#00c8ff,#00baff,#00c7ff,#00f7ff,#00d6ff,#00d2ff,#00daff,#009aff,#00deff,#00ceff,#00d5ff,#00baff,#00b9ff,#00d1ff,#00a0ff,#00bbff,#00e5ff,#00b4ff,#00e0ff,#00c5ff,#20ffdf,#00a3ff,#00dcff,#00b3ff,#00adff,#00b7ff,#00d3ff,#00d8ff,#00d7ff,#00e4ff,#00d9ff,#00d4ff,#00e6ff,#00f6ff,#00f4ff,#00e4ff,#00d1ff,#00cbff,#00d5ff,#00eaff,#04fffb,#1bffe4,#2bffd4,#36ffc9,#3cffc3,#3fffc0,#3effc1,#3bffc4,#35ffca,#2fffd0,#28ffd7,#20ffdf,#19ffe6,#13ffec,#0dfff2,#08fff7,#03fffc,#00feff,#00fbff,#00f9ff,#00f7ff,#00f5ff calc(100% - 3px))"></i>
<i style="left:39px;width:2px;background:linear-gradient(#0000a3 3px,#0000a3,#0000a3,#0000a3,#0000a3,#0000a3,#0000a3,#0000a3,#0000a3,#0000a4,#0000a5,#0000aa,#0000ba,#0000f1,#0048ff,#0079ff,#009bff,#00bdff,#00b5ff,#00c5ff,#00afff,#00c1ff,#00b2ff,#00a6ff,#008bff,#0071ff,#00d2ff,#00d2ff,#00d9ff,#00a2ff,#00d0ff,#00bcff,#009dff,#00d5ff,#00eeff,#00d9ff,#00d0ff,#00ceff,#00f5ff,#0086ff,#00acff,#00a0ff,#00c0ff,#00caff,#00c5ff,#00adff,#00d4ff,#21ffde,#0bfff4,#00e4ff,#00e1ff,#00dcff,#00cfff,#00d1ff,#00d8ff,#00d9ff,#00d8ff,#00e0ff,#00f2ff,#0afff5,#24ffdb,#3bffc4,#4effb1,#5bffa4,#61ff9e,#61ff9e,#5affa5,#50ffaf,#44ffbb,#38ffc7,#2cffd3,#21ffde,#17ffe8,#0ffff0,#09fff6,#04fffb,#02fffd,#00ffff,#00feff,#00feff calc(100% - 3px))"></i>
<i style="left:41px;width:2px;background:linear-gradient(#0000a3 3px,#0000a3,#0000a3,#0000a3,#0000a3,#0000a3,#0000a3,#0000a3,#0000a3,#0000a4,#0000a5,#0000ab,#0000ba,#0000e3,#0033ff,#0035ff,#00a0ff,#0056ff,#00bdff,#00a3ff,#009bff,#0097ff,#00a1ff,#0097ff,#0079ff,#006aff,#00abff,#00b1ff,#00cdff,#0082ff,#00ccff,#009dff,#009dff,#00f0ff,#00a2ff,#00c4ff,#00a2ff,#00ebff,#00c8ff,#00b5ff,#00aaff,#00d3ff,#00c8ff,#00bdff,#00acff,#00a8ff,#00e4ff,#23ffdc,#00f8ff,#00d6ff,#00edff,#00efff,#00d9ff,#00d7ff,#00e2ff,#00ecff,#00f6ff,#06fff9,#1affe5,#2fffd0,#41ffbe,#4fffb0,#59ffa6,#5effa1,#5fffa0,#5cffa3,#55ffaa,#4dffb2,#45ffba,#3cffc3,#34ffcb,#2dffd2,#26ffd9,#21ffde,#1dffe2,#1affe5,#19ffe6,#18ffe7,#17ffe8,#17ffe8 calc(100% - 3px))"></i>
<i style="left:43px;width:2px;background:linear-gradient(#0000a3 3px,#0000a3,#0000a3,#0000a3,#0000a3,#0000a3,#0000a3,#0000a3,#0000a3,#0000a4,#0000a6,#0000aa,#0000b8,#0000d5,#002bff,#0020ff,#00a0ff,#0039ff,#00bcff,#007eff,#00aeff,#00aaff,#00acff,#00b4ff,#00a3ff,#009fff,#0086ff,#0086ff,#00c9ff,#0072ff,#0097ff,#0098ff,#00a3ff,#00d0ff,#005cff,#0096ff,#008cff,#00d8ff,#00baff,#00cfff,#00caff,#00d6ff,#00b9ff,#0096ff,#00acff,#00d2ff,#00e9ff,#00dbff,#00a7ff,#00a7ff,#00e7ff,#0bfff4,#00fcff,#00e6ff,#00dbff,#00e6ff,#03fffc,#25ffda,#45ffba,#58ffa7,#5fffa0,#5cffa3,#55ffaa,#4cffb3,#43ffbc,#3bffc4,#34ffcb,#2fffd0,#2bffd4,#28ffd7,#25ffda,#23ffdc,#21ffde,#20ffdf,#1effe1,#1dffe2,#1cffe3,#1bffe4,#1affe5,#19ffe6 calc(100% - 3px))"></i>
<i style="left:45px;width:2px;background:linear-gradient(#0000a3 3px,#0000a3,#0000a3,#0000a3,#0000a3,#0000a3,#0000a3,#0000a3,#0000a3,#0000a4,#0000a6,#0000a9,#0000b6,#0000e5,#0013ff,#0025ff,#0094ff,#0097ff,#0088ff,#00c0ff,#00c9ff,#00a5ff,#006fff,#00a0ff,#0086ff,#00c8ff,#0075ff,#006fff,#00ceff,#0096ff,#0099ff,#00d7ff,#0091ff,#009bff,#00aeff,#00beff,#00edff,#0060ff,#0099ff,#00bbff,#00a2ff,#0090ff,#00caff,#00c5ff,#00c1ff,#00c3ff,#00bbff,#00b1ff,#00b3ff,#00c3ff,#00d7ff,#00e2ff,#00ceff,#00a4ff,#0084ff,#0093ff,#00c1ff,#00f2ff,#1dffe2,#38ffc7,#45ffba,#47ffb8,#43ffbc,#3affc5,#30ffcf,#25ffda,#1bffe4,#11ffee,#09fff6,#01fffe,#00f9ff,#00f3ff,#00eeff,#00eaff,#00e6ff,#00e3ff,#00e0ff,#00deff,#00dcff,#00dbff calc(100% - 3px))"></i>
<i style="left:47px;width:2px;background:linear-gradient(#0000a3 3px,#0000a3,#0000a3,#0000a3,#0000a3,#0000a3,#0000a3,#0000a3,#0000a3,#0000a4,#0000a5,#0000a9,#0000b3,#0000e0,#000fff,#002fff,#0069ff,#0088ff,#00a5ff,#00c4ff,#00c5ff,#00b0ff,#006dff,#00b2ff,#0093ff,#0092ff,#009dff,#004aff,#00abff,#0092ff,#00a9ff,#00a6ff,#0090ff,#0097ff,#008bff,#00abff,#0091ff,#0060ff,#00ceff,#00cbff,#00abff,#004eff,#00b0ff,#00d8ff,#00aeff,#0083ff,#008dff,#00acff,#00b9ff,#00bdff,#00beff,#00bcff,#00a9ff,#0089ff,#0071ff,#0072ff,#0089ff,#00a8ff,#00c8ff,#00e5ff,#00fdff,#10ffef,#1cffe3,#21ffde,#1fffe0,#17ffe8,#0afff5,#00fbff,#00ebff,#00dbff,#00cdff,#00bfff,#00b4ff,#00aaff,#00a2ff,#009cff,#0097ff,#0093ff,#0091ff,#0090ff calc(100% - 3px))"></i>
<i style="left:49px;width:2px;background:linear-gradient(#0000a3 3px,#0000a3,#0000a3,#0000a3,#0000a3,#0000a3,#0000a3,#0000a3,#0000a3,#0000a4,#0000a5,#0000aa,#0000b3,#0000d2,#0003ff,#0041ff,#004eff,#0057ff,#00c4ff,#00a4ff,#009eff,#00a0ff,#00a0ff,#009eff,#00a6ff,#0079ff,#00baff,#005bff,#007cff,#0077ff,#0096ff,#0076ff,#009eff,#00abff,#0072ff,#004dff,#0035ff,#00a6ff,#00f5ff,#00a4ff,#00d8ff,#006aff,#0060ff,#00edff,#00d0ff,#0080ff,#008eff,#00b8ff,#009bff,#008dff,#00baff,#00d5ff,#00d4ff,#00ccff,#00beff,#00abff,#0099ff,#0092ff,#0098ff,#00a9ff,#00c0ff,#00d6ff,#00e9ff,#00f6ff,#00fcff,#00fbff,#00f4ff,#00e9ff,#00dcff,#00cfff,#00c1ff,#00b5ff,#00aaff,#00a1ff,#0099ff,#0093ff,#008fff,#008bff,#0089ff,#0088ff calc(100% - 3px))"></i>
<i style="left:51px;width:2px;background:linear-gradient(#0000a3 3px,#0000a3,#0000a3,#0000a3,#0000a3,#0000a3,#0000a3,#0000a3,#0000a3,#0000a4,#0000a5,#0000aa,#0000b6,#0000cd,#0000eb,#0046ff,#0064ff,#0073ff,#009aff,#008cff,#007cff,#007eff,#00b6ff,#0066ff,#0091ff,#00a4ff,#009bff,#009eff,#0088ff,#0075ff,#0088ff,#008bff,#00b1ff,#00a5ff,#00b7ff,#0025ff,#009fff,#009fff,#00d5ff,#003aff,#00d4ff,#009aff,#003dff,#00efff,#05fffa,#00b6ff,#00a4ff,#00b8ff,#008cff,#008cff,#00d7ff,#02fffd,#05fffa,#07fff8,#01fffe,#00e7ff,#00c5ff,#00abff,#00a0ff,#00a2ff,#00acff,#00b8ff,#00c4ff,#00ceff,#00d6ff,#00daff,#00dbff,#00d9ff,#00d7ff,#00d3ff,#00d0ff,#00ccff,#00c8ff,#00c4ff,#00c1ff,#00beff,#00bcff,#00baff,#00b8ff,#00b7ff calc(100% - 3px))"></i>
<i style="left:53px;width:2px;background:linear-gradient(#0000a3 3px,#0000a3,#0000a3,#0000a3,#0000a3,#0000a3,#0000a3,#0000a3,#0000a3,#0000a4,#0000a5,#0000aa,#0000b5,#0000c7,#0000ea,#0021ff,#007cff,#0086ff,#0076ff,#0055ff,#0080ff,#0092ff,#009fff,#0094ff,#008dff,#007eff,#006aff,#00b5ff,#00c8ff,#0082ff,#00baff,#005cff,#00c4ff,#0083ff,#00b1ff,#006dff,#00a8ff,#0075ff,#00caff,#0060ff,#0093ff,#008fff,#0099ff,#0093ff,#00afff,#00b7ff,#00a9ff,#00a9ff,#00adff,#00c6ff,#00e6ff,#00e0ff,#00d3ff,#00eaff,#06fff9,#00ffff,#00e5ff,#00d1ff,#00c9ff,#00c7ff,#00c6ff,#00c5ff,#00c4ff,#00c3ff,#00c3ff,#00c5ff,#00c9ff,#00cdff,#00d1ff,#00d6ff,#00d9ff,#00ddff,#00dfff,#00e1ff,#00e2ff,#00e3ff,#00e2ff,#00e2ff,#00e0ff,#00dfff calc(100% - 3px))"></i>
<i style="left:55px;width:2px;background:linear-gradient(#0000a3 3px,#0000a3,#0000a3,#0000a3,#0000a3,#0000a3,#0000a3,#0000a3,#0000a3,#0000a4,#0000a6,#0000a9,#0000b3,#0000ca,#0000e4,#0000fd,#0051ff,#0062ff,#0082ff,#0065ff,#007aff,#0077ff,#0079ff,#00a7ff,#00a1ff,#0071ff,#0066ff,#0091ff,#009eff,#008eff,#009eff,#0065ff,#009bff,#0074ff,#0089ff,#007aff,#0099ff,#009aff,#00bbff,#0052ff,#007cff,#007dff,#00e6ff,#00a4ff,#0083ff,#00a6ff,#00baff,#00beff,#00ccff,#00caff,#00acff,#0093ff,#0090ff,#00a7ff,#00c4ff,#00daff,#00e8ff,#00f5ff,#00fdff,#00fcff,#00f2ff,#00e4ff,#00d6ff,#00caff,#00c2ff,#00bfff,#00c1ff,#00c6ff,#00cdff,#00d4ff,#00dcff,#00e2ff,#00e7ff,#00ecff,#00eeff,#00f0ff,#00f0ff,#00f0ff,#00efff,#00edff calc(100% - 3px))"></i>
<i style="left:57px;width:2px;background:linear-gradient(#0000a3 3px,#0000a3,#0000a3,#0000a3,#0000a3,#0000a3,#0000a3,#0000a3,#0000a4,#0000a4,#0000a6,#0000a9,#0000b3,#0000c8,#0000dd,#0000fb,#0021ff,#0040ff,#009eff,#009eff,#0075ff,#0066ff,#007cff,#008dff,#008bff,#008aff,#0083ff,#0072ff,#005cff,#008fff,#0046ff,#0098ff,#004cff,#0091ff,#008aff,#006cff,#0098ff,#00a8ff,#009aff,#0072ff,#00a0ff,#0087ff,#00ebff,#00e4ff,#008bff,#008eff,#00c5ff,#00d0ff,#00bfff,#00a5ff,#0089ff,#006eff,#0065ff,#0075ff,#0095ff,#00baff,#00dcff,#00f5ff,#04fffb,#04fffb,#00faff,#00ecff,#00deff,#00d3ff,#00ccff,#00c9ff,#00ccff,#00d1ff,#00d8ff,#00dfff,#00e6ff,#00ebff,#00f0ff,#00f3ff,#00f5ff,#00f5ff,#00f4ff,#00f2ff,#00efff,#00ecff calc(100% - 3px))"></i>
<i style="left:59px;width:2px;background:linear-gradient(#0000a3 3px,#0000a3,#0000a3,#0000a3,#0000a3,#0000a3,#0000a3,#0000a3,#0000a4,#0000a4,#0000a6,#0000a8,#0000b1,#0000bc,#0000e0,#0008ff,#0024ff,#004fff,#00a4ff,#00abff,#0083ff,#008dff,#0088ff,#007bff,#0057ff,#0088ff,#009aff,#007aff,#0073ff,#0079ff,#002cff,#009dff,#002aff,#00a9ff,#00a6ff,#0075ff,#008eff,#0078ff,#007bff,#00c1ff,#00b6ff,#0092ff,#00a8ff,#00bbff,#0084ff,#007aff,#00b0ff,#00c7ff,#00a8ff,#009bff,#00abff,#0092ff,#006aff,#007fff,#00abff,#00c4ff,#00ccff,#00d0ff,#00d3ff,#00d5ff,#00d5ff,#00d4ff,#00d4ff,#00d5ff,#00d7ff,#00dbff,#00e1ff,#00e8ff,#00eeff,#00f4ff,#00f9ff,#00fcff,#00feff,#00feff,#00fdff,#00fbff,#00f8ff,#00f4ff,#00efff,#00eaff calc(100% - 3px))"></i>
<i style="left:61px;width:2px;background:linear-gradient(#0000a3 3px,#0000a3,#0000a3,#0000a3,#0000a3,#0000a3,#0000a3,#0000a3,#0000a4,#0000a4,#0000a5,#0000a8,#0000ae,#0000bc,#0000de,#0000fc,#0027ff,#0067ff,#0095ff,#008cff,#008cff,#007fff,#0044ff,#0072ff,#0077ff,#0076ff,#00a1ff,#006cff,#0070ff,#004fff,#005aff,#0078ff,#0057ff,#007fff,#0096ff,#0061ff,#007cff,#0081ff,#0077ff,#0069ff,#00a3ff,#0089ff,#0056ff,#005bff,#00a3ff,#0092ff,#008fff,#00dfff,#00d1ff,#00a8ff,#00a4ff,#00afff,#00bfff,#00cdff,#00d2ff,#00ccff,#00beff,#00b0ff,#00a6ff,#00a3ff,#00a6ff,#00aeff,#00b7ff,#00c3ff,#00cfff,#00dbff,#00e7ff,#00f1ff,#00faff,#03fffc,#08fff7,#0bfff4,#0dfff2,#0dfff2,#0bfff4,#08fff7,#04fffb,#00feff,#00f8ff,#00f2ff calc(100% - 3px))"></i>
<i style="left:63px;width:2px;background:linear-gradient(#0000a3 3px,#0000a3,#0000a3,#0000a3,#0000a3,#0000a3,#0000a3,#0000a3,#0000a4,#0000a4,#0000a5,#0000a7,#0000af,#0000bb,#0000e3,#0000fd,#002eff,#0079ff,#0076ff,#005aff,#00a0ff,#0077ff,#003fff,#0090ff,#0091ff,#00a4ff,#008aff,#0057ff,#0067ff,#006aff,#0079ff,#0060ff,#0051ff,#007fff,#00a8ff,#0069ff,#009aff,#008eff,#00aaff,#0047ff,#0089ff,#0085ff,#001bff,#0045ff,#00aeff,#0092ff,#0083ff,#00e2ff,#00e0ff,#00bfff,#00bcff,#00b7ff,#00b9ff,#00cbff,#00ddff,#00dbff,#00c8ff,#00afff,#0098ff,#008cff,#008bff,#0092ff,#009eff,#00acff,#00bbff,#00caff,#00d9ff,#00e6ff,#00f1ff,#00faff,#02fffd,#07fff8,#0afff5,#0bfff4,#0afff5,#08fff7,#05fffa,#01fffe,#00fbff,#00f6ff calc(100% - 3px))"></i>
<i style="left:65px;width:2px;background:linear-gradient(#0000a3 3px,#0000a3,#0000a3,#0000a3,#0000a3,#0000a3,#0000a3,#0000a4,#0000a4,#0000a5,#0000a9,#0000aa,#0000be,#0000c9,#0000fb,#0036ff,#005eff,#0099ff,#0088ff,#0067ff,#00baff,#0095ff,#00a4ff,#008bff,#0090ff,#00b2ff,#007bff,#006eff,#0071ff,#0077ff,#008bff,#0067ff,#004bff,#008cff,#0098ff,#0074ff,#00beff,#0084ff,#00baff,#0080ff,#00a2ff,#007bff,#0057ff,#0095ff,#009bff,#0092ff,#00a5ff,#00bdff,#00c3ff,#00c6ff,#00bcff,#0088ff,#005eff,#007cff,#00afff,#00c9ff,#00c8ff,#00bbff,#00acff,#00a2ff,#009dff,#009dff,#00a0ff,#00a5ff,#00acff,#00b4ff,#00bcff,#00c4ff,#00cbff,#00d1ff,#00d6ff,#00daff,#00ddff,#00deff,#00deff,#00ddff,#00dbff,#00d8ff,#00d5ff,#00d1ff calc(100% - 3px))"></i>
<i style="left:67px;width:2px;background:linear-gradient(#0000a3 3px,#0000a3,#0000a3,#0000a3,#0000a3,#0000a3,#0000a4,#0000a4,#0000a5,#0000a5,#0000a9,#0000b2,#0000ca,#0000de,#0000fe,#005eff,#0083ff,#00abff,#00b9ff,#00a2ff,#00b2ff,#009eff,#00d9ff,#0046ff,#0089ff,#0052ff,#0079ff,#00a0ff,#0076ff,#002fff,#008cff,#0079ff,#0075ff,#0069ff,#0041ff,#0048ff,#00a6ff,#0077ff,#0066ff,#0079ff,#00b6ff,#0059ff,#00adff,#00c4ff,#007bff,#00a3ff,#00ccff,#0094ff,#00a5ff,#00adff,#0075ff,#0034ff,#0025ff,#0045ff,#0073ff,#0095ff,#00acff,#00bcff,#00c5ff,#00c7ff,#00c3ff,#00bcff,#00b5ff,#00adff,#00a7ff,#00a3ff,#00a0ff,#009eff,#009dff,#009cff,#009bff,#009aff,#0099ff,#0098ff,#0096ff,#0095ff,#0093ff,#0091ff,#0090ff,#008eff calc(100% - 3px))"></i>
<i style="left:69px;width:2px;background:linear-gradient(#0000a3 3px,#0000a3,#0000a3,#0000a3,#0000a3,#0000a3,#0000a3,#0000a3,#0000a4,#0000a5,#0000a7,#0000ad,#0000b5,#0000c0,#0000de,#0002ff,#003dff,#007fff,#007dff,#0079ff,#008cff,#0075ff,#0071ff,#0072ff,#006eff,#0048ff,#004dff,#0097ff,#005dff,#0040ff,#0052ff,#0085ff,#0050ff,#0088ff,#0074ff,#003fff,#008cff,#0059ff,#0033ff,#0064ff,#002dff,#004cff,#008cff,#0081ff,#0040ff,#0071ff,#009bff,#006cff,#0065ff,#0081ff,#0087ff,#005bff,#0033ff,#0057ff,#008dff,#00a7ff,#00a8ff,#00a6ff,#00a8ff,#00acff,#00b1ff,#00b5ff,#00b6ff,#00b5ff,#00b3ff,#00aeff,#00a7ff,#00a0ff,#0098ff,#0090ff,#0088ff,#0081ff,#007bff,#0076ff,#0072ff,#006eff,#006cff,#006aff,#0068ff,#0067ff calc(100% - 3px))"></i>
<i style="left:71px;width:2px;background:linear-gradient(#0000a3 3px,#0000a3,#0000a3,#0000a3,#0000a3,#0000a3,#0000a3,#0000a3,#0000a4,#0000a4,#0000a6,#0000aa,#0000ad,#0000b5,#0000ce,#0000e4,#0015ff,#004dff,#0047ff,#0066ff,#007bff,#004aff,#0043ff,#007dff,#007fff,#006aff,#0043ff,#0084ff,#0061ff,#005eff,#0072ff,#0062ff,#0047ff,#00c9ff,#0082ff,#0063ff,#00b3ff,#004cff,#0067ff,#0045ff,#0006ff,#006eff,#006aff,#005fff,#0065ff,#003dff,#0017ff,#0032ff,#002aff,#005bff,#00a6ff,#00aeff,#00a4ff,#00cbff,#00f7ff,#00eeff,#00bdff,#0088ff,#0063ff,#005aff,#0069ff,#0082ff,#009cff,#00b2ff,#00c2ff,#00caff,#00c9ff,#00c4ff,#00bbff,#00b1ff,#00a7ff,#009dff,#0093ff,#008bff,#0084ff,#007fff,#007bff,#0078ff,#0076ff,#0074ff calc(100% - 3px))"></i>
<i style="left:73px;width:2px;background:linear-gradient(#0000a3 3px,#0000a3,#0000a3,#0000a3,#0000a3,#0000a3,#0000a3,#0000a3,#0000a4,#0000a4,#0000a6,#0000a9,#0000ac,#0000b4,#0000c7,#0000ea,#000cff,#001eff,#002dff,#0067ff,#0049ff,#0039ff,#0063ff,#0049ff,#0085ff,#005eff,#005dff,#006aff,#0068ff,#004fff,#0095ff,#002dff,#0076ff,#00c5ff,#0052ff,#0089ff,#00beff,#004eff,#0072ff,#0044ff,#0061ff,#0078ff,#0068ff,#0075ff,#0097ff,#003bff,#0000df,#0035ff,#003fff,#0054ff,#0091ff,#00b3ff,#00ceff,#00fcff,#1affe5,#02fffd,#00c4ff,#0082ff,#0050ff,#003fff,#004cff,#0067ff,#0086ff,#00a3ff,#00b9ff,#00c7ff,#00ccff,#00ccff,#00c9ff,#00c3ff,#00bcff,#00b5ff,#00aeff,#00a8ff,#00a3ff,#009fff,#009bff,#0099ff,#0098ff,#0097ff calc(100% - 3px))"></i>
<i style="left:75px;width:2px;background:linear-gradient(#0000a3 3px,#0000a3,#0000a3,#0000a3,#0000a3,#0000a3,#0000a3,#0000a3,#0000a4,#0000a4,#0000a5,#0000a9,#0000ac,#0000b2,#0000cf,#0000db,#0008ff,#0020ff,#002bff,#0063ff,#001fff,#0062ff,#0074ff,#0062ff,#0067ff,#0056ff,#0064ff,#0058ff,#0058ff,#0042ff,#0039ff,#002eff,#0087ff,#005fff,#0062ff,#008bff,#005cff,#003bff,#0026ff,#0061ff,#0047ff,#0040ff,#004cff,#0061ff,#0074ff,#0046ff,#0041ff,#008eff,#0082ff,#006bff,#0075ff,#0074ff,#0075ff,#0094ff,#00b3ff,#00baff,#00abff,#0097ff,#0086ff,#007eff,#007cff,#007fff,#0084ff,#008aff,#0091ff,#0097ff,#009dff,#00a2ff,#00a6ff,#00a9ff,#00acff,#00aeff,#00b0ff,#00b2ff,#00b3ff,#00b4ff,#00b5ff,#00b5ff,#00b6ff,#00b6ff calc(100% - 3px))"></i>
<i style="left:77px;width:2px;background:linear-gradient(#0000a3 3px,#0000a3,#0000a3,#0000a3,#0000a3,#0000a3,#0000a3,#0000a3,#0000a4,#0000a4,#0000a5,#0000a8,#0000ad,#0000b9,#0000d3,#0000db,#0000ff,#0035ff,#002eff,#0071ff,#0042ff,#003eff,#0065ff,#0040ff,#0070ff,#0050ff,#003eff,#0094ff,#0073ff,#002dff,#0049ff,#0028ff,#007bff,#0000f4,#005bff,#0057ff,#0041ff,#0031ff,#0088ff,#0035ff,#004dff,#0026ff,#006eff,#0073ff,#0085ff,#0068ff,#0063ff,#00abff,#00a7ff,#007dff,#0066ff,#006bff,#006cff,#004eff,#0038ff,#0053ff,#0084ff,#00a8ff,#00b8ff,#00b4ff,#00a4ff,#008fff,#007cff,#006dff,#0064ff,#0063ff,#0069ff,#0072ff,#007eff,#008bff,#0097ff,#00a3ff,#00adff,#00b6ff,#00bdff,#00c2ff,#00c6ff,#00c8ff,#00caff,#00cbff calc(100% - 3px))"></i>
<i style="left:79px;width:2px;background:linear-gradient(#0000a3 3px,#0000a3,#0000a3,#0000a3,#0000a3,#0000a3,#0000a3,#0000a3,#0000a4,#0000a4,#0000a5,#0000a6,#0000ad,#0000bb,#0000c9,#0000db,#0000f9,#0043ff,#001eff,#0075ff,#004bff,#0026ff,#005aff,#0019ff,#0076ff,#0034ff,#0051ff,#0079ff,#0070ff,#0026ff,#008dff,#003cff,#0056ff,#001bff,#0050ff,#0059ff,#006aff,#0056ff,#00a3ff,#002cff,#007fff,#003dff,#0088ff,#0070ff,#007bff,#007cff,#0084ff,#00b7ff,#009eff,#0067ff,#004dff,#0068ff,#0078ff,#0054ff,#002bff,#003eff,#0074ff,#009dff,#00b0ff,#00abff,#0097ff,#007dff,#0065ff,#0053ff,#0049ff,#0049ff,#0052ff,#0060ff,#0071ff,#0083ff,#0094ff,#00a3ff,#00b1ff,#00bcff,#00c5ff,#00cbff,#00cfff,#00d1ff,#00d1ff,#00d1ff calc(100% - 3px))"></i>
<i style="left:81px;width:2px;background:linear-gradient(#0000a3 3px,#0000a3,#0000a3,#0000a3,#0000a3,#0000a3,#0000a3,#0000a3,#0000a4,#0000a4,#0000a5,#0000a4,#0000ad,#0000b6,#0000c1,#0000d5,#0000ff,#0048ff,#0017ff,#005bff,#0027ff,#003aff,#006aff,#0039ff,#004eff,#0038ff,#0064ff,#0025ff,#0045ff,#0051ff,#008eff,#0058ff,#0044ff,#006eff,#005dff,#008bff,#0060ff,#006cff,#0052ff,#0052ff,#0094ff,#006cff,#0066ff,#0048ff,#0058ff,#0089ff,#00b7ff,#00bbff,#0066ff,#002eff,#0052ff,#0062ff,#0056ff,#005aff,#0069ff,#0076ff,#0081ff,#008dff,#0095ff,#0092ff,#0083ff,#006fff,#005bff,#004eff,#0048ff,#004bff,#0056ff,#0066ff,#0077ff,#0089ff,#0099ff,#00a8ff,#00b4ff,#00bdff,#00c4ff,#00c8ff,#00c9ff,#00c9ff,#00c7ff,#00c4ff calc(100% - 3px))"></i>
<i style="left:83px;width:2px;background:linear-gradient(#0000a3 3px,#0000a3,#0000a3,#0000a3,#0000a3,#0000a3,#0000a3,#0000a3,#0000a4,#0000a4,#0000a6,#0000a6,#0000ae,#0000b7,#0000ca,#0000dc,#0008ff,#0049ff,#0031ff,#003cff,#0031ff,#001eff,#0077ff,#005dff,#0022ff,#007eff,#0000f6,#0058ff,#0047ff,#0083ff,#005eff,#0047ff,#0064ff,#006cff,#0069ff,#007eff,#001bff,#0040ff,#0077ff,#0042ff,#006dff,#00adff,#003aff,#004bff,#0088ff,#00a0ff,#00a6ff,#008bff,#0017ff,#0014ff,#008cff,#009aff,#0069ff,#006cff,#008cff,#0097ff,#0091ff,#0090ff,#0093ff,#0092ff,#0089ff,#007bff,#006dff,#0062ff,#005eff,#0061ff,#0069ff,#0075ff,#0083ff,#0090ff,#009cff,#00a6ff,#00adff,#00b3ff,#00b6ff,#00b7ff,#00b6ff,#00b3ff,#00afff,#00aaff calc(100% - 3px))"></i>
<i style="left:85px;width:2px;background:linear-gradient(#0000a3 3px,#0000a3,#0000a3,#0000a3,#0000a3,#0000a3,#0000a3,#0000a3,#0000a4,#0000a4,#0000a6,#0000a8,#0000ae,#0000b6,#0000cf,#0000de,#0003ff,#0043ff,#0035ff,#0036ff,#003fff,#0024ff,#0049ff,#0035ff,#0029ff,#0067ff,#0000fd,#0037ff,#005cff,#0081ff,#0053ff,#005aff,#005eff,#004eff,#005fff,#0073ff,#005cff,#0065ff,#00a5ff,#0071ff,#0047ff,#00d0ff,#0043ff,#0063ff,#0080ff,#006cff,#0067ff,#0063ff,#003bff,#003bff,#006bff,#0080ff,#0083ff,#0095ff,#00a9ff,#00acff,#00a3ff,#009cff,#0098ff,#0093ff,#008aff,#007fff,#0076ff,#006fff,#006cff,#006eff,#0074ff,#007cff,#0085ff,#008eff,#0096ff,#009cff,#00a1ff,#00a5ff,#00a6ff,#00a6ff,#00a5ff,#00a2ff,#009fff,#009cff calc(100% - 3px))"></i>
<i style="left:87px;width:2px;background:linear-gradient(#0000a3 3px,#0000a3,#0000a3,#0000a3,#0000a3,#0000a3,#0000a3,#0000a3,#0000a4,#0000a4,#0000a5,#0000a8,#0000ac,#0000b7,#0000ce,#0000e4,#0000fb,#0057ff,#0033ff,#005dff,#0054ff,#0053ff,#0055ff,#004bff,#0045ff,#0062ff,#004fff,#002aff,#0063ff,#0081ff,#0061ff,#006fff,#0079ff,#0052ff,#003dff,#0072ff,#0086ff,#0097ff,#00a9ff,#0062ff,#0045ff,#0079ff,#0053ff,#0061ff,#006eff,#005aff,#0045ff,#004dff,#006fff,#0066ff,#0030ff,#0037ff,#006dff,#0093ff,#00a3ff,#00a4ff,#009dff,#0091ff,#0083ff,#0077ff,#006dff,#0067ff,#0063ff,#0062ff,#0064ff,#0067ff,#006dff,#0074ff,#007bff,#0082ff,#0089ff,#008fff,#0095ff,#0099ff,#009dff,#00a0ff,#00a2ff,#00a4ff,#00a5ff,#00a5ff calc(100% - 3px))"></i>
<i style="left:89px;width:2px;background:linear-gradient(#0000a3 3px,#0000a3,#0000a3,#0000a3,#0000a3,#0000a3,#0000a3,#0000a3,#0000a4,#0000a4,#0000a5,#0000a7,#0000ab,#0000ba,#0000cd,#0000e8,#0000f5,#0062ff,#0029ff,#003fff,#0042ff,#0057ff,#0071ff,#007bff,#003eff,#0063ff,#003aff,#0050ff,#001fff,#0065ff,#0031ff,#0043ff,#007aff,#0044ff,#002bff,#004bff,#0047ff,#0078ff,#009cff,#0004ff,#006dff,#0000e0,#003cff,#003fff,#0084ff,#0091ff,#0059ff,#0053ff,#0071ff,#0077ff,#0058ff,#0041ff,#0049ff,#0063ff,#007cff,#0088ff,#0086ff,#007dff,#0071ff,#0067ff,#0061ff,#005eff,#005eff,#005fff,#0062ff,#0066ff,#006bff,#0071ff,#0077ff,#007eff,#0085ff,#008bff,#0091ff,#0097ff,#009dff,#00a2ff,#00a6ff,#00abff,#00aeff,#00b2ff calc(100% - 3px))"></i>
<i style="left:91px;width:2px;background:linear-gradient(#0000a3 3px,#0000a3,#0000a3,#0000a3,#0000a3,#0000a3,#0000a3,#0000a3,#0000a4,#0000a4,#0000a5,#0000a9,#0000ad,#0000b9,#0000d3,#0000e3,#0001ff,#0044ff,#0037ff,#0000df,#003bff,#0075ff,#005dff,#0070ff,#007bff,#003aff,#0055ff,#005fff,#001eff,#004bff,#0029ff,#005aff,#0024ff,#0048ff,#008eff,#002eff,#004eff,#004eff,#009dff,#005cff,#00adff,#0028ff,#0032ff,#0027ff,#0076ff,#007dff,#005cff,#0077ff,#006eff,#0078ff,#009bff,#008dff,#0063ff,#0055ff,#0060ff,#006fff,#007cff,#0086ff,#008dff,#008fff,#008dff,#0088ff,#0083ff,#007eff,#007bff,#007bff,#007dff,#0081ff,#0085ff,#008aff,#008fff,#0094ff,#0099ff,#009dff,#00a1ff,#00a4ff,#00a7ff,#00a9ff,#00abff,#00acff calc(100% - 3px))"></i>
<i style="left:93px;width:2px;background:linear-gradient(#0000a3 3px,#0000a3,#0000a3,#0000a3,#0000a3,#0000a3,#0000a3,#0000a3,#0000a3,#0000a4,#0000a5,#0000a9,#0000ac,#0000ba,#0000c8,#0000dc,#0011ff,#000eff,#003cff,#0024ff,#0052ff,#0068ff,#0060ff,#006eff,#0057ff,#003cff,#004eff,#0046ff,#004dff,#005cff,#001fff,#005cff,#0023ff,#0052ff,#0086ff,#003cff,#0060ff,#005eff,#007cff,#008eff,#008aff,#0054ff,#005aff,#0048ff,#0043ff,#0033ff,#0020ff,#0031ff,#004fff,#007cff,#00adff,#00b3ff,#008aff,#0057ff,#0038ff,#0049ff,#0073ff,#009aff,#00b5ff,#00beff,#00bbff,#00b1ff,#00a5ff,#0099ff,#008fff,#008aff,#0088ff,#0088ff,#008aff,#008dff,#0091ff,#0094ff,#0097ff,#0099ff,#009bff,#009bff,#009cff,#009bff,#009aff,#0099ff calc(100% - 3px))"></i>
<i style="left:95px;width:2px;background:linear-gradient(#0000a3 3px,#0000a3,#0000a3,#0000a3,#0000a3,#0000a3,#0000a3,#0000a3,#0000a4,#0000a4,#0000a5,#0000a8,#0000ab,#0000bb,#0000bd,#0000d5,#0017ff,#0006ff,#002aff,#0070ff,#0069ff,#0057ff,#0065ff,#0072ff,#0026ff,#004eff,#0046ff,#0043ff,#0063ff,#0062ff,#003eff,#003dff,#004cff,#0052ff,#0045ff,#0062ff,#0060ff,#0061ff,#0056ff,#005cff,#0043ff,#0043ff,#0061ff,#0056ff,#001fff,#0014ff,#0000ff,#0000d4,#0033ff,#0082ff,#009cff,#009bff,#007fff,#0050ff,#002fff,#0041ff,#0071ff,#009bff,#00b6ff,#00bfff,#00b9ff,#00abff,#009bff,#008cff,#007fff,#0077ff,#0072ff,#0071ff,#0072ff,#0074ff,#0076ff,#0079ff,#007cff,#007eff,#0080ff,#0082ff,#0083ff,#0084ff,#0084ff,#0085ff calc(100% - 3px))"></i>
<i style="left:97px;width:2px;background:linear-gradient(#0000a3 3px,#0000a3,#0000a3,#0000a3,#0000a3,#0000a3,#0000a3,#0000a4,#0000a4,#0000a6,#0000a7,#0000b1,#0000ba,#0000cc,#0000eb,#000dff,#0059ff,#0070ff,#005bff,#0065ff,#00a5ff,#00a7ff,#0086ff,#00a0ff,#0086ff,#007cff,#00a2ff,#0098ff,#008eff,#0077ff,#00bbff,#0078ff,#006cff,#007cff,#0076ff,#0099ff,#006aff,#004aff,#0054ff,#0023ff,#0054ff,#0054ff,#0034ff,#0044ff,#004cff,#005eff,#0044ff,#0000fb,#0045ff,#008eff,#009aff,#007dff,#005bff,#0051ff,#005bff,#0069ff,#0078ff,#0089ff,#0098ff,#009fff,#009bff,#0090ff,#0083ff,#0076ff,#006bff,#0064ff,#005fff,#005dff,#005cff,#005dff,#005fff,#0061ff,#0063ff,#0066ff,#0069ff,#006cff,#006fff,#0072ff,#0075ff,#0078ff calc(100% - 3px))"></i>
<i style="left:99px;width:2px;background:linear-gradient(#0000a3 3px,#0000a3,#0000a3,#0000a3,#0000a3,#0000a3,#0000a4,#0000a4,#0000a6,#0000a8,#0000ab,#0000bc,#0000d3,#0000fa,#0043ff,#00a5ff,#00d7ff,#00bfff,#00d3ff,#00a9ff,#00f6ff,#00e4ff,#00dbff,#00eeff,#00aeff,#00dbff,#00e8ff,#00dfff,#00e0ff,#00cbff,#0afff5,#00f2ff,#00b1ff,#00edff,#00d2ff,#00b3ff,#0069ff,#008dff,#0042ff,#0055ff,#008cff,#0072ff,#0049ff,#0066ff,#009aff,#00acff,#0064ff,#0000ed,#0047ff,#0097ff,#0098ff,#0080ff,#006fff,#006fff,#0076ff,#0076ff,#0074ff,#0075ff,#007aff,#007fff,#0081ff,#0080ff,#007eff,#007aff,#0077ff,#0074ff,#0072ff,#0070ff,#006eff,#006dff,#006dff,#006dff,#006dff,#006eff,#0070ff,#0071ff,#0073ff,#0075ff,#0077ff,#007aff calc(100% - 3px))"></i>
<i style="left:101px;width:2px;background:linear-gradient(#0000a3 3px,#0000a3,#0000a3,#0000a3,#0000a3,#0000a3,#0000a3,#0000a4,#0000a4,#0000a5,#0000a8,#0000ac,#0000b7,#0000cd,#0000f9,#0049ff,#0057ff,#0046ff,#0080ff,#0078ff,#0092ff,#006cff,#0087ff,#0082ff,#0052ff,#0096ff,#0065ff,#0092ff,#0099ff,#0080ff,#00aaff,#0082ff,#003dff,#0093ff,#008eff,#006bff,#0058ff,#0055ff,#0010ff,#0044ff,#0061ff,#0042ff,#006cff,#0048ff,#0078ff,#007dff,#0037ff,#000dff,#0036ff,#0061ff,#0071ff,#006dff,#006dff,#007bff,#008cff,#0091ff,#008cff,#0084ff,#007cff,#0078ff,#0077ff,#0077ff,#0079ff,#007bff,#007dff,#0080ff,#0082ff,#0084ff,#0085ff,#0087ff,#0088ff,#0089ff,#008aff,#008aff,#008bff,#008bff,#008aff,#008aff,#008aff,#0089ff calc(100% - 3px))"></i>
<i style="left:103px;width:2px;background:linear-gradient(#0000a3 3px,#0000a3,#0000a3,#0000a3,#0000a3,#0000a3,#0000a3,#0000a3,#0000a3,#0000a4,#0000a6,#0000a7,#0000ab,#0000b6,#0000c9,#0000d9,#0000ec,#0005ff,#0029ff,#0044ff,#004bff,#002eff,#0045ff,#003aff,#0032ff,#0051ff,#0020ff,#0048ff,#0042ff,#0042ff,#0057ff,#001dff,#0000ee,#0034ff,#0035ff,#0046ff,#004fff,#0014ff,#0015ff,#0047ff,#0053ff,#002cff,#008dff,#0044ff,#003eff,#0033ff,#0019ff,#0043ff,#0041ff,#002eff,#0022ff,#000dff,#001aff,#0052ff,#008aff,#00aaff,#00b2ff,#00a9ff,#0097ff,#0083ff,#0070ff,#0061ff,#0056ff,#0050ff,#0050ff,#0055ff,#005eff,#0069ff,#0075ff,#0080ff,#008bff,#0094ff,#009bff,#00a0ff,#00a4ff,#00a5ff,#00a6ff,#00a4ff,#00a3ff,#00a0ff calc(100% - 3px))"></i>
<i style="left:105px;width:2px;background:linear-gradient(#0000a3 3px,#0000a3,#0000a3,#0000a3,#0000a3,#0000a3,#0000a3,#0000a3,#0000a4,#0000a4,#0000a5,#0000a7,#0000aa,#0000b5,#0000c6,#0000c7,#0000fb,#002aff,#002bff,#002fff,#005aff,#0046ff,#004dff,#0051ff,#0023ff,#0035ff,#004cff,#000dff,#0011ff,#0048ff,#0014ff,#005bff,#002eff,#0059ff,#002cff,#0045ff,#0017ff,#0034ff,#002dff,#007dff,#0076ff,#003fff,#008eff,#0078ff,#0036ff,#002fff,#003dff,#0042ff,#005aff,#0043ff,#0000e3,#0000c2,#0000ea,#0030ff,#0069ff,#0092ff,#00aaff,#00adff,#009fff,#0086ff,#006aff,#004fff,#003aff,#002cff,#0028ff,#002dff,#0039ff,#0049ff,#005bff,#006cff,#007dff,#008bff,#0097ff,#00a1ff,#00a7ff,#00abff,#00adff,#00acff,#00abff,#00a8ff calc(100% - 3px))"></i>
<i style="left:107px;width:2px;background:linear-gradient(#0000a3 3px,#0000a3,#0000a3,#0000a3,#0000a3,#0000a3,#0000a3,#0000a3,#0000a4,#0000a4,#0000a5,#0000a7,#0000a9,#0000b5,#0000c5,#0000e0,#0000fa,#004cff,#001eff,#001fff,#0055ff,#002dff,#0039ff,#003fff,#001dff,#000eff,#0043ff,#001bff,#0030ff,#0036ff,#0000d4,#0059ff,#002cff,#0062ff,#007bff,#0046ff,#002eff,#003cff,#005bff,#0079ff,#003bff,#001cff,#0093ff,#007cff,#003eff,#0055ff,#0074ff,#0069ff,#0079ff,#0068ff,#0034ff,#0045ff,#0078ff,#0075ff,#005dff,#005bff,#006cff,#0079ff,#007cff,#0076ff,#006dff,#0064ff,#005cff,#0058ff,#0057ff,#0059ff,#005eff,#0064ff,#006bff,#0072ff,#0079ff,#007fff,#0084ff,#0088ff,#008bff,#008dff,#008eff,#008fff,#008fff,#008fff calc(100% - 3px))"></i>
<i style="left:109px;width:2px;background:linear-gradient(#0000a3 3px,#0000a3,#0000a3,#0000a3,#0000a3,#0000a3,#0000a3,#0000a3,#0000a3,#0000a4,#0000a5,#0000a7,#0000a9,#0000b3,#0000c1,#0000d9,#0000f1,#0038ff,#0020ff,#0033ff,#004eff,#0036ff,#003aff,#004aff,#0036ff,#0009ff,#0036ff,#0027ff,#003aff,#0035ff,#0029ff,#000aff,#0027ff,#002eff,#0071ff,#0045ff,#003bff,#000fff,#005bff,#0063ff,#001eff,#0000ee,#0072ff,#002fff,#004eff,#0060ff,#0049ff,#0068ff,#007cff,#006fff,#005dff,#0076ff,#0096ff,#008eff,#006fff,#0056ff,#004bff,#004aff,#0051ff,#005fff,#0072ff,#0085ff,#0096ff,#00a4ff,#00acff,#00aeff,#00aaff,#00a4ff,#009cff,#0093ff,#008bff,#0083ff,#007dff,#0078ff,#0074ff,#0072ff,#0071ff,#0072ff,#0073ff,#0074ff calc(100% - 3px))"></i>
<i style="left:111px;width:2px;background:linear-gradient(#0000a3 3px,#0000a3,#0000a3,#0000a3,#0000a3,#0000a3,#0000a3,#0000a3,#0000a4,#0000a4,#0000a4,#0000a6,#0000a9,#0000b0,#0000be,#0000c4,#0000f3,#0015ff,#0038ff,#0034ff,#003fff,#004eff,#0048ff,#0059ff,#004dff,#001aff,#0036ff,#0029ff,#0020ff,#0031ff,#0073ff,#0000d8,#0033ff,#000bff,#0038ff,#0021ff,#002dff,#0000f1,#0040ff,#0041ff,#001cff,#0000e4,#004dff,#0013ff,#0062ff,#004dff,#0002ff,#004dff,#0066ff,#0065ff,#0064ff,#0057ff,#0054ff,#0071ff,#008cff,#0087ff,#006cff,#0057ff,#0052ff,#005fff,#0075ff,#008dff,#00a4ff,#00b6ff,#00c3ff,#00c9ff,#00c9ff,#00c4ff,#00bdff,#00b5ff,#00adff,#00a5ff,#009dff,#0097ff,#0092ff,#008eff,#008cff,#008aff,#0089ff,#0089ff calc(100% - 3px))"></i>
<i style="left:113px;width:2px;background:linear-gradient(#0000a3 3px,#0000a3,#0000a3,#0000a3,#0000a3,#0000a3,#0000a3,#0000a3,#0000a4,#0000a4,#0000a4,#0000a7,#0000ab,#0000af,#0000c0,#0000d7,#0000f4,#0013ff,#003aff,#0000f3,#0010ff,#002aff,#002eff,#001fff,#003bff,#001eff,#001cff,#0045ff,#0037ff,#0016ff,#0036ff,#0009ff,#0020ff,#0021ff,#0070ff,#0000cc,#0048ff,#0024ff,#0046ff,#0000e6,#0000bd,#0000f0,#0058ff,#0072ff,#0066ff,#004bff,#004dff,#006aff,#005eff,#006aff,#0096ff,#0091ff,#007bff,#0088ff,#009eff,#009bff,#0085ff,#0071ff,#0069ff,#006aff,#0072ff,#007dff,#0088ff,#0093ff,#009dff,#00a5ff,#00acff,#00b2ff,#00b6ff,#00b8ff,#00baff,#00baff,#00b9ff,#00b8ff,#00b6ff,#00b3ff,#00b0ff,#00adff,#00a9ff,#00a6ff calc(100% - 3px))"></i>
<i style="left:115px;width:2px;background:linear-gradient(#0000a3 3px,#0000a3,#0000a3,#0000a3,#0000a3,#0000a3,#0000a3,#0000a3,#0000a4,#0000a4,#0000a4,#0000a6,#0000ab,#0000ac,#0000be,#0000e1,#0000ed,#0003ff,#0024ff,#0000f6,#0000fb,#0034ff,#0027ff,#001aff,#0021ff,#004dff,#001cff,#002dff,#006cff,#0035ff,#0030ff,#001aff,#0020ff,#0000fc,#009cff,#0000fc,#005aff,#0039ff,#001fff,#0000d9,#0000fc,#0026ff,#0033ff,#0047ff,#0048ff,#0058ff,#0068ff,#0064ff,#006fff,#006cff,#0051ff,#0041ff,#0056ff,#0078ff,#008fff,#008cff,#007aff,#0068ff,#005eff,#005bff,#005dff,#0060ff,#0064ff,#0069ff,#006eff,#0072ff,#0077ff,#007aff,#007dff,#0080ff,#0081ff,#0082ff,#0083ff,#0083ff,#0082ff,#0081ff,#007fff,#007dff,#007bff,#0079ff calc(100% - 3px))"></i>
<i style="left:117px;width:2px;background:linear-gradient(#0000a3 3px,#0000a3,#0000a3,#0000a3,#0000a3,#0000a3,#0000a3,#0000a3,#0000a3,#0000a4,#0000a4,#0000a6,#0000ab,#0000ae,#0000be,#0000d5,#0000ec,#0000fa,#000aff,#002aff,#000dff,#001bff,#0052ff,#0030ff,#002bff,#0043ff,#0043ff,#0028ff,#0046ff,#0052ff,#0056ff,#002dff,#0012ff,#002bff,#005fff,#0045ff,#0046ff,#0037ff,#0036ff,#0013ff,#0048ff,#0041ff,#0014ff,#0003ff,#0000f5,#0048ff,#0071ff,#004eff,#0072ff,#006fff,#001cff,#0000ef,#0018ff,#0048ff,#0060ff,#005fff,#004fff,#003eff,#0035ff,#0035ff,#003dff,#0047ff,#0050ff,#0055ff,#0057ff,#0054ff,#004dff,#0045ff,#003cff,#0034ff,#002cff,#0026ff,#0021ff,#001dff,#001bff,#001aff,#001bff,#001cff,#001eff,#0021ff calc(100% - 3px))"></i>
<i style="left:119px;width:2px;background:linear-gradient(#0000a3 3px,#0000a3,#0000a3,#0000a3,#0000a3,#0000a3,#0000a3,#0000a3,#0000a3,#0000a4,#0000a4,#0000a8,#0000aa,#0000b2,#0000c2,#0000cf,#0000fd,#0002ff,#0017ff,#004dff,#0038ff,#0000fa,#007dff,#004eff,#0072ff,#0012ff,#007bff,#0059ff,#0027ff,#0054ff,#0077ff,#005bff,#001dff,#00a0ff,#0005ff,#005eff,#003dff,#0034ff,#0066ff,#002cff,#003fff,#005fff,#001aff,#0034ff,#0000fe,#0035ff,#0067ff,#0037ff,#0046ff,#0059ff,#0042ff,#002eff,#0034ff,#0045ff,#0051ff,#004fff,#0042ff,#0030ff,#0023ff,#0022ff,#002dff,#003eff,#004dff,#0058ff,#005cff,#0058ff,#004fff,#0043ff,#0035ff,#0028ff,#001cff,#0012ff,#000aff,#0004ff,#0000ff,#0000fd,#0000fd,#0000fe,#0002ff,#0005ff calc(100% - 3px))"></i>
<i style="left:121px;width:2px;background:linear-gradient(#0000a3 3px,#0000a3,#0000a3,#0000a3,#0000a3,#0000a3,#0000a3,#0000a3,#0000a4,#0000a4,#0000a5,#0000a7,#0000ab,#0000b1,#0000c2,#0000e6,#000dff,#0000fc,#0049ff,#0050ff,#0066ff,#0054ff,#005eff,#007aff,#00b7ff,#004bff,#008aff,#0068ff,#00a7ff,#0069ff,#00a0ff,#0071ff,#006eff,#00b8ff,#001aff,#0062ff,#006aff,#0025ff,#001aff,#0011ff,#0022ff,#0098ff,#0003ff,#0056ff,#0089ff,#004cff,#000eff,#0006ff,#0009ff,#0014ff,#002fff,#004fff,#006cff,#007aff,#007cff,#0075ff,#0066ff,#0050ff,#003aff,#0031ff,#0038ff,#0047ff,#0058ff,#0067ff,#0071ff,#0075ff,#0074ff,#006fff,#0069ff,#0061ff,#005aff,#0052ff,#004cff,#0046ff,#0041ff,#003dff,#003aff,#0038ff,#0036ff,#0035ff calc(100% - 3px))"></i>
<i style="left:123px;width:2px;background:linear-gradient(#0000a3 3px,#0000a3,#0000a3,#0000a3,#0000a3,#0000a3,#0000a3,#0000a3,#0000a4,#0000a4,#0000a4,#0000a5,#0000a9,#0000af,#0000be,#0000fa,#0000f2,#000bff,#0029ff,#002aff,#0055ff,#0056ff,#000cff,#0039ff,#005cff,#0061ff,#001fff,#0028ff,#0066ff,#0067ff,#0091ff,#0022ff,#004bff,#0080ff,#0026ff,#0039ff,#0061ff,#0018ff,#0000d9,#0000fe,#000eff,#0050ff,#002bff,#0031ff,#004fff,#0030ff,#0001ff,#0017ff,#0034ff,#002eff,#0018ff,#003cff,#0077ff,#0093ff,#0093ff,#0088ff,#0078ff,#0064ff,#0053ff,#004dff,#0052ff,#005fff,#006fff,#007eff,#008bff,#0095ff,#009bff,#009fff,#00a0ff,#00a0ff,#009fff,#009cff,#0099ff,#0094ff,#008fff,#008aff,#0085ff,#007fff,#007aff,#0074ff calc(100% - 3px))"></i>
<i style="left:125px;width:2px;background:linear-gradient(#0000a3 3px,#0000a3,#0000a3,#0000a3,#0000a3,#0000a3,#0000a3,#0000a3,#0000a4,#0000a4,#0000a4,#0000a5,#0000a8,#0000ac,#0000bb,#0000e9,#0000d8,#0012ff,#0010ff,#0014ff,#001dff,#0034ff,#0006ff,#001fff,#002aff,#0059ff,#0000fc,#001fff,#0022ff,#0062ff,#005fff,#000cff,#005bff,#0064ff,#0044ff,#0040ff,#0058ff,#002eff,#000cff,#0034ff,#0016ff,#001fff,#0058ff,#0048ff,#0027ff,#0022ff,#0026ff,#0036ff,#005fff,#0059ff,#0022ff,#001cff,#0046ff,#0063ff,#006cff,#006dff,#006aff,#0067ff,#0067ff,#006bff,#0074ff,#007eff,#008aff,#0095ff,#009fff,#00a9ff,#00b1ff,#00b8ff,#00beff,#00c2ff,#00c4ff,#00c5ff,#00c3ff,#00c1ff,#00bcff,#00b7ff,#00b1ff,#00aaff,#00a2ff,#009bff calc(100% - 3px))"></i>
<i style="left:127px;width:2px;background:linear-gradient(#0000a3 3px,#0000a3,#0000a3,#0000a3,#0000a3,#0000a3,#0000a3,#0000a3,#0000a3,#0000a4,#0000a4,#0000a5,#0000a9,#0000a8,#0000b7,#0000c3,#0000d0,#0000f0,#0014ff,#0007ff,#0000eb,#001cff,#0013ff,#003bff,#0044ff,#003cff,#0020ff,#001dff,#003aff,#002fff,#001eff,#003bff,#0084ff,#0056ff,#005aff,#005dff,#0050ff,#0043ff,#0038ff,#005cff,#004dff,#005cff,#005aff,#0084ff,#0072ff,#0046ff,#002cff,#0028ff,#0047ff,#0052ff,#0038ff,#001cff,#001bff,#0031ff,#004aff,#0057ff,#005eff,#0064ff,#006dff,#0077ff,#0081ff,#008bff,#0094ff,#009cff,#00a5ff,#00adff,#00b5ff,#00bcff,#00c1ff,#00c5ff,#00c7ff,#00c7ff,#00c6ff,#00c3ff,#00bfff,#00baff,#00b4ff,#00adff,#00a5ff,#009eff calc(100% - 3px))"></i>
<i style="left:129px;width:2px;background:linear-gradient(#0000a3 3px,#0000a3,#0000a3,#0000a3,#0000a3,#0000a3,#0000a3,#0000a4,#0000a4,#0000a4,#0000a5,#0000a6,#0000a9,#0000ab,#0000b6,#0000c9,#0000db,#0000fe,#000fff,#002aff,#0030ff,#0023ff,#000bff,#0039ff,#002cff,#0044ff,#0013ff,#0000eb,#000dff,#000cff,#0045ff,#0053ff,#001eff,#004dff,#0029ff,#004aff,#000cff,#0039ff,#0037ff,#003cff,#009dff,#004dff,#0050ff,#000fff,#0000f1,#003dff,#0048ff,#000fff,#002fff,#0056ff,#004eff,#003aff,#0039ff,#004dff,#0061ff,#0065ff,#005eff,#005bff,#005eff,#0067ff,#0073ff,#007eff,#0089ff,#0093ff,#009cff,#00a3ff,#00a9ff,#00adff,#00b0ff,#00b1ff,#00b1ff,#00b0ff,#00aeff,#00abff,#00a7ff,#00a2ff,#009dff,#0098ff,#0093ff,#008eff calc(100% - 3px))"></i>
<i style="left:131px;width:2px;background:linear-gradient(#0000a4 3px,#0000a4,#0000a4,#0000a3,#0000a3,#0000a3,#0000a3,#0000a4,#0000a4,#0000a4,#0000a5,#0000a7,#0000a9,#0000ae,#0000b7,#0000c9,#0000f0,#0012ff,#0013ff,#0035ff,#0024ff,#002bff,#0001ff,#001aff,#0031ff,#003bff,#0028ff,#0000df,#0007ff,#0021ff,#005eff,#0018ff,#0000fb,#0029ff,#001bff,#0028ff,#0000a9,#0000fa,#0028ff,#004dff,#0056ff,#0020ff,#003bff,#000090,#0000a4,#0056ff,#0071ff,#001dff,#0031ff,#006aff,#0078ff,#005eff,#0048ff,#0053ff,#0069ff,#006eff,#0068ff,#0063ff,#0066ff,#006dff,#0074ff,#007aff,#007fff,#0084ff,#0089ff,#008dff,#0091ff,#0095ff,#0097ff,#0099ff,#009aff,#009bff,#009bff,#009bff,#009aff,#0099ff,#0097ff,#0096ff,#0094ff,#0092ff calc(100% - 3px))"></i>
<i style="left:133px;width:2px;background:linear-gradient(#0000a4 3px,#0000a4,#0000a4,#0000a4,#0000a4,#0000a4,#0000a3,#0000a4,#0000a4,#0000a4,#0000a5,#0000a7,#0000a9,#0000ac,#0000b3,#0000bd,#0000ec,#0000f0,#0013ff,#001aff,#0000fe,#0025ff,#0002ff,#0000ec,#003bff,#0015ff,#004cff,#0009ff,#0010ff,#0036ff,#0027ff,#0000fc,#0021ff,#0031ff,#000bff,#0037ff,#0000cb,#0009ff,#0030ff,#005fff,#0000f9,#0027ff,#0022ff,#0000c4,#0000df,#0051ff,#0066ff,#0026ff,#003bff,#0074ff,#008aff,#006eff,#0045ff,#003bff,#0047ff,#0051ff,#005bff,#006aff,#007cff,#0087ff,#0089ff,#0083ff,#007cff,#0076ff,#0073ff,#0073ff,#0076ff,#007cff,#0082ff,#0088ff,#008fff,#0095ff,#009bff,#009fff,#00a4ff,#00a7ff,#00aaff,#00acff,#00aeff,#00b0ff calc(100% - 3px))"></i>
<i style="left:135px;width:2px;background:linear-gradient(#0000a4 3px,#0000a4,#0000a4,#0000a4,#0000a4,#0000a4,#0000a4,#0000a4,#0000a4,#0000a4,#0000a5,#0000a6,#0000a9,#0000a8,#0000ac,#0000be,#0000d2,#0000c5,#0002ff,#0000ff,#0033ff,#001fff,#0009ff,#0000e0,#0024ff,#0012ff,#004bff,#0030ff,#0000fb,#0027ff,#0000f2,#004dff,#001aff,#005bff,#0000e6,#005eff,#0025ff,#005dff,#0042ff,#0030ff,#003bff,#004cff,#0027ff,#0031ff,#0007ff,#001bff,#002fff,#0002ff,#002dff,#005aff,#005eff,#0057ff,#004dff,#003fff,#0035ff,#0037ff,#0046ff,#005dff,#0075ff,#0082ff,#0083ff,#007cff,#0072ff,#006aff,#0066ff,#0067ff,#006cff,#0073ff,#007bff,#0084ff,#008cff,#0094ff,#009bff,#00a1ff,#00a6ff,#00abff,#00aeff,#00b1ff,#00b3ff,#00b5ff calc(100% - 3px))"></i>
<i style="left:137px;width:2px;background:linear-gradient(#0000a4 3px,#0000a4,#0000a4,#0000a4,#0000a4,#0000a4,#0000a4,#0000a4,#0000a4,#0000a5,#0000a5,#0000a6,#0000a8,#0000ac,#0000b1,#0000c4,#0000d8,#0000f9,#0006ff,#0000fd,#0041ff,#0024ff,#0011ff,#001aff,#0027ff,#0054ff,#0049ff,#003dff,#003bff,#001aff,#0049ff,#0063ff,#0034ff,#0022ff,#0049ff,#0044ff,#0000d1,#0048ff,#0034ff,#0025ff,#0043ff,#003cff,#0054ff,#000bff,#0021ff,#0057ff,#003eff,#0000f6,#0005ff,#0027ff,#002fff,#0037ff,#0044ff,#004bff,#004eff,#0053ff,#0058ff,#005aff,#0059ff,#0059ff,#005bff,#005fff,#0064ff,#006aff,#0070ff,#0075ff,#007bff,#007fff,#0084ff,#0087ff,#008aff,#008cff,#008eff,#008fff,#0090ff,#0090ff,#008fff,#008fff,#008eff,#008dff calc(100% - 3px))"></i>
<i style="left:139px;width:2px;background:linear-gradient(#0000a5 3px,#0000a5,#0000a5,#0000a4,#0000a4,#0000a5,#0000a4,#0000a4,#0000a4,#0000a5,#0000a6,#0000a7,#0000ab,#0000b7,#0000c5,#0000e8,#000dff,#0042ff,#005aff,#005dff,#0054ff,#0059ff,#0052ff,#0050ff,#0047ff,#008aff,#0078ff,#005eff,#00abff,#0051ff,#00a1ff,#004cff,#0083ff,#0046ff,#0085ff,#0066ff,#002cff,#007bff,#0040ff,#005bff,#0015ff,#004aff,#006fff,#0040ff,#0061ff,#0086ff,#007cff,#0065ff,#0059ff,#0055ff,#0050ff,#004bff,#0056ff,#006aff,#007cff,#007eff,#0072ff,#0060ff,#0050ff,#004bff,#0053ff,#0062ff,#0072ff,#0080ff,#008bff,#0090ff,#0091ff,#008fff,#008aff,#0085ff,#007fff,#0079ff,#0074ff,#0070ff,#006cff,#0069ff,#0067ff,#0065ff,#0064ff,#0063ff calc(100% - 3px))"></i>
<i style="left:141px;width:2px;background:linear-gradient(#0000a5 3px,#0000a5,#0000a5,#0000a5,#0000a5,#0000a5,#0000a5,#0000a5,#0000a5,#0000a7,#0000aa,#0000b1,#0000c1,#0000de,#0011ff,#005cff,#0088ff,#00c0ff,#00f9ff,#00ffff,#00dbff,#00eeff,#00eaff,#00caff,#00bcff,#00e3ff,#15ffea,#00d7ff,#26ffd9,#00ddff,#16ffe9,#00adff,#15ffea,#00fcff,#00caff,#13ffec,#04fffb,#2fffd0,#00eeff,#00ddff,#0094ff,#00d4ff,#00d1ff,#02fffd,#00feff,#00e1ff,#00f5ff,#1affe5,#0bfff4,#00ebff,#00dbff,#00caff,#00beff,#00baff,#00b5ff,#00a6ff,#0093ff,#0085ff,#0080ff,#0086ff,#0095ff,#00a6ff,#00b5ff,#00bfff,#00c2ff,#00beff,#00b3ff,#00a4ff,#0093ff,#0081ff,#0070ff,#0062ff,#0057ff,#004fff,#004bff,#0048ff,#0049ff,#004bff,#004eff,#0052ff calc(100% - 3px))"></i>
<i style="left:143px;width:2px;background:linear-gradient(#0000a4 3px,#0000a4,#0000a4,#0000a5,#0000a5,#0000a5,#0000a6,#0000a6,#0000a6,#0000a7,#0000aa,#0000b0,#0000b7,#0000cc,#0000f2,#0020ff,#0046ff,#008bff,#00aaff,#009eff,#00cdff,#00c1ff,#00b6ff,#00b5ff,#009cff,#00a1ff,#00e7ff,#00a5ff,#00a6ff,#00a8ff,#00dfff,#00b6ff,#00d1ff,#00bdff,#0097ff,#00f1ff,#0085ff,#00e6ff,#00faff,#0097ff,#00e0ff,#00b0ff,#00ccff,#00b7ff,#00dfff,#00d8ff,#00b9ff,#00d0ff,#00cbff,#00baff,#00b5ff,#00b6ff,#00b4ff,#00acff,#009eff,#008bff,#0079ff,#006fff,#0070ff,#007aff,#0089ff,#0098ff,#00a4ff,#00aaff,#00a9ff,#00a1ff,#0093ff,#0082ff,#006fff,#005eff,#004eff,#0041ff,#0038ff,#0033ff,#0031ff,#0032ff,#0036ff,#003cff,#0043ff,#004aff calc(100% - 3px))"></i>
<i style="left:145px;width:2px;background:linear-gradient(#0000a6 3px,#0000a6,#0000a6,#0000a6,#0000a5,#0000a5,#0000a5,#0000a7,#0000a6,#0000a7,#0000a7,#0000aa,#0000a8,#0000af,#0000be,#0000c5,#0000e8,#0000e4,#002dff,#0028ff,#003cff,#0013ff,#002fff,#0025ff,#0025ff,#001bff,#000bff,#0020ff,#0013ff,#0047ff,#0047ff,#0011ff,#003bff,#0038ff,#0044ff,#0059ff,#0027ff,#0048ff,#0027ff,#0023ff,#005aff,#0019ff,#0063ff,#002dff,#006aff,#007eff,#0048ff,#004dff,#006cff,#0066ff,#003dff,#0031ff,#0059ff,#0090ff,#00b1ff,#00a9ff,#0086ff,#0064ff,#004eff,#0046ff,#0048ff,#004dff,#0053ff,#0057ff,#0059ff,#0057ff,#0051ff,#004aff,#0042ff,#003bff,#0035ff,#0031ff,#002eff,#002dff,#002eff,#0030ff,#0034ff,#0039ff,#003fff,#0045ff calc(100% - 3px))"></i>
<i style="left:147px;width:2px;background:linear-gradient(#0000a7 3px,#0000a7,#0000a7,#0000a8,#0000a6,#0000a6,#0000a5,#0000a8,#0000a6,#0000a7,#0000a7,#0000ac,#0000aa,#0000ad,#0000b7,#0000bc,#0000d5,#0000cb,#0001ff,#0000f4,#0000ea,#0000ff,#0000fa,#0000fe,#0020ff,#0000f7,#0000f4,#0004ff,#001fff,#000fff,#0015ff,#0000f6,#0004ff,#0040ff,#003aff,#0016ff,#0016ff,#000bff,#000cff,#003aff,#000fff,#0000df,#003fff,#0025ff,#0041ff,#0062ff,#0042ff,#0024ff,#0046ff,#0047ff,#0014ff,#0011ff,#0052ff,#0096ff,#00bdff,#00b9ff,#0097ff,#006eff,#004bff,#0032ff,#0025ff,#001eff,#001dff,#001fff,#0023ff,#0029ff,#002eff,#0033ff,#0038ff,#003cff,#0040ff,#0044ff,#0048ff,#004bff,#004fff,#0052ff,#0054ff,#0057ff,#005aff,#005cff calc(100% - 3px))"></i>
<i style="left:149px;width:2px;background:linear-gradient(#0000a7 3px,#0000a7,#0000a7,#0000a9,#0000a8,#0000a7,#0000a8,#0000ab,#0000a7,#0000a5,#0000aa,#0000ae,#0000af,#0000ad,#0000ae,#0000be,#0000c7,#0000db,#0000d0,#0000cf,#0000ce,#0013ff,#0000dd,#0000fb,#000eff,#0000f1,#0033ff,#0000f8,#0024ff,#0000da,#0002ff,#001dff,#0000dd,#003eff,#0024ff,#0000e5,#0000c6,#0000eb,#003bff,#003bff,#0000ff,#0000e5,#0026ff,#002aff,#000fff,#0048ff,#0057ff,#0000fb,#0000f2,#0012ff,#001cff,#0031ff,#0052ff,#0066ff,#006eff,#006fff,#006aff,#005eff,#004eff,#003bff,#002aff,#001cff,#0012ff,#000fff,#0011ff,#001aff,#0026ff,#0035ff,#0044ff,#0053ff,#0061ff,#006eff,#0079ff,#0081ff,#0088ff,#008dff,#0090ff,#0092ff,#0093ff,#0093ff calc(100% - 3px))"></i>
<i style="left:151px;width:2px;background:linear-gradient(#0000a9 3px,#0000a9,#0000a9,#0000aa,#0000a9,#0000a7,#0000aa,#0000aa,#0000aa,#0000a6,#0000ae,#0000aa,#0000ac,#0000ae,#0000a8,#0000c3,#0000cd,#0000c7,#0000c8,#0000fa,#0000e5,#0000eb,#0000db,#0000e2,#0000c7,#0000f2,#0003ff,#0000e9,#0000e8,#000fff,#0000ed,#0008ff,#0000d2,#0000f4,#000bff,#0000d5,#00009f,#000aff,#0000f7,#0000fb,#0008ff,#0017ff,#0022ff,#0020ff,#0000e9,#0037ff,#006dff,#000dff,#0000d8,#0006ff,#003cff,#0038ff,#001cff,#0025ff,#0042ff,#0052ff,#0056ff,#0059ff,#005aff,#0054ff,#0046ff,#0034ff,#0024ff,#001aff,#0017ff,#001cff,#0028ff,#0038ff,#0049ff,#005bff,#006bff,#007aff,#0086ff,#0091ff,#0099ff,#009fff,#00a3ff,#00a5ff,#00a5ff,#00a5ff calc(100% - 3px))"></i>
<i style="left:153px;width:2px;background:linear-gradient(#0000a9 3px,#0000a9,#0000a9,#0000a9,#0000a9,#0000aa,#0000ae,#0000a9,#0000ae,#0000ad,#0000ac,#0000a7,#0000ab,#0000ad,#0000b2,#0000c1,#0000cb,#0000c1,#0000d6,#0000f8,#0000cf,#0002ff,#0000ce,#0000d2,#0000db,#0000d5,#0000cd,#0000de,#0000bc,#0013ff,#0000cb,#0000de,#0000d6,#0000d4,#0000e1,#0002ff,#000089,#0002ff,#0020ff,#001bff,#0000ed,#0018ff,#0020ff,#000bff,#0000f7,#000eff,#003cff,#0044ff,#0007ff,#0000f3,#0024ff,#0024ff,#000eff,#0026ff,#0050ff,#0065ff,#0066ff,#0065ff,#0064ff,#005fff,#0054ff,#0046ff,#0037ff,#002cff,#0025ff,#0024ff,#0026ff,#002bff,#0032ff,#0039ff,#0040ff,#0047ff,#004dff,#0052ff,#0057ff,#005bff,#005dff,#0060ff,#0061ff,#0062ff calc(100% - 3px))"></i>
<i style="left:155px;width:2px;background:linear-gradient(#0000aa 3px,#0000aa,#0000aa,#0000aa,#0000aa,#0000ab,#0000b1,#0000a9,#0000ae,#0000b3,#0000ab,#0000ac,#0000aa,#0000ac,#0000bc,#0000b5,#0000bf,#0000da,#0000d0,#0000db,#0000c1,#0000f7,#0000c7,#0000de,#0000f6,#0000d3,#0000c6,#0000e2,#0000d5,#0000f6,#0000b4,#0000e4,#0000d3,#0000fb,#0000d5,#0009ff,#0000c3,#0000fa,#0011ff,#0019ff,#0002ff,#0000f8,#0017ff,#0000f9,#0000ec,#0000d0,#0000e7,#0038ff,#0030ff,#000dff,#000aff,#001fff,#0042ff,#0062ff,#0077ff,#007fff,#007dff,#0075ff,#006dff,#0064ff,#005cff,#0053ff,#004bff,#0043ff,#003bff,#0034ff,#002cff,#0025ff,#001fff,#0019ff,#0015ff,#0011ff,#000fff,#000eff,#000dff,#000eff,#000fff,#0011ff,#0013ff,#0015ff calc(100% - 3px))"></i>
<i style="left:157px;width:2px;background:linear-gradient(#0000b2 3px,#0000b2,#0000b2,#0000ae,#0000ae,#0000a9,#0000ad,#0000a7,#0000aa,#0000af,#0000af,#0000b4,#0000a9,#0000af,#0000ba,#0000ae,#0000b7,#0000e4,#0000ba,#0000ce,#0000d4,#0000bc,#0000d2,#0000d5,#0000df,#0000e3,#0000d3,#0000eb,#0000f0,#0000df,#0000bd,#0000f7,#0000da,#000aff,#0000e5,#0000ec,#0000f0,#0007ff,#0000aa,#0000cc,#0027ff,#0000cb,#000bff,#0000f8,#0000d4,#0000e1,#0000e9,#0000ee,#0022ff,#002fff,#0010ff,#0025ff,#005bff,#0075ff,#0077ff,#0076ff,#0077ff,#0076ff,#0073ff,#0070ff,#006dff,#0069ff,#0065ff,#0060ff,#0059ff,#0050ff,#0046ff,#003bff,#0031ff,#0027ff,#001eff,#0017ff,#0012ff,#000eff,#000bff,#000aff,#000aff,#000cff,#000eff,#0010ff calc(100% - 3px))"></i>
<i style="left:159px;width:2px;background:linear-gradient(#0000b3 3px,#0000b3,#0000b3,#0000b1,#0000b6,#0000ad,#0000af,#0000ab,#0000ab,#0000af,#0000b1,#0000b5,#0000b3,#0000b2,#0000b6,#0000b8,#0000bc,#0000bf,#0000b4,#0000c5,#0000db,#0000b5,#0000e0,#0000a8,#0000cf,#0000ce,#0000d7,#0000e7,#0000de,#0000c3,#0000d4,#0000e2,#0000f2,#0000cf,#0000db,#0000e7,#0000a0,#0000f8,#0000e0,#0000d8,#0000ec,#0000a9,#0000f8,#0000fb,#0002ff,#003bff,#0037ff,#0000e6,#0000ea,#0009ff,#000dff,#0017ff,#0029ff,#003cff,#004bff,#0055ff,#005cff,#0064ff,#006fff,#0078ff,#007fff,#0082ff,#0081ff,#007eff,#0079ff,#0071ff,#0067ff,#005cff,#0051ff,#0046ff,#003dff,#0035ff,#002fff,#002aff,#0027ff,#0026ff,#0026ff,#0027ff,#0029ff,#002bff calc(100% - 3px))"></i>
<i style="left:161px;width:2px;background:linear-gradient(#0000ae 3px,#0000ae,#0000ae,#0000ad,#0000b3,#0000b8,#0000b2,#0000b5,#0000ac,#0000b8,#0000b9,#0000b6,#0000b8,#0000b5,#0000b2,#0000b2,#0000bd,#0000a8,#0000c3,#0000c1,#0000d7,#0000be,#0000e3,#0000c3,#0000c5,#0000bb,#0000dc,#0000d0,#0000e6,#0000ca,#0000dd,#0000d8,#0000e7,#0000da,#0000d7,#0000a4,#0000c8,#0000c6,#0001ff,#0000f7,#0000a4,#0000ee,#0000d3,#0000cf,#0019ff,#0013ff,#0000ea,#0000fc,#0000ef,#0000f0,#0016ff,#0038ff,#0049ff,#0050ff,#0051ff,#0051ff,#0052ff,#005aff,#0066ff,#0076ff,#0084ff,#008fff,#0095ff,#0096ff,#0092ff,#0088ff,#007bff,#006bff,#005bff,#004bff,#003eff,#0032ff,#0029ff,#0022ff,#001eff,#001dff,#001dff,#0020ff,#0023ff,#0027ff calc(100% - 3px))"></i>
<i style="left:163px;width:2px;background:linear-gradient(#0000af 3px,#0000af,#0000af,#0000ad,#0000b4,#0000b9,#0000b4,#0000bc,#0000b3,#0000ba,#0000be,#0000b9,#0000b9,#0000b5,#0000b4,#0000b3,#0000c3,#0000b6,#0000d7,#0000cc,#0000d6,#0000d4,#0000df,#0000e8,#0000c7,#0000cc,#0000d6,#0000ba,#0000ef,#0000ce,#0000f0,#0000d0,#0000e3,#0000ec,#0000eb,#0000ad,#0000fc,#0000c5,#0008ff,#0000fe,#0000be,#0013ff,#00009a,#0000da,#0022ff,#0000ce,#0000a6,#0012ff,#0000ef,#0000d1,#0019ff,#004fff,#0063ff,#0066ff,#0063ff,#005eff,#0059ff,#0055ff,#0056ff,#005fff,#006eff,#007fff,#008cff,#0093ff,#0092ff,#0089ff,#0079ff,#0065ff,#0050ff,#003dff,#002cff,#001dff,#0012ff,#000aff,#0006ff,#0005ff,#0006ff,#000aff,#0010ff,#0016ff calc(100% - 3px))"></i>
<i style="left:165px;width:2px;background:linear-gradient(#0000b3 3px,#0000b3,#0000b3,#0000b5,#0000be,#0000ac,#0000b4,#0000b8,#0000c0,#0000b1,#0000b9,#0000b8,#0000be,#0000b9,#0000c4,#0000d0,#0000d2,#0000dd,#0000f1,#0000ef,#0000f3,#0000ff,#0000f3,#0000fb,#0000ec,#0000fa,#0000dc,#0000c9,#0000dd,#0000d3,#0002ff,#0000bf,#0000f2,#0000d3,#0004ff,#0000fe,#0000f1,#0000e9,#001bff,#0000f9,#0000ec,#0000ed,#00009b,#0010ff,#001eff,#0000eb,#0000fe,#0028ff,#0000e4,#0000c2,#000cff,#002fff,#002eff,#0037ff,#0046ff,#004dff,#0048ff,#003dff,#0033ff,#0034ff,#003fff,#0050ff,#0060ff,#006bff,#006fff,#006aff,#005fff,#0051ff,#0041ff,#0033ff,#0026ff,#001cff,#0014ff,#000fff,#000dff,#000eff,#0011ff,#0016ff,#001dff,#0024ff calc(100% - 3px))"></i>
<i style="left:167px;width:2px;background:linear-gradient(#0000b0 3px,#0000b0,#0000b0,#0000b8,#0000b4,#0000af,#0000b1,#0000b3,#0000c2,#0000b3,#0000b6,#0000ab,#0000ba,#0000bd,#0000cf,#0000d0,#0000c2,#0000e5,#0000ed,#0000ee,#0000fc,#0000f7,#0000fa,#0004ff,#0000ff,#0000f9,#0000ed,#0000e1,#0000bf,#0000f0,#0000d9,#0000c3,#0000db,#0000e0,#0000fa,#0000de,#000eff,#0000d5,#0008ff,#0000f5,#0000d3,#0000e5,#0000f3,#0000e4,#0000db,#0000dd,#0000fd,#002cff,#0036ff,#0024ff,#0013ff,#001dff,#002fff,#0032ff,#002aff,#0022ff,#001bff,#0015ff,#0012ff,#0016ff,#0020ff,#002dff,#003aff,#0043ff,#0049ff,#004aff,#0047ff,#0042ff,#003bff,#0035ff,#002fff,#002bff,#0029ff,#0028ff,#0028ff,#002aff,#002eff,#0032ff,#0037ff,#003dff calc(100% - 3px))"></i>
<i style="left:169px;width:2px;background:linear-gradient(#0000b2 3px,#0000b2,#0000b2,#0000bb,#0000b5,#0000b9,#0000b1,#0000b0,#0000bb,#0000b9,#0000b4,#0000b3,#0000b2,#0000b6,#0000ba,#0000bc,#0000af,#0000c6,#0000c8,#0000c5,#0000d0,#0000ce,#0000ce,#0000d5,#0000d8,#0000c2,#0000cf,#0000d1,#0000d5,#0000e8,#0000c4,#0000ce,#0000db,#0000d7,#0000cc,#0000ea,#0018ff,#0000c8,#0000de,#0000ee,#0006ff,#0000ef,#0000f5,#0000e2,#000096,#0000d1,#001dff,#001eff,#002dff,#002cff,#0012ff,#0016ff,#002cff,#0032ff,#002cff,#0022ff,#001aff,#0015ff,#0017ff,#001eff,#002aff,#0037ff,#0042ff,#004cff,#0052ff,#0053ff,#0052ff,#004eff,#0048ff,#0043ff,#003eff,#0039ff,#0036ff,#0033ff,#0032ff,#0031ff,#0032ff,#0034ff,#0036ff,#0038ff calc(100% - 3px))"></i>
<i style="left:171px;width:2px;background:linear-gradient(#0000ba 3px,#0000ba,#0000ba,#0000ba,#0000bd,#0000ba,#0000b6,#0000b2,#0000b7,#0000b8,#0000b5,#0000c1,#0000b7,#0000b6,#0000ae,#0000b4,#0000b7,#0000c0,#0000ba,#0000bd,#0000bd,#0000c5,#0000be,#0000b8,#0000cb,#0000b6,#0000bd,#0000bf,#0000e4,#0000de,#0000d3,#0000d5,#0000e2,#0000c0,#0000a0,#0008ff,#0014ff,#0000cc,#0000b0,#0000da,#0025ff,#0000f4,#0000fa,#0015ff,#0000a8,#0000df,#0030ff,#0000fc,#0000ed,#0000f3,#0000f2,#0004ff,#0020ff,#0036ff,#003eff,#003bff,#0032ff,#002cff,#002dff,#0036ff,#0045ff,#0055ff,#0064ff,#006fff,#0075ff,#0075ff,#0071ff,#006aff,#0061ff,#0058ff,#004fff,#0046ff,#003eff,#0038ff,#0032ff,#002eff,#002aff,#0028ff,#0027ff,#0025ff calc(100% - 3px))"></i>
<i style="left:173px;width:2px;background:linear-gradient(#0000bf 3px,#0000bf,#0000bf,#0000b3,#0000b5,#0000b2,#0000ba,#0000b5,#0000ba,#0000b1,#0000b6,#0000b5,#0000be,#0000ba,#0000b9,#0000b3,#0000bb,#0000c8,#0000b8,#0000c1,#0000be,#0000c5,#0000ca,#0000b5,#0000cd,#0000cb,#0000cb,#0000c2,#0000c3,#0000e7,#0000ce,#0000d4,#0000cd,#0000c6,#0000aa,#0000e4,#0011ff,#0000bd,#00009d,#0000ca,#0000ef,#0000e9,#0030ff,#000fff,#0000de,#0000f1,#0000fe,#0000e3,#0000ec,#0000e8,#0000d3,#0000f9,#002aff,#0034ff,#0024ff,#0017ff,#0015ff,#001bff,#0025ff,#0034ff,#0047ff,#005aff,#006bff,#0077ff,#007fff,#0081ff,#0080ff,#007bff,#0074ff,#006cff,#0064ff,#005cff,#0055ff,#004dff,#0046ff,#0040ff,#003bff,#0036ff,#0032ff,#002eff calc(100% - 3px))"></i>
<i style="left:175px;width:2px;background:linear-gradient(#0000bb 3px,#0000bb,#0000bb,#0000bd,#0000b2,#0000b8,#0000b4,#0000b4,#0000bb,#0000b5,#0000b7,#0000ab,#0000b5,#0000b0,#0000b9,#0000b8,#0000be,#0000b9,#0000ba,#0000b9,#0000b8,#0000ca,#0000cb,#0000ba,#0000ab,#0000c0,#0000d0,#0000d3,#0000cb,#0000d1,#0000b5,#0000dd,#0000c7,#0000d8,#0000cf,#0000d1,#0000d5,#0000b8,#0000c7,#0000e7,#000dff,#0000c9,#0002ff,#0000ba,#0000c8,#0001ff,#000bff,#0002ff,#0000ef,#0000e6,#0000f6,#001cff,#0022ff,#0000f1,#0000b4,#0000a5,#0000bb,#0000dc,#0000fa,#0015ff,#002cff,#0041ff,#0053ff,#0061ff,#006bff,#0071ff,#0074ff,#0075ff,#0073ff,#0071ff,#006eff,#006aff,#0065ff,#0061ff,#005cff,#0057ff,#0053ff,#004fff,#004aff,#0046ff calc(100% - 3px))"></i>
<i style="left:177px;width:2px;background:linear-gradient(#0000af 3px,#0000af,#0000af,#0000bd,#0000b7,#0000c0,#0000b1,#0000ba,#0000b4,#0000b3,#0000b4,#0000af,#0000b2,#0000af,#0000ac,#0000bb,#0000b6,#0000b7,#0000ba,#0000be,#0000b9,#0000bc,#0000ba,#0000bc,#0000af,#0000bb,#0000be,#0000c6,#0000d3,#0000bf,#0000ba,#0000d1,#0000af,#0000f0,#0000e8,#0000dd,#0000b3,#0000e9,#0000f0,#0000ff,#0017ff,#0000e9,#0019ff,#0000c7,#0000b1,#0000f3,#0015ff,#0011ff,#0004ff,#0000fe,#0009ff,#001fff,#0016ff,#0000d6,#00008d,#000080,#000089,#0000a6,#0000c8,#0000e8,#0006ff,#001eff,#0033ff,#0043ff,#004fff,#0056ff,#0059ff,#0059ff,#0057ff,#0055ff,#0051ff,#004eff,#004bff,#0048ff,#0046ff,#0044ff,#0042ff,#0041ff,#0040ff,#0040ff calc(100% - 3px))"></i>
<i style="left:179px;width:2px;background:linear-gradient(#0000a8 3px,#0000a8,#0000a8,#0000b6,#0000ba,#0000bb,#0000b9,#0000c0,#0000b4,#0000b1,#0000b2,#0000b5,#0000bb,#0000b7,#0000ab,#0000ba,#0000af,#0000bc,#0000bc,#0000bc,#0000ba,#0000b1,#0000af,#0000bf,#0000c7,#0000c0,#0000b0,#0000a8,#0000c5,#0000bf,#0000ca,#0000be,#0000b6,#0000f1,#0000e6,#0000e4,#0000db,#0000eb,#0000f9,#0000fc,#0000d2,#0018ff,#0034ff,#0014ff,#0000ce,#0000d0,#0000f7,#0000f9,#000bff,#0002ff,#0000dc,#0000e8,#0001ff,#0000ea,#0000ba,#0000a0,#00009f,#0000a8,#0000b9,#0000d0,#0000ea,#0004ff,#001aff,#002aff,#0036ff,#003bff,#003bff,#0038ff,#0033ff,#002dff,#0027ff,#0023ff,#001fff,#001cff,#001bff,#001cff,#001dff,#0020ff,#0023ff,#0027ff calc(100% - 3px))"></i>
<i style="left:181px;width:2px;background:linear-gradient(#0000af 3px,#0000af,#0000af,#0000bb,#0000b7,#0000ae,#0000bf,#0000bb,#0000be,#0000bb,#0000b5,#0000b6,#0000bc,#0000b5,#0000bc,#0000bb,#0000b8,#0000b0,#0000c0,#0000a4,#0000b0,#0000c1,#0000ba,#0000c6,#0000bb,#0000be,#0000c3,#0000ae,#0000b2,#0000c2,#0000bf,#0000c5,#0000ec,#0000d0,#0000cd,#0000d8,#0000f9,#000097,#0000f5,#0000e9,#0000a6,#0014ff,#0000dd,#0015ff,#0000e6,#0000c5,#0000e9,#0000e5,#0000e5,#0000d4,#0000b6,#0000c9,#0000ed,#0000f1,#0000e7,#0000e5,#0000ea,#0000eb,#0000e9,#0000ea,#0000f2,#0000fd,#000bff,#0017ff,#0020ff,#0027ff,#002aff,#002bff,#002bff,#002bff,#002aff,#0029ff,#0028ff,#0028ff,#0029ff,#002aff,#002bff,#002dff,#002fff,#0032ff calc(100% - 3px))"></i>
<i style="left:183px;width:2px;background:linear-gradient(#0000af 3px,#0000af,#0000af,#0000b7,#0000b4,#0000b2,#0000b8,#0000b6,#0000b8,#0000be,#0000b9,#0000be,#0000b4,#0000b9,#0000c1,#0000ba,#0000c1,#0000ab,#0000b9,#0000a7,#0000bb,#0000be,#0000c2,#0000c7,#0000bf,#0000c6,#0000d0,#0000c9,#0000a0,#0000d2,#0000bc,#0000df,#0000de,#0000c1,#0000c4,#0000d4,#0000de,#0000d4,#000dff,#0000d7,#0013ff,#000fff,#0007ff,#0000fd,#0000d4,#0000e9,#000bff,#0000f1,#0000cd,#0000d3,#0000fb,#0010ff,#0014ff,#001bff,#0026ff,#002fff,#0032ff,#002dff,#0023ff,#0018ff,#000fff,#0008ff,#0006ff,#0008ff,#000eff,#0018ff,#0024ff,#0031ff,#003dff,#0048ff,#0052ff,#005aff,#0060ff,#0065ff,#0067ff,#0068ff,#0068ff,#0066ff,#0064ff,#0061ff calc(100% - 3px))"></i>
<i style="left:185px;width:2px;background:linear-gradient(#0000b9 3px,#0000b9,#0000b9,#0000b4,#0000b0,#0000b7,#0000b3,#0000b0,#0000b5,#0000b6,#0000bc,#0000c0,#0000ae,#0000bc,#0000ba,#0000b8,#0000bf,#0000b1,#0000b8,#0000b1,#0000b9,#0000b9,#0000b8,#0000c6,#0000ca,#0000cb,#0000c7,#0000cc,#0000b8,#0000d4,#0000ca,#0000de,#0000c3,#0000cb,#0000ac,#0000dc,#0000d7,#000fff,#000eff,#0000bf,#0021ff,#0000bf,#001cff,#0001ff,#0000f5,#0000ff,#0000fd,#0000fd,#0000e0,#0000e6,#0015ff,#002cff,#002fff,#003cff,#004aff,#004cff,#0046ff,#003eff,#0035ff,#002aff,#001dff,#0010ff,#0007ff,#0004ff,#0007ff,#0011ff,#001fff,#0031ff,#0042ff,#0053ff,#0062ff,#006fff,#0079ff,#0080ff,#0085ff,#0087ff,#0087ff,#0085ff,#0082ff,#007eff calc(100% - 3px))"></i>
<i style="left:187px;width:2px;background:linear-gradient(#0000c6 3px,#0000c6,#0000c6,#0000b7,#0000b2,#0000b6,#0000b8,#0000ae,#0000ba,#0000b2,#0000bc,#0000b7,#0000b0,#0000bc,#0000b5,#0000b6,#0000b5,#0000bc,#0000bd,#0000af,#0000ae,#0000c1,#0000af,#0000c0,#0000c9,#0000c1,#0000b7,#0000be,#0000d9,#0000ca,#0000c3,#0000cf,#0000c6,#0000ce,#0000aa,#0000da,#0000dc,#0005ff,#0000e1,#0000d2,#0000ca,#000082,#0000fb,#0012ff,#000dff,#0000da,#0000c8,#0015ff,#001bff,#0000f4,#0000d5,#0000e9,#0014ff,#002fff,#0037ff,#0034ff,#002eff,#0029ff,#0025ff,#0020ff,#0019ff,#0012ff,#000cff,#000aff,#000cff,#0012ff,#001bff,#0026ff,#0032ff,#003dff,#0048ff,#0052ff,#005bff,#0062ff,#0068ff,#006dff,#0070ff,#0072ff,#0073ff,#0073ff calc(100% - 3px))"></i>
<i style="left:189px;width:2px;background:linear-gradient(#0000bf 3px,#0000bf,#0000bf,#0000b9,#0000bf,#0000bb,#0000bb,#0000b3,#0000b7,#0000b8,#0000b2,#0000b3,#0000b1,#0000bb,#0000b8,#0000b6,#0000b1,#0000c1,#0000bb,#0000b2,#0000bb,#0000c7,#0000b9,#0000b4,#0000c0,#0000b3,#0000b4,#0000c6,#0000d3,#0000d2,#0000a5,#0000d9,#0000c5,#0000c2,#0000e8,#0000bb,#0000ac,#0000fd,#0000b7,#0011ff,#0000d5,#0000d0,#001dff,#0005ff,#0000b4,#000089,#0000cd,#0031ff,#004cff,#000fff,#0000a6,#00009b,#0000e1,#000dff,#001dff,#0023ff,#0025ff,#0023ff,#0020ff,#001bff,#0018ff,#0016ff,#0016ff,#0015ff,#0016ff,#0018ff,#001aff,#001eff,#0023ff,#0028ff,#002dff,#0032ff,#0037ff,#003cff,#0040ff,#0045ff,#0048ff,#004cff,#004fff,#0051ff calc(100% - 3px))"></i>
<i style="left:191px;width:2px;background:linear-gradient(#0000c6 3px,#0000c6,#0000c6,#0000b5,#0000bd,#0000b9,#0000ba,#0000b6,#0000b8,#0000b6,#0000ac,#0000bf,#0000b3,#0000b7,#0000b7,#0000ba,#0000b9,#0000b9,#0000ba,#0000be,#0000b8,#0000c3,#0000b5,#0000c5,#0000c0,#0000c0,#0000bb,#0000d6,#0000dd,#0000d1,#0000df,#0000d8,#0000c0,#0000bf,#0000f6,#000096,#0000c8,#0000de,#0000d4,#0000f6,#0008ff,#0000f4,#0000f2,#0000f2,#0000b3,#0000ac,#0000cd,#0000d3,#0011ff,#0028ff,#0000fb,#0000c6,#0000c3,#0000f7,#002cff,#0041ff,#003eff,#0034ff,#002bff,#0026ff,#0023ff,#0023ff,#0023ff,#0023ff,#0022ff,#0022ff,#0022ff,#0023ff,#0024ff,#0024ff,#0025ff,#0026ff,#0027ff,#0028ff,#0029ff,#002aff,#002aff,#002bff,#002bff,#002cff calc(100% - 3px))"></i>
<i style="left:193px;width:2px;background:linear-gradient(#0000bf 3px,#0000bf,#0000bf,#0000b4,#0000af,#0000b4,#0000b4,#0000b7,#0000b8,#0000ac,#0000ad,#0000ba,#0000b1,#0000b3,#0000b2,#0000b7,#0000b6,#0000b2,#0000b8,#0000ba,#0000ae,#0000b7,#0000ab,#0000c0,#0000b9,#0000bd,#0000ba,#0000c5,#0000cb,#0000be,#0000d8,#0000bf,#0000bc,#0000c1,#0000ce,#0000a7,#0000d1,#0000aa,#0000d4,#0000c5,#0000e8,#0000d2,#0000b9,#0000d3,#0000d5,#0000d1,#0000c0,#0000a4,#0000cf,#0000f4,#0000f1,#0000d2,#0000bc,#0000d2,#0000f2,#0000fe,#0000fb,#0000f6,#0000f4,#0000f4,#0000f4,#0000f4,#0000f3,#0000f3,#0000f2,#0000f1,#0000f0,#0000ef,#0000ee,#0000ed,#0000ec,#0000eb,#0000ea,#0000e9,#0000e8,#0000e7,#0000e6,#0000e6,#0000e5,#0000e4 calc(100% - 3px))"></i>
</div></div>
</div>
<span class="xl" style="left:321.5px;top:450.8px">0</span>
<span class="xl" style="left:386.2px;top:450.8px">50</span>
<span class="xl" style="left:450.8px;top:450.8px">100</span>
<span class="xl" style="left:515.5px;top:450.8px">150</span>
<span class="yl" style="left:316.7px;top:224.1px">2</span>
<span class="yl" style="left:316.7px;top:266.5px">1.5</span>
<span class="yl" style="left:316.7px;top:308.9px">1</span>
<span class="yl" style="left:316.7px;top:351.3px">0.5</span>
<span class="yl" style="left:316.7px;top:393.7px">0</span>
<span class="yl" style="left:316.7px;top:436.1px">-0.5</span>
<span class="ylab" style="left:273.7px;top:328.5px">log<sub>10</sub>(f)</span>
<span class="xlab" style="left:419.5px;top:470.0px">T [sec]</span>
<div class="ax" style="left:576px;top:222px;width:195px;height:213px">
<i class="tb" style="left:0.0px"></i><i class="tt" style="left:0.0px"></i>
<i class="tb" style="left:64.7px"></i><i class="tt" style="left:64.7px"></i>
<i class="tb" style="left:129.3px"></i><i class="tt" style="left:129.3px"></i>
<i class="tb" style="left:194.0px"></i><i class="tt" style="left:194.0px"></i>
<i class="tl" style="top:0.0px"></i><i class="tr" style="top:0.0px"></i>
<i class="tl" style="top:42.4px"></i><i class="tr" style="top:42.4px"></i>
<i class="tl" style="top:84.8px"></i><i class="tr" style="top:84.8px"></i>
<i class="tl" style="top:127.2px"></i><i class="tr" style="top:127.2px"></i>
<i class="tl" style="top:169.6px"></i><i class="tr" style="top:169.6px"></i>
<i class="tl" style="top:212.0px"></i><i class="tr" style="top:212.0px"></i>
<div class="sp" style="left:1px;top:0;width:194px;height:196px">
<div class="spi">
<i style="left:0px;width:5px;background:linear-gradient(#0000c6 3px,#0000c6,#0000c6,#0000c6,#0000c6,#0000c6,#0000c6,#0000c6,#0000c7,#0000c7,#0000c7,#0000c7,#0000c9,#0000ca,#0000cd,#0000d1,#0000d8,#0000ed,#0034ff,#009aff,#0095ff,#00a6ff,#00e4ff,#00e7ff,#00f7ff,#00ffff,#00f9ff,#0bfff4,#09fff6,#00aaff,#00a8ff,#00b8ff,#00b9ff,#00d3ff,#00e6ff,#19ffe6,#2dffd2,#00f2ff,#00bfff,#00c6ff,#00f4ff,#32ffcd,#18ffe7,#16ffe9,#42ffbd,#33ffcc,#09fff6,#00bbff,#00d2ff,#1cffe3,#00efff,#00c3ff,#00dbff,#00f6ff,#00dfff,#00d6ff,#00daff,#00cbff,#00c2ff,#00c4ff,#00c7ff,#00ccff,#00d2ff,#00d8ff,#00ddff,#00e1ff,#00e3ff,#00e3ff,#00e3ff,#00e2ff,#00e0ff,#00deff,#00dbff,#00d8ff,#00d5ff,#00d2ff,#00ceff,#00cbff,#00c8ff,#00c4ff calc(100% - 3px))"></i>
<i style="left:5px;width:2px;background:linear-gradient(#0000c6 3px,#0000c6,#0000c6,#0000c6,#0000c6,#0000c6,#0000c6,#0000c6,#0000c7,#0000c7,#0000c7,#0000c8,#0000c8,#0000ca,#0000cd,#0000d2,#0000da,#0000ed,#0026ff,#008eff,#008dff,#00abff,#00eeff,#01fffe,#00fcff,#03fffc,#13ffec,#10ffef,#00eeff,#00c3ff,#00b7ff,#00caff,#00deff,#00d9ff,#00d7ff,#0efff1,#32ffcd,#02fffd,#00e6ff,#00f6ff,#00deff,#00cfff,#00dbff,#13ffec,#56ffa9,#4bffb4,#11ffee,#06fff9,#26ffd9,#2cffd3,#00f9ff,#00d6ff,#00dcff,#00f0ff,#00e7ff,#00d8ff,#00cdff,#00baff,#00acff,#00acff,#00b6ff,#00c3ff,#00d1ff,#00deff,#00e9ff,#00efff,#00f2ff,#00f1ff,#00efff,#00ebff,#00e7ff,#00e2ff,#00ddff,#00d7ff,#00d2ff,#00cdff,#00c8ff,#00c4ff,#00c0ff,#00bcff calc(100% - 3px))"></i>
<i style="left:7px;width:2px;background:linear-gradient(#0000c6 3px,#0000c6,#0000c6,#0000c6,#0000c6,#0000c6,#0000c6,#0000c6,#0000c7,#0000c7,#0000c7,#0000c8,#0000c8,#0000ca,#0000cd,#0000d1,#0000db,#0000ed,#0030ff,#007bff,#009bff,#00bfff,#00e2ff,#0afff5,#11ffee,#11ffee,#00f7ff,#00d1ff,#00e3ff,#00fbff,#00d3ff,#00f2ff,#05fffa,#00c6ff,#00d3ff,#00feff,#22ffdd,#00fbff,#00efff,#03fffc,#00cbff,#00b0ff,#00c6ff,#0afff5,#61ff9e,#64ff9b,#24ffdb,#39ffc6,#53ffac,#2cffd3,#00ffff,#00f0ff,#00e5ff,#00ddff,#00d1ff,#00c1ff,#00b2ff,#00a3ff,#0098ff,#0099ff,#009fff,#00a8ff,#00b1ff,#00baff,#00c0ff,#00c4ff,#00c4ff,#00c4ff,#00c2ff,#00bfff,#00bcff,#00b9ff,#00b7ff,#00b5ff,#00b4ff,#00b3ff,#00b3ff,#00b3ff,#00b4ff,#00b4ff calc(100% - 3px))"></i>
<i style="left:9px;width:2px;background:linear-gradient(#0000c6 3px,#0000c6,#0000c6,#0000c6,#0000c6,#0000c6,#0000c6,#0000c6,#0000c7,#0000c7,#0000c7,#0000c7,#0000c8,#0000ca,#0000cd,#0000d0,#0000d9,#0000ed,#0043ff,#006cff,#00a6ff,#00d1ff,#00d1ff,#00ffff,#16ffe9,#20ffdf,#00ecff,#00b3ff,#00e8ff,#15ffea,#00f0ff,#06fff9,#00fcff,#00bfff,#00e7ff,#00faff,#13ffec,#00eeff,#00d9ff,#00f5ff,#00e9ff,#00eeff,#00e9ff,#18ffe7,#79ff86,#79ff86,#35ffca,#26ffd9,#28ffd7,#09fff6,#00fcff,#0cfff3,#00f9ff,#00d3ff,#00b2ff,#00a2ff,#0097ff,#008bff,#0088ff,#0088ff,#0088ff,#0088ff,#0088ff,#0087ff,#0086ff,#0084ff,#0082ff,#0080ff,#007eff,#007eff,#007eff,#007eff,#0081ff,#0084ff,#0088ff,#008eff,#0095ff,#009cff,#00a3ff,#00abff calc(100% - 3px))"></i>
<i style="left:11px;width:2px;background:linear-gradient(#0000c6 3px,#0000c6,#0000c6,#0000c6,#0000c6,#0000c6,#0000c6,#0000c6,#0000c7,#0000c7,#0000c7,#0000c8,#0000c8,#0000ca,#0000cc,#0000d0,#0000d6,#0000ea,#0047ff,#006eff,#0091ff,#00c6ff,#00d6ff,#00f5ff,#00ffff,#0dfff2,#08fff7,#00f4ff,#00faff,#00f3ff,#00f0ff,#00e2ff,#00d1ff,#00e8ff,#06fff9,#02fffd,#1fffe0,#01fffe,#00d1ff,#00ebff,#1cffe3,#2bffd4,#00ffff,#25ffda,#84ff7b,#74ff8b,#3bffc4,#00ffff,#00e2ff,#00e4ff,#00ffff,#22ffdd,#1dffe2,#00f7ff,#00d2ff,#00c6ff,#00bfff,#00b0ff,#00acff,#00afff,#00b2ff,#00b6ff,#00bcff,#00bfff,#00c0ff,#00beff,#00baff,#00b5ff,#00b0ff,#00abff,#00a7ff,#00a4ff,#00a2ff,#00a2ff,#00a3ff,#00a5ff,#00a8ff,#00adff,#00b2ff,#00b7ff calc(100% - 3px))"></i>
<i style="left:13px;width:2px;background:linear-gradient(#0000c6 3px,#0000c6,#0000c6,#0000c6,#0000c6,#0000c6,#0000c6,#0000c6,#0000c7,#0000c7,#0000c7,#0000c8,#0000c8,#0000c9,#0000cb,#0000cf,#0000d6,#0000eb,#003fff,#0083ff,#008aff,#00b9ff,#00f1ff,#03fffc,#01fffe,#00e4ff,#00ecff,#1affe5,#1bffe4,#00f6ff,#00cdff,#00bfff,#00edff,#25ffda,#18ffe7,#1bffe4,#36ffc9,#26ffd9,#00eeff,#00d9ff,#01fffe,#24ffdb,#00e9ff,#00ecff,#3affc5,#4affb5,#48ffb7,#10ffef,#00cdff,#00d5ff,#0afff5,#1cffe3,#24ffdb,#03fffc,#00e6ff,#00e6ff,#00e4ff,#00d9ff,#00d3ff,#00d6ff,#00dbff,#00e3ff,#00ecff,#00f3ff,#00f6ff,#00f5ff,#00f2ff,#00ecff,#00e6ff,#00e0ff,#00daff,#00d4ff,#00d0ff,#00ccff,#00caff,#00c9ff,#00c9ff,#00c9ff,#00caff,#00cbff calc(100% - 3px))"></i>
<i style="left:15px;width:2px;background:linear-gradient(#0000c6 3px,#0000c6,#0000c6,#0000c6,#0000c6,#0000c6,#0000c6,#0000c6,#0000c7,#0000c7,#0000c7,#0000c8,#0000c8,#0000ca,#0000cb,#0000cf,#0000d8,#0000f0,#0034ff,#008fff,#00a2ff,#00b4ff,#00f0ff,#09fff6,#0afff5,#00ccff,#00b9ff,#00fbff,#19ffe6,#00edff,#00b1ff,#00cdff,#1dffe2,#1fffe0,#00f5ff,#25ffda,#4cffb3,#46ffb9,#18ffe7,#00deff,#00e4ff,#09fff6,#00e1ff,#00c4ff,#00e3ff,#23ffdc,#5dffa2,#22ffdd,#00d8ff,#00eeff,#18ffe7,#14ffeb,#13ffec,#00f0ff,#00d7ff,#00dcff,#00eaff,#00f7ff,#00feff,#01fffe,#00fdff,#00f7ff,#00f3ff,#00efff,#00eaff,#00e8ff,#00e7ff,#00e7ff,#00e7ff,#00e8ff,#00eaff,#00ebff,#00edff,#00eeff,#00efff,#00f0ff,#00f1ff,#00f1ff,#00f2ff,#00f2ff calc(100% - 3px))"></i>
<i style="left:17px;width:2px;background:linear-gradient(#0000c6 3px,#0000c6,#0000c6,#0000c6,#0000c6,#0000c6,#0000c6,#0000c6,#0000c7,#0000c7,#0000c7,#0000c8,#0000c9,#0000ca,#0000cc,#0000d1,#0000da,#0000f4,#002fff,#008aff,#00a6ff,#00a5ff,#00cfff,#00f5ff,#00f5ff,#00dbff,#00c1ff,#00ceff,#00ebff,#00c6ff,#00caff,#05fffa,#11ffee,#00cdff,#00bcff,#18ffe7,#5bffa4,#50ffaf,#36ffc9,#22ffdd,#23ffdc,#21ffde,#1dffe2,#02fffd,#00e7ff,#29ffd6,#70ff8f,#0afff5,#00e0ff,#19ffe6,#21ffde,#21ffde,#17ffe8,#07fff8,#00edff,#00e3ff,#00f6ff,#14ffeb,#25ffda,#25ffda,#19ffe6,#08fff7,#00f6ff,#00e8ff,#00deff,#00d9ff,#00dbff,#00e0ff,#00e7ff,#00efff,#00f7ff,#00ffff,#06fff9,#0cfff3,#10ffef,#13ffec,#15ffea,#16ffe9,#17ffe8,#16ffe9 calc(100% - 3px))"></i>
<i style="left:19px;width:2px;background:linear-gradient(#0000c6 3px,#0000c6,#0000c6,#0000c6,#0000c6,#0000c6,#0000c6,#0000c7,#0000c7,#0000c7,#0000c7,#0000c8,#0000c9,#0000ca,#0000cc,#0000d1,#0000d9,#0000f6,#002fff,#0087ff,#009dff,#00a5ff,#00eeff,#00f9ff,#00cdff,#00f5ff,#13ffec,#00ebff,#00efff,#11ffee,#0efff1,#15ffea,#00f8ff,#00c5ff,#00f0ff,#20ffdf,#57ffa8,#4dffb2,#5fffa0,#8aff75,#72ff8d,#5bffa4,#5effa1,#4bffb4,#2fffd0,#50ffaf,#74ff8b,#12ffed,#00e8ff,#14ffeb,#26ffd9,#39ffc6,#32ffcd,#36ffc9,#2effd1,#18ffe7,#18ffe7,#29ffd6,#30ffcf,#29ffd6,#1cffe3,#0ffff0,#03fffc,#00f9ff,#00f3ff,#00f1ff,#00f3ff,#00f8ff,#00feff,#05fffa,#0cfff3,#12ffed,#17ffe8,#1bffe4,#1effe1,#20ffdf,#21ffde,#22ffdd,#22ffdd,#21ffde calc(100% - 3px))"></i>
<i style="left:21px;width:2px;background:linear-gradient(#0000c7 3px,#0000c7,#0000c7,#0000c7,#0000c7,#0000c7,#0000c7,#0000c7,#0000c7,#0000c8,#0000c8,#0000c9,#0000ca,#0000cb,#0000cc,#0000d1,#0000da,#0000f7,#0036ff,#0083ff,#0094ff,#00c2ff,#07fff8,#00f4ff,#00c1ff,#0bfff4,#44ffbb,#0ffff0,#04fffb,#41ffbe,#12ffed,#00f3ff,#00fbff,#00f3ff,#0dfff2,#1cffe3,#4cffb3,#51ffae,#7fff80,#b5ff4a,#6dff92,#3cffc3,#36ffc9,#39ffc6,#42ffbd,#5dffa2,#7bff84,#36ffc9,#04fffb,#0efff1,#29ffd6,#4affb5,#3cffc3,#43ffbc,#57ffa8,#4cffb3,#38ffc7,#32ffcd,#2dffd2,#26ffd9,#23ffdc,#24ffdb,#27ffd8,#2affd5,#2cffd3,#2effd1,#2fffd0,#2fffd0,#2fffd0,#2fffd0,#2effd1,#2dffd2,#2dffd2,#2cffd3,#2bffd4,#2bffd4,#2affd5,#29ffd6,#29ffd6,#28ffd7 calc(100% - 3px))"></i>
<i style="left:23px;width:2px;background:linear-gradient(#0000ca 3px,#0000ca,#0000ca,#0000ca,#0000ca,#0000ca,#0000ca,#0000ca,#0000cb,#0000cb,#0000cb,#0000cb,#0000cd,#0000ce,#0000d0,#0000d5,#0000de,#0000f7,#0040ff,#0075ff,#0087ff,#00e0ff,#00d9ff,#00d6ff,#00e9ff,#19ffe6,#1fffe0,#00faff,#00f3ff,#00e7ff,#00c8ff,#00e4ff,#2bffd4,#0ffff0,#00baff,#06fff9,#52ffad,#57ffa8,#75ff8a,#8cff73,#3affc5,#00e3ff,#00ddff,#00fbff,#1affe5,#4bffb4,#8aff75,#42ffbd,#1fffe0,#27ffd8,#2fffd0,#4fffb0,#3affc5,#39ffc6,#58ffa7,#5dffa2,#48ffb7,#34ffcb,#2effd1,#32ffcd,#3dffc2,#4bffb4,#58ffa7,#65ff9a,#6dff92,#71ff8e,#6fff90,#6aff95,#64ff9b,#5dffa2,#56ffa9,#4fffb0,#49ffb6,#44ffbb,#40ffbf,#3dffc2,#3bffc4,#3affc5,#39ffc6,#39ffc6 calc(100% - 3px))"></i>
<i style="left:25px;width:2px;background:linear-gradient(#0000d7 3px,#0000d7,#0000d7,#0000d7,#0000d7,#0000d7,#0000d7,#0000d7,#0000d8,#0000d8,#0000d8,#0000d9,#0000da,#0000db,#0000dd,#0000e2,#0000e9,#0000ff,#003fff,#005fff,#007dff,#00e4ff,#00e1ff,#00e4ff,#00f5ff,#00f6ff,#00f9ff,#02fffd,#00ebff,#00bbff,#00a4ff,#05fffa,#6cff93,#3dffc2,#00efff,#20ffdf,#47ffb8,#48ffb7,#59ffa6,#63ff9c,#48ffb7,#06fff9,#00f6ff,#17ffe8,#3bffc4,#56ffa9,#6fff90,#3fffc0,#18ffe7,#1bffe4,#3affc5,#58ffa7,#55ffaa,#4effb1,#4fffb0,#57ffa8,#57ffa8,#45ffba,#46ffb9,#53ffac,#60ff9f,#6dff92,#78ff87,#81ff7e,#86ff79,#87ff78,#84ff7b,#7fff80,#79ff86,#72ff8d,#6bff94,#64ff9b,#5fffa0,#5affa5,#56ffa9,#53ffac,#51ffae,#50ffaf,#4fffb0,#4fffb0 calc(100% - 3px))"></i>
<i style="left:27px;width:2px;background:linear-gradient(#0005ff 3px,#0005ff,#0006ff,#0007ff,#0007ff,#0008ff,#0009ff,#000aff,#000aff,#000bff,#000cff,#000dff,#000eff,#0010ff,#0012ff,#0016ff,#001bff,#002bff,#0048ff,#0048ff,#0078ff,#00caff,#00faff,#05fffa,#00e3ff,#00d9ff,#00ffff,#0efff1,#00ecff,#00e9ff,#00daff,#35ffca,#84ff7b,#5cffa3,#4dffb2,#51ffae,#52ffad,#3cffc3,#3cffc3,#56ffa9,#6bff94,#5effa1,#52ffad,#63ff9c,#7eff81,#79ff86,#56ffa9,#31ffce,#04fffb,#05fffa,#37ffc8,#5dffa2,#81ff7e,#7aff85,#52ffad,#55ffaa,#68ff97,#66ff99,#6fff90,#7aff85,#7fff80,#80ff7f,#7fff80,#7dff82,#7bff84,#78ff87,#76ff89,#74ff8b,#72ff8d,#70ff8f,#6fff90,#6dff92,#6cff93,#6bff94,#6aff95,#69ff96,#68ff97,#67ff98,#66ff99,#66ff99 calc(100% - 3px))"></i>
<i style="left:29px;width:2px;background:linear-gradient(#0036ff 3px,#0039ff,#003dff,#0041ff,#0044ff,#0048ff,#004cff,#004fff,#0053ff,#0057ff,#005bff,#005eff,#0063ff,#0067ff,#006bff,#0071ff,#0077ff,#0080ff,#006eff,#0035ff,#0084ff,#00bcff,#00e6ff,#00feff,#00dbff,#00efff,#17ffe8,#03fffc,#00f1ff,#1fffe0,#2affd5,#3fffc0,#5affa5,#46ffb9,#2fffd0,#5bffa4,#81ff7e,#56ffa9,#36ffc9,#4bffb4,#4dffb2,#58ffa7,#6cff93,#7fff80,#8eff71,#93ff6c,#6cff93,#26ffd9,#0cfff3,#1affe5,#2bffd4,#5cffa3,#97ff68,#91ff6e,#6dff92,#6eff91,#7fff80,#8aff75,#90ff6f,#90ff6f,#8dff72,#87ff78,#80ff7f,#7aff85,#75ff8a,#71ff8e,#70ff8f,#71ff8e,#72ff8d,#74ff8b,#76ff89,#78ff87,#79ff86,#7bff84,#7cff83,#7cff83,#7dff82,#7dff82,#7dff82,#7cff83 calc(100% - 3px))"></i>
<i style="left:31px;width:2px;background:linear-gradient(#0046ff 3px,#004aff,#004fff,#0053ff,#0057ff,#005bff,#0060ff,#0064ff,#0068ff,#006dff,#0071ff,#0075ff,#007aff,#007fff,#0084ff,#008aff,#0091ff,#009dff,#007fff,#0037ff,#009bff,#00c9ff,#00e1ff,#00dcff,#00eaff,#01fffe,#0cfff3,#14ffeb,#19ffe6,#07fff8,#24ffdb,#2affd5,#35ffca,#3affc5,#0efff1,#40ffbf,#7bff84,#77ff88,#4effb1,#29ffd6,#1bffe4,#29ffd6,#55ffaa,#7cff83,#8eff71,#9cff63,#77ff88,#39ffc6,#34ffcb,#49ffb6,#54ffab,#80ff7f,#9aff65,#93ff6c,#8eff71,#91ff6e,#98ff67,#a8ff57,#a9ff56,#a4ff5b,#9fff60,#9bff64,#96ff69,#92ff6d,#8eff71,#8bff74,#8aff75,#89ff76,#89ff76,#89ff76,#8aff75,#8aff75,#8bff74,#8cff73,#8eff71,#8fff70,#90ff6f,#91ff6e,#91ff6e,#92ff6d calc(100% - 3px))"></i>
<i style="left:33px;width:2px;background:linear-gradient(#0049ff 3px,#004dff,#0051ff,#0056ff,#005aff,#005eff,#0063ff,#0067ff,#006bff,#0070ff,#0074ff,#0079ff,#007dff,#0082ff,#0087ff,#008eff,#0095ff,#00a3ff,#0087ff,#005cff,#009dff,#00bfff,#00eaff,#00c8ff,#00fbff,#03fffc,#00eeff,#18ffe7,#33ffcc,#00efff,#06fff9,#20ffdf,#31ffce,#3cffc3,#1cffe3,#3effc1,#65ff9a,#5dffa2,#4effb1,#48ffb7,#35ffca,#3bffc4,#5bffa4,#75ff8a,#79ff86,#7bff84,#78ff87,#73ff8c,#6fff90,#84ff7b,#a0ff5f,#aaff55,#a2ff5d,#98ff67,#9eff61,#a7ff58,#afff50,#bcff43,#c2ff3d,#c7ff38,#cbff34,#ceff31,#cfff30,#ceff31,#ccff33,#c7ff38,#c2ff3d,#bdff42,#b7ff48,#b3ff4c,#aeff51,#abff54,#a9ff56,#a7ff58,#a7ff58,#a7ff58,#a8ff57,#a9ff56,#abff54,#adff52 calc(100% - 3px))"></i>
<i style="left:35px;width:2px;background:linear-gradient(#002cff 3px,#002fff,#0032ff,#0035ff,#0039ff,#003cff,#003fff,#0042ff,#0045ff,#0048ff,#004bff,#004eff,#0052ff,#0057ff,#005bff,#0060ff,#0069ff,#0077ff,#0086ff,#008bff,#0091ff,#00b3ff,#00eeff,#00e9ff,#04fffb,#00fbff,#00e3ff,#00f6ff,#24ffdb,#27ffd8,#1cffe3,#27ffd8,#38ffc7,#34ffcb,#42ffbd,#69ff96,#72ff8d,#22ffdd,#3affc5,#b8ff47,#95ff6a,#81ff7e,#88ff77,#7aff85,#5affa5,#4fffb0,#8eff71,#b3ff4c,#aaff55,#c0ff3f,#d5ff2a,#b7ff48,#b7ff48,#b4ff4b,#bcff43,#d0ff2f,#daff25,#dbff24,#e1ff1e,#efff10,#faff05,#fffd00,#fff700,#fff500,#fff500,#fff800,#fffd00,#fbff04,#f5ff0a,#efff10,#e9ff16,#e5ff1a,#e1ff1e,#dfff20,#ddff22,#dcff23,#dcff23,#dcff23,#ddff22,#dfff20 calc(100% - 3px))"></i>
<i style="left:37px;width:2px;background:linear-gradient(#0028ff 3px,#002bff,#002dff,#0030ff,#0033ff,#0036ff,#0038ff,#003bff,#003eff,#0041ff,#0043ff,#0046ff,#004aff,#004eff,#0053ff,#0058ff,#005fff,#006aff,#0093ff,#00aaff,#0098ff,#00d4ff,#0dfff2,#39ffc6,#23ffdc,#00e7ff,#00eaff,#12ffed,#2effd1,#7cff83,#49ffb6,#39ffc6,#4effb1,#46ffb9,#74ff8b,#99ff66,#7eff81,#39ffc6,#5fffa0,#d2ff2d,#c4ff3b,#88ff77,#9aff65,#abff54,#8eff71,#8dff72,#b8ff47,#b1ff4e,#c8ff37,#eeff11,#e2ff1d,#d7ff28,#e2ff1d,#e9ff16,#fcff03,#ffec00,#ffe900,#fff200,#fff400,#fff000,#ffeb00,#ffe600,#ffe100,#ffde00,#ffda00,#ffd700,#ffd500,#ffd300,#ffd200,#ffd100,#ffd000,#ffd000,#ffd100,#ffd100,#ffd200,#ffd300,#ffd400,#ffd600,#ffd700,#ffd800 calc(100% - 3px))"></i>
<i style="left:39px;width:2px;background:linear-gradient(#0086ff 3px,#008aff,#008fff,#0094ff,#0098ff,#009dff,#00a2ff,#00a6ff,#00abff,#00b0ff,#00b5ff,#00b9ff,#00beff,#00c4ff,#00caff,#00cfff,#00d2ff,#00cdff,#00beff,#00afff,#00a1ff,#00e6ff,#2fffd0,#4bffb4,#3fffc0,#00f1ff,#02fffd,#3dffc2,#2bffd4,#88ff77,#5affa5,#3fffc0,#52ffad,#56ffa9,#89ff76,#9aff65,#83ff7c,#96ff69,#b4ff4b,#bfff40,#b8ff47,#80ff7f,#bcff43,#f6ff09,#e8ff17,#f7ff08,#f0ff0f,#b6ff49,#d4ff2b,#f9ff06,#efff10,#ffef00,#ffdf00,#ffde00,#ffc600,#ffba00,#ffc500,#ffcc00,#ffd400,#ffdd00,#ffe300,#ffe400,#ffe300,#ffe000,#ffdb00,#ffd500,#ffcd00,#ffc500,#ffbd00,#ffb700,#ffb100,#ffac00,#ffa900,#ffa700,#ffa600,#ffa600,#ffa700,#ffa800,#ffaa00,#ffad00 calc(100% - 3px))"></i>
<i style="left:41px;width:2px;background:linear-gradient(#00aaff 3px,#00aeff,#00b3ff,#00b8ff,#00bcff,#00c1ff,#00c6ff,#00cbff,#00cfff,#00d4ff,#00d9ff,#00deff,#00e3ff,#00e8ff,#00edff,#00f2ff,#00f6ff,#00eaff,#00bbff,#00a0ff,#0097ff,#00c9ff,#33ffcc,#0efff1,#43ffbc,#29ffd6,#23ffdc,#3effc1,#04fffb,#3dffc2,#4cffb3,#46ffb9,#43ffbc,#55ffaa,#84ff7b,#7fff80,#94ff6b,#dcff23,#f5ff0a,#e3ff1c,#c4ff3b,#d0ff2f,#ffe000,#ffd300,#feff01,#ffe900,#ffdc00,#fff700,#f3ff0c,#ffff00,#ffe500,#ffc900,#ffac00,#ffb500,#ffaa00,#ffa700,#ffb700,#ffba00,#ffc100,#ffcd00,#ffd800,#ffdf00,#ffe200,#ffe300,#ffe100,#ffdd00,#ffd600,#ffce00,#ffc700,#ffbf00,#ffb800,#ffb200,#ffae00,#ffaa00,#ffa700,#ffa600,#ffa500,#ffa500,#ffa600,#ffa700 calc(100% - 3px))"></i>
<i style="left:43px;width:2px;background:linear-gradient(#00aaff 3px,#00aeff,#00b3ff,#00b8ff,#00bcff,#00c1ff,#00c6ff,#00cbff,#00cfff,#00d4ff,#00d9ff,#00deff,#00e3ff,#00e8ff,#00edff,#00f1ff,#00f5ff,#00ecff,#00b4ff,#00b0ff,#00a1ff,#00c2ff,#36ffc9,#3bffc4,#5effa1,#50ffaf,#4affb5,#54ffab,#23ffdc,#1cffe3,#58ffa7,#76ff89,#5cffa3,#69ff96,#a6ff59,#97ff68,#a7ff58,#fbff04,#ffdd00,#fff600,#efff10,#ffd700,#ff9a00,#ffbc00,#f7ff08,#fff400,#ffc500,#ffc300,#ffd900,#ffd200,#ffc500,#ffbc00,#ffa100,#ff9b00,#ff9b00,#ff9d00,#ffa100,#ff9d00,#ff9a00,#ffa000,#ffab00,#ffb500,#ffbd00,#ffc400,#ffc800,#ffc800,#ffc500,#ffc000,#ffba00,#ffb400,#ffaf00,#ffa900,#ffa400,#ffa000,#ff9d00,#ff9b00,#ff9900,#ff9800,#ff9800,#ff9800 calc(100% - 3px))"></i>
<i style="left:45px;width:2px;background:linear-gradient(#00aaff 3px,#00aeff,#00b3ff,#00b8ff,#00bcff,#00c1ff,#00c6ff,#00cbff,#00cfff,#00d4ff,#00d9ff,#00deff,#00e3ff,#00e8ff,#00edff,#00f1ff,#00f5ff,#00f0ff,#00b5ff,#00d1ff,#00c6ff,#00e2ff,#41ffbe,#75ff8a,#65ff9a,#64ff9b,#74ff8b,#78ff87,#69ff96,#45ffba,#7dff82,#9eff61,#83ff7c,#95ff6a,#d7ff28,#d7ff28,#caff35,#e9ff16,#ffef00,#ffeb00,#fffc00,#ffd100,#ffb700,#ffd500,#fdff02,#fff100,#ffc000,#ffc300,#ffc300,#ffb000,#ffbb00,#ffbd00,#ffaa00,#ff9400,#ff9500,#ff9400,#ff8500,#ff7800,#ff6d00,#ff6d00,#ff7400,#ff7d00,#ff8800,#ff9100,#ff9800,#ff9a00,#ff9900,#ff9600,#ff9200,#ff8d00,#ff8800,#ff8300,#ff7f00,#ff7b00,#ff7900,#ff7600,#ff7500,#ff7500,#ff7500,#ff7500 calc(100% - 3px))"></i>
<i style="left:47px;width:2px;background:linear-gradient(#00aaff 3px,#00aeff,#00b3ff,#00b8ff,#00bcff,#00c1ff,#00c6ff,#00cbff,#00cfff,#00d4ff,#00d9ff,#00deff,#00e3ff,#00e8ff,#00edff,#00f2ff,#00f8ff,#00f5ff,#00adff,#00c8ff,#00e7ff,#04fffb,#35ffca,#38ffc7,#2bffd4,#5bffa4,#77ff88,#6cff93,#76ff89,#6eff91,#82ff7d,#7fff80,#81ff7e,#abff54,#d2ff2d,#fcff03,#fcff03,#bbff44,#c2ff3d,#ffed00,#ecff13,#e4ff1b,#e3ff1c,#efff10,#ffe800,#ffd000,#ffbb00,#ffd500,#ffd700,#ffb700,#ffb400,#ffb900,#ffab00,#ff9b00,#ffa000,#ff9900,#ff8500,#ff7900,#ff7100,#ff7100,#ff7300,#ff7600,#ff7a00,#ff7f00,#ff8100,#ff8100,#ff7e00,#ff7900,#ff7400,#ff6f00,#ff6a00,#ff6500,#ff6100,#ff5e00,#ff5b00,#ff5a00,#ff5900,#ff5900,#ff5a00,#ff5b00 calc(100% - 3px))"></i>
<i style="left:49px;width:2px;background:linear-gradient(#0095ff 3px,#0099ff,#009eff,#00a3ff,#00a7ff,#00acff,#00b1ff,#00b6ff,#00baff,#00bfff,#00c4ff,#00c9ff,#00ceff,#00d3ff,#00d8ff,#00deff,#00e4ff,#00e2ff,#00a2ff,#00a0ff,#00e4ff,#09fff6,#19ffe6,#2affd5,#25ffda,#33ffcc,#43ffbc,#4effb1,#60ff9f,#5cffa3,#59ffa6,#51ffae,#6aff95,#85ff7a,#84ff7b,#d0ff2f,#fffb00,#c5ff3a,#beff41,#fff700,#d7ff28,#9fff60,#a9ff56,#e8ff17,#ffcd00,#ffb500,#ffc100,#fff800,#fffc00,#ffcc00,#ffb200,#ffb300,#ffb400,#ffb000,#ffb100,#ffad00,#ffa300,#ff9c00,#ff9a00,#ff9900,#ff9700,#ff9300,#ff9100,#ff8e00,#ff8b00,#ff8700,#ff8100,#ff7c00,#ff7600,#ff7000,#ff6b00,#ff6700,#ff6400,#ff6100,#ff5e00,#ff5d00,#ff5d00,#ff5d00,#ff5d00,#ff5f00 calc(100% - 3px))"></i>
<i style="left:51px;width:2px;background:linear-gradient(#002fff 3px,#0032ff,#0035ff,#0038ff,#003bff,#003eff,#0041ff,#0044ff,#0048ff,#004bff,#004eff,#0051ff,#0055ff,#0059ff,#005eff,#0064ff,#006cff,#0077ff,#007dff,#0083ff,#00bdff,#00e7ff,#08fff7,#55ffaa,#4dffb2,#27ffd8,#17ffe8,#27ffd8,#4dffb2,#48ffb7,#41ffbe,#4effb1,#67ff98,#4dffb2,#31ffce,#85ff7a,#d4ff2b,#d1ff2e,#c9ff36,#deff21,#e7ff18,#c8ff37,#d9ff26,#fffd00,#ffe700,#ffd100,#ffe100,#dfff20,#dcff23,#ffdb00,#ffad00,#ffb500,#ffd100,#ffd100,#ffc400,#ffc200,#ffbf00,#ffb700,#ffb000,#ffab00,#ffa500,#ffa100,#ff9f00,#ff9d00,#ff9a00,#ff9700,#ff9400,#ff9000,#ff8c00,#ff8900,#ff8600,#ff8300,#ff8100,#ff7f00,#ff7e00,#ff7d00,#ff7c00,#ff7c00,#ff7d00,#ff7e00 calc(100% - 3px))"></i>
<i style="left:53px;width:2px;background:linear-gradient(#0021ff 3px,#0023ff,#0025ff,#0027ff,#002aff,#002cff,#002eff,#0030ff,#0032ff,#0034ff,#0036ff,#0039ff,#003cff,#003fff,#0042ff,#0046ff,#004eff,#005fff,#0086ff,#0083ff,#009dff,#00cbff,#0bfff4,#5bffa4,#46ffb9,#36ffc9,#18ffe7,#00f8ff,#32ffcd,#49ffb6,#40ffbf,#5fffa0,#6eff91,#30ffcf,#2affd5,#72ff8d,#9cff63,#95ff6a,#91ff6e,#adff52,#fdff02,#ffe900,#ffed00,#fdff02,#e8ff17,#fffd00,#fffc00,#d6ff29,#d1ff2e,#ffe100,#ffa500,#ffb900,#ffe900,#ffe700,#ffcc00,#ffc100,#ffbb00,#ffb300,#ffa600,#ff9c00,#ff9900,#ff9900,#ff9b00,#ff9d00,#ff9e00,#ff9e00,#ff9e00,#ff9d00,#ff9b00,#ff9a00,#ff9800,#ff9700,#ff9600,#ff9500,#ff9400,#ff9400,#ff9400,#ff9400,#ff9400,#ff9400 calc(100% - 3px))"></i>
<i style="left:55px;width:2px;background:linear-gradient(#0028ff 3px,#002aff,#002dff,#0030ff,#0033ff,#0035ff,#0038ff,#003bff,#003eff,#0041ff,#0043ff,#0047ff,#004aff,#004eff,#0053ff,#0058ff,#005fff,#006fff,#00a6ff,#0096ff,#009eff,#00e4ff,#34ffcb,#56ffa9,#1bffe4,#1bffe4,#1fffe0,#00f8ff,#12ffed,#4affb5,#35ffca,#62ff9d,#75ff8a,#33ffcc,#55ffaa,#7cff83,#80ff7f,#5dffa2,#66ff99,#a7ff58,#eaff15,#fff900,#fdff02,#f6ff09,#fffb00,#ffe300,#ffd700,#ebff14,#e5ff1a,#ffd700,#ffad00,#ffb400,#ffdb00,#ffde00,#ffbc00,#ffa500,#ff9c00,#ff9200,#ff8500,#ff8000,#ff8300,#ff8a00,#ff8f00,#ff9400,#ff9800,#ff9a00,#ff9b00,#ff9a00,#ff9900,#ff9800,#ff9600,#ff9400,#ff9200,#ff9100,#ff9000,#ff8f00,#ff8f00,#ff8e00,#ff8e00,#ff8e00 calc(100% - 3px))"></i>
<i style="left:57px;width:2px;background:linear-gradient(#0028ff 3px,#002aff,#002dff,#0030ff,#0033ff,#0036ff,#0038ff,#003bff,#003eff,#0041ff,#0044ff,#0047ff,#004aff,#004fff,#0054ff,#0059ff,#0062ff,#006dff,#00a9ff,#0093ff,#00a4ff,#03fffc,#4dffb2,#5dffa2,#27ffd8,#16ffe9,#31ffce,#2affd5,#13ffec,#51ffae,#34ffcb,#5affa5,#80ff7f,#58ffa7,#70ff8f,#84ff7b,#85ff7a,#54ffab,#6fff90,#d5ff2a,#e0ff1f,#caff35,#d2ff2d,#fffc00,#ffc800,#ffc400,#ffb500,#ffe500,#ffec00,#ffd500,#ffc500,#ffaf00,#ffc500,#ffce00,#ffb800,#ff9e00,#ff8800,#ff7400,#ff6500,#ff6200,#ff6b00,#ff7800,#ff8400,#ff8e00,#ff9700,#ff9d00,#ff9f00,#ff9f00,#ff9e00,#ff9b00,#ff9800,#ff9500,#ff9200,#ff8f00,#ff8d00,#ff8a00,#ff8900,#ff8700,#ff8600,#ff8500 calc(100% - 3px))"></i>
<i style="left:59px;width:2px;background:linear-gradient(#0024ff 3px,#0026ff,#0028ff,#002bff,#002dff,#002fff,#0032ff,#0034ff,#0037ff,#0039ff,#003cff,#003eff,#0041ff,#0045ff,#0049ff,#004eff,#0057ff,#0064ff,#008eff,#0077ff,#00a0ff,#03fffc,#36ffc9,#63ff9c,#6dff92,#4dffb2,#51ffae,#61ff9e,#44ffbb,#60ff9f,#54ffab,#64ff9b,#91ff6e,#85ff7a,#5effa1,#82ff7d,#9bff64,#81ff7e,#b3ff4c,#ffe000,#ffec00,#cdff32,#d9ff26,#ffe300,#ffc200,#ffef00,#ffe800,#ffb000,#ffae00,#ffdf00,#ffde00,#ffbc00,#ffc200,#ffc400,#ffc600,#ffb400,#ff9000,#ff7200,#ff5f00,#ff5900,#ff6100,#ff7100,#ff8200,#ff9200,#ffa000,#ffa800,#ffac00,#ffad00,#ffac00,#ffa900,#ffa500,#ffa100,#ff9d00,#ff9900,#ff9500,#ff9200,#ff8f00,#ff8c00,#ff8a00,#ff8800 calc(100% - 3px))"></i>
<i style="left:61px;width:2px;background:linear-gradient(#001cff 3px,#001dff,#001fff,#0021ff,#0022ff,#0024ff,#0025ff,#0027ff,#0028ff,#002aff,#002cff,#002eff,#0030ff,#0033ff,#0037ff,#003bff,#0043ff,#0054ff,#007aff,#007dff,#00a9ff,#00feff,#39ffc6,#45ffba,#49ffb6,#46ffb9,#56ffa9,#6aff95,#5effa1,#5affa5,#73ff8c,#8dff72,#94ff6b,#70ff8f,#4effb1,#81ff7e,#9eff61,#caff35,#ffe200,#ffbd00,#ffc500,#fff400,#f4ff0b,#ffe300,#ffd000,#d1ff2e,#cbff34,#ffb000,#ff8d00,#ffcc00,#ffdd00,#ffd400,#ffb900,#ffa800,#ffb100,#ffaa00,#ff9400,#ff8800,#ff8400,#ff8300,#ff8800,#ff8f00,#ff9700,#ff9e00,#ffa400,#ffa600,#ffa700,#ffa600,#ffa400,#ffa100,#ff9e00,#ff9a00,#ff9700,#ff9400,#ff9100,#ff8e00,#ff8c00,#ff8900,#ff8700,#ff8600 calc(100% - 3px))"></i>
<i style="left:63px;width:2px;background:linear-gradient(#0033ff 3px,#0036ff,#0039ff,#003cff,#0040ff,#0043ff,#0046ff,#0049ff,#004dff,#0050ff,#0054ff,#0057ff,#005bff,#0060ff,#0065ff,#006bff,#0073ff,#007fff,#0095ff,#00a2ff,#00b5ff,#00f9ff,#36ffc9,#1fffe0,#14ffeb,#20ffdf,#38ffc7,#46ffb9,#3dffc2,#3affc5,#69ff96,#8eff71,#74ff8b,#49ffb6,#69ff96,#9bff64,#a8ff57,#ddff22,#ffd300,#ffd700,#fff100,#fff600,#f1ff0e,#fffe00,#ffe700,#d2ff2d,#daff25,#ffdc00,#ffb500,#ffb700,#ffc400,#ffce00,#ffae00,#ff9300,#ff8d00,#ff8800,#ff8c00,#ff9c00,#ffaf00,#ffb900,#ffb900,#ffb400,#ffac00,#ffa400,#ff9c00,#ff9500,#ff8f00,#ff8b00,#ff8700,#ff8500,#ff8300,#ff8100,#ff8000,#ff7f00,#ff7e00,#ff7d00,#ff7d00,#ff7c00,#ff7c00,#ff7b00 calc(100% - 3px))"></i>
<i style="left:65px;width:2px;background:linear-gradient(#0092ff 3px,#0097ff,#009cff,#00a0ff,#00a5ff,#00aaff,#00aeff,#00b3ff,#00b8ff,#00bdff,#00c1ff,#00c6ff,#00cbff,#00d0ff,#00d6ff,#00ddff,#00e3ff,#00deff,#00c3ff,#00b2ff,#00b5ff,#00f3ff,#0bfff4,#0ffff0,#3cffc3,#2bffd4,#14ffeb,#18ffe7,#0bfff4,#21ffde,#43ffbc,#58ffa7,#4cffb3,#4fffb0,#8eff71,#b1ff4e,#cdff32,#c8ff37,#e3ff1c,#fbff04,#b9ff46,#c1ff3e,#e8ff17,#f6ff09,#f8ff07,#fffb00,#ffce00,#f9ff06,#fffc00,#ffb900,#ffaf00,#ffaa00,#ffb800,#ffb200,#ffa000,#ff9200,#ff8c00,#ff9200,#ff9d00,#ffa300,#ffa200,#ff9e00,#ff9800,#ff9200,#ff8c00,#ff8600,#ff8200,#ff7e00,#ff7b00,#ff7900,#ff7700,#ff7600,#ff7500,#ff7400,#ff7400,#ff7400,#ff7400,#ff7500,#ff7500,#ff7600 calc(100% - 3px))"></i>
<i style="left:67px;width:2px;background:linear-gradient(#009fff 3px,#00a4ff,#00a9ff,#00aeff,#00b2ff,#00b7ff,#00bcff,#00c1ff,#00c5ff,#00caff,#00cfff,#00d4ff,#00d9ff,#00ddff,#00e2ff,#00e8ff,#00efff,#00eaff,#00c2ff,#00a9ff,#00abff,#00f3ff,#04fffb,#05fffa,#4dffb2,#50ffaf,#12ffed,#00ffff,#1cffe3,#13ffec,#39ffc6,#55ffaa,#4affb5,#5effa1,#92ff6d,#a4ff5b,#c2ff3d,#baff45,#c7ff38,#e8ff17,#b0ff4f,#a0ff5f,#e8ff17,#f5ff0a,#d6ff29,#ffe400,#ffb600,#f9ff06,#f7ff08,#ffb900,#ffa800,#ffac00,#ffce00,#ffdb00,#ffd000,#ffb700,#ff9700,#ff7f00,#ff6e00,#ff6600,#ff6600,#ff6b00,#ff7200,#ff7900,#ff7f00,#ff8300,#ff8400,#ff8500,#ff8400,#ff8300,#ff8100,#ff8000,#ff7e00,#ff7d00,#ff7d00,#ff7c00,#ff7c00,#ff7c00,#ff7d00,#ff7d00 calc(100% - 3px))"></i>
<i style="left:69px;width:2px;background:linear-gradient(#009fff 3px,#00a4ff,#00a9ff,#00aeff,#00b2ff,#00b7ff,#00bcff,#00c1ff,#00c5ff,#00caff,#00cfff,#00d4ff,#00d9ff,#00deff,#00e3ff,#00e7ff,#00eeff,#00e9ff,#00c2ff,#00acff,#009fff,#00f7ff,#17ffe8,#10ffef,#3dffc2,#53ffac,#20ffdf,#0dfff2,#42ffbd,#1bffe4,#4effb1,#64ff9b,#43ffbc,#52ffad,#7fff80,#a1ff5e,#aaff55,#bfff40,#e4ff1b,#f4ff0b,#e0ff1f,#c4ff3b,#efff10,#e2ff1d,#b5ff4a,#fff800,#ffd400,#ffe300,#ffd900,#ffa700,#ffa100,#ffc100,#ffd900,#ffe200,#ffdc00,#ffc200,#ffa300,#ff8600,#ff6a00,#ff5a00,#ff5a00,#ff6100,#ff6900,#ff7400,#ff7e00,#ff8600,#ff8c00,#ff9000,#ff9200,#ff9400,#ff9400,#ff9500,#ff9400,#ff9400,#ff9300,#ff9300,#ff9200,#ff9100,#ff9100,#ff9000 calc(100% - 3px))"></i>
<i style="left:71px;width:2px;background:linear-gradient(#009fff 3px,#00a4ff,#00a9ff,#00aeff,#00b2ff,#00b7ff,#00bcff,#00c1ff,#00c5ff,#00caff,#00cfff,#00d4ff,#00d9ff,#00deff,#00e3ff,#00e9ff,#00edff,#00e4ff,#00c3ff,#00b6ff,#00a3ff,#00f8ff,#16ffe9,#39ffc6,#3cffc3,#2affd5,#26ffd9,#2fffd0,#39ffc6,#37ffc8,#5dffa2,#4dffb2,#27ffd8,#3dffc2,#7aff85,#bdff42,#b2ff4d,#b4ff4b,#edff12,#ffeb00,#fff200,#fffb00,#e7ff18,#b0ff4f,#a2ff5d,#e9ff16,#ffea00,#ffd200,#ffbd00,#ff9800,#ff9000,#ffb300,#ffcd00,#ffd200,#ffc000,#ffb000,#ffa600,#ff9800,#ff8600,#ff7a00,#ff7700,#ff7900,#ff7b00,#ff7e00,#ff8300,#ff8700,#ff8b00,#ff8e00,#ff9100,#ff9300,#ff9400,#ff9500,#ff9600,#ff9600,#ff9700,#ff9700,#ff9600,#ff9600,#ff9600,#ff9500 calc(100% - 3px))"></i>
<i style="left:73px;width:2px;background:linear-gradient(#009fff 3px,#00a4ff,#00a9ff,#00aeff,#00b2ff,#00b7ff,#00bcff,#00c1ff,#00c5ff,#00caff,#00cfff,#00d4ff,#00d9ff,#00deff,#00e3ff,#00e9ff,#00ecff,#00e8ff,#00b7ff,#00b9ff,#00c2ff,#00deff,#00fdff,#5bffa4,#50ffaf,#24ffdb,#31ffce,#3affc5,#2affd5,#52ffad,#4dffb2,#49ffb6,#50ffaf,#57ffa8,#8cff73,#9cff63,#a0ff5f,#88ff77,#bdff42,#ffd100,#ffd700,#ffe200,#ceff31,#9bff64,#bfff40,#e5ff1a,#fff600,#ffe400,#ffd000,#ffb000,#ff9900,#ff9600,#ffb500,#ffb300,#ff9800,#ff9400,#ff9e00,#ffa000,#ffa100,#ff9f00,#ff9900,#ff9400,#ff8d00,#ff8700,#ff8100,#ff7d00,#ff7a00,#ff7700,#ff7500,#ff7300,#ff7200,#ff7200,#ff7200,#ff7200,#ff7300,#ff7500,#ff7700,#ff7900,#ff7b00,#ff7d00 calc(100% - 3px))"></i>
<i style="left:75px;width:2px;background:linear-gradient(#0073ff 3px,#0078ff,#007cff,#0081ff,#0086ff,#008aff,#008fff,#0093ff,#0098ff,#009dff,#00a1ff,#00a6ff,#00abff,#00b0ff,#00b6ff,#00bcff,#00c1ff,#00cbff,#00a8ff,#00b2ff,#00caff,#00d6ff,#10ffef,#64ff9b,#57ffa8,#37ffc8,#39ffc6,#33ffcc,#2affd5,#48ffb7,#29ffd6,#4cffb3,#7cff83,#7aff85,#9bff64,#6bff94,#75ff8a,#7cff83,#aeff51,#ffdc00,#ffd200,#ffe200,#ceff31,#afff50,#daff25,#ebff14,#fffb00,#ffed00,#ffda00,#ffd300,#ffca00,#ffa600,#ffa400,#ff9900,#ff7e00,#ff7c00,#ff8d00,#ff9b00,#ffa900,#ffad00,#ffa700,#ff9d00,#ff9100,#ff8400,#ff7900,#ff6f00,#ff6600,#ff5f00,#ff5a00,#ff5600,#ff5400,#ff5200,#ff5200,#ff5300,#ff5500,#ff5700,#ff5a00,#ff5e00,#ff6200,#ff6600 calc(100% - 3px))"></i>
<i style="left:77px;width:2px;background:linear-gradient(#0023ff 3px,#0025ff,#0028ff,#002aff,#002cff,#002eff,#0031ff,#0033ff,#0035ff,#0038ff,#003aff,#003dff,#0040ff,#0043ff,#0047ff,#004dff,#0056ff,#006cff,#0095ff,#00a5ff,#00aaff,#00f7ff,#52ffad,#55ffaa,#49ffb6,#48ffb7,#3bffc4,#2bffd4,#2affd5,#1cffe3,#0afff5,#2dffd2,#5bffa4,#7eff81,#a0ff5f,#7dff82,#5fffa0,#a0ff5f,#e4ff1b,#fffe00,#ffd600,#ffe900,#deff21,#c6ff39,#d4ff2b,#e9ff16,#fffc00,#ffe000,#ffcd00,#ffe300,#fffc00,#ffdd00,#ffa600,#ff9400,#ff7f00,#ff7400,#ff8300,#ff9300,#ffa000,#ffa400,#ff9e00,#ff9400,#ff8700,#ff7b00,#ff7000,#ff6800,#ff6100,#ff5d00,#ff5a00,#ff5800,#ff5800,#ff5800,#ff5900,#ff5a00,#ff5c00,#ff5e00,#ff6100,#ff6300,#ff6600,#ff6900 calc(100% - 3px))"></i>
<i style="left:79px;width:2px;background:linear-gradient(#0024ff 3px,#0026ff,#0028ff,#002bff,#002dff,#002fff,#0032ff,#0034ff,#0036ff,#0039ff,#003bff,#003eff,#0041ff,#0044ff,#0049ff,#004eff,#0055ff,#0065ff,#0093ff,#00a3ff,#00a6ff,#00efff,#44ffbb,#2fffd0,#47ffb8,#67ff98,#4effb1,#25ffda,#24ffdb,#2affd5,#1affe5,#00feff,#10ffef,#68ff97,#b2ff4d,#a3ff5c,#80ff7f,#b7ff48,#f9ff06,#fff600,#fff000,#ebff14,#c1ff3e,#d5ff2a,#fffc00,#ecff13,#eeff11,#ffeb00,#ffe000,#fff800,#f9ff06,#ffee00,#ffb700,#ff9d00,#ff9800,#ff9500,#ff9a00,#ffa200,#ffa500,#ffa100,#ff9b00,#ff9200,#ff8800,#ff8000,#ff7a00,#ff7700,#ff7600,#ff7600,#ff7800,#ff7a00,#ff7c00,#ff7e00,#ff8000,#ff8200,#ff8300,#ff8400,#ff8400,#ff8500,#ff8500,#ff8500 calc(100% - 3px))"></i>
<i style="left:81px;width:2px;background:linear-gradient(#0050ff 3px,#0054ff,#0058ff,#005dff,#0061ff,#0065ff,#006aff,#006eff,#0073ff,#0077ff,#007cff,#0080ff,#0085ff,#008aff,#0090ff,#0096ff,#009aff,#009cff,#009aff,#009fff,#00b9ff,#00daff,#0cfff3,#30ffcf,#4dffb2,#6fff90,#5dffa2,#1dffe2,#10ffef,#39ffc6,#31ffce,#09fff6,#07fff8,#57ffa8,#b9ff46,#baff45,#9dff62,#abff54,#eeff11,#ffdc00,#f0ff0f,#a9ff56,#81ff7e,#d7ff28,#ffb000,#fff600,#c0ff3f,#d8ff27,#efff10,#fdff02,#ffe500,#ffd600,#ffc700,#ffb400,#ffb600,#ffc200,#ffc500,#ffbe00,#ffb300,#ffaa00,#ffa300,#ff9c00,#ff9600,#ff9200,#ff9000,#ff9200,#ff9500,#ff9900,#ff9e00,#ffa200,#ffa500,#ffa800,#ffaa00,#ffac00,#ffac00,#ffab00,#ffaa00,#ffa800,#ffa600,#ffa300 calc(100% - 3px))"></i>
<i style="left:83px;width:2px;background:linear-gradient(#005bff 3px,#0060ff,#0065ff,#0069ff,#006eff,#0072ff,#0077ff,#007bff,#0080ff,#0084ff,#0089ff,#008eff,#0092ff,#0098ff,#009eff,#00a4ff,#00aaff,#00aaff,#009cff,#008fff,#00b3ff,#00d8ff,#00ffff,#5affa5,#3cffc3,#42ffbd,#4fffb0,#1effe1,#0bfff4,#1cffe3,#34ffcb,#5affa5,#5cffa3,#58ffa7,#9cff63,#abff54,#86ff79,#a1ff5e,#f2ff0d,#fff300,#e1ff1e,#9bff64,#78ff87,#dfff20,#ff8c00,#ffd400,#9dff62,#aeff51,#e9ff16,#ffec00,#ffcd00,#ffd200,#ffd600,#ffca00,#ffb400,#ffb700,#ffc100,#ffb600,#ffaa00,#ffa400,#ffa000,#ff9d00,#ff9a00,#ff9700,#ff9600,#ff9800,#ff9b00,#ff9f00,#ffa200,#ffa500,#ffa800,#ffaa00,#ffab00,#ffac00,#ffac00,#ffab00,#ffa900,#ffa700,#ffa500,#ffa200 calc(100% - 3px))"></i>
<i style="left:85px;width:2px;background:linear-gradient(#005bff 3px,#0060ff,#0065ff,#0069ff,#006eff,#0072ff,#0077ff,#007bff,#0080ff,#0084ff,#0089ff,#008eff,#0093ff,#0098ff,#009dff,#00a4ff,#00adff,#00afff,#009cff,#0088ff,#00a9ff,#00d8ff,#0dfff2,#36ffc9,#1bffe4,#25ffda,#36ffc9,#38ffc7,#53ffac,#46ffb9,#3dffc2,#63ff9c,#78ff87,#6fff90,#88ff77,#97ff68,#96ff69,#c0ff3f,#e9ff16,#dfff20,#d9ff26,#d6ff29,#b9ff46,#fbff04,#ff9a00,#ffe400,#b8ff47,#e1ff1e,#ffe400,#ffd300,#ffcf00,#ffe400,#ffeb00,#ffd500,#ffa500,#ff9200,#ff9a00,#ff9a00,#ff9900,#ff9900,#ff9b00,#ff9b00,#ff9800,#ff9500,#ff9300,#ff9200,#ff9100,#ff9100,#ff9100,#ff9100,#ff9100,#ff9000,#ff9000,#ff9000,#ff9000,#ff8f00,#ff8f00,#ff8e00,#ff8e00,#ff8d00 calc(100% - 3px))"></i>
<i style="left:87px;width:2px;background:linear-gradient(#0058ff 3px,#005cff,#0061ff,#0065ff,#006aff,#006eff,#0073ff,#0077ff,#007cff,#0080ff,#0085ff,#008aff,#008fff,#0094ff,#0099ff,#00a0ff,#00aaff,#00adff,#009aff,#008eff,#00a5ff,#00d0ff,#28ffd7,#03fffc,#00ffff,#20ffdf,#24ffdb,#3dffc2,#80ff7f,#67ff98,#51ffae,#48ffb7,#59ffa6,#81ff7e,#84ff7b,#8bff74,#acff53,#cbff34,#ccff33,#c6ff39,#c6ff39,#e0ff1f,#d8ff27,#fffb00,#ffc000,#fff500,#f6ff09,#ffd100,#ffb100,#ffc100,#ffce00,#ffdd00,#ffe700,#ffd400,#ffaa00,#ff9300,#ff9200,#ff9c00,#ffa000,#ffa200,#ffa500,#ffa600,#ffa400,#ffa100,#ff9f00,#ff9b00,#ff9700,#ff9400,#ff9000,#ff8d00,#ff8a00,#ff8800,#ff8700,#ff8600,#ff8500,#ff8500,#ff8500,#ff8600,#ff8700,#ff8800 calc(100% - 3px))"></i>
<i style="left:89px;width:2px;background:linear-gradient(#002bff 3px,#002eff,#0031ff,#0034ff,#0037ff,#003aff,#003dff,#0040ff,#0043ff,#0046ff,#0049ff,#004cff,#0050ff,#0054ff,#005aff,#005eff,#0066ff,#0072ff,#008aff,#008dff,#0096ff,#00c8ff,#46ffb9,#1dffe2,#01fffe,#1dffe2,#1affe5,#18ffe7,#48ffb7,#35ffca,#5fffa0,#59ffa6,#4affb5,#73ff8c,#7aff85,#7dff82,#88ff77,#a0ff5f,#bcff43,#c4ff3b,#9cff63,#89ff76,#acff53,#eaff15,#ffef00,#fff300,#ffe100,#ffbb00,#ffab00,#ffbc00,#ffc100,#ffbb00,#ffcf00,#ffcf00,#ffb900,#ffa800,#ffa200,#ffa600,#ffa700,#ffa700,#ffab00,#ffaf00,#ffb100,#ffb200,#ffb300,#ffb200,#ffaf00,#ffab00,#ffa700,#ffa300,#ffa000,#ff9d00,#ff9a00,#ff9800,#ff9700,#ff9600,#ff9600,#ff9600,#ff9600,#ff9700 calc(100% - 3px))"></i>
<i style="left:91px;width:2px;background:linear-gradient(#001bff 3px,#001cff,#001dff,#001fff,#0020ff,#0022ff,#0023ff,#0025ff,#0026ff,#0028ff,#0029ff,#002bff,#002dff,#0031ff,#0035ff,#0037ff,#003dff,#0050ff,#0085ff,#0088ff,#0096ff,#00eeff,#4cffb3,#4dffb2,#3cffc3,#2bffd4,#1bffe4,#18ffe7,#2affd5,#37ffc8,#46ffb9,#5cffa3,#60ff9f,#52ffad,#5fffa0,#74ff8b,#68ff97,#8dff72,#d6ff29,#ccff33,#6cff93,#5effa1,#b1ff4e,#dfff20,#c2ff3d,#c0ff3f,#ffeb00,#ffe500,#ffe700,#ffce00,#ffb400,#ffa300,#ffc600,#ffd800,#ffca00,#ffb500,#ffa500,#ff9f00,#ff9700,#ff9400,#ff9a00,#ffa400,#ffad00,#ffb600,#ffbe00,#ffc400,#ffc700,#ffc800,#ffc800,#ffc700,#ffc500,#ffc300,#ffc000,#ffbd00,#ffbb00,#ffb800,#ffb500,#ffb200,#ffb000,#ffae00 calc(100% - 3px))"></i>
<i style="left:93px;width:2px;background:linear-gradient(#0023ff 3px,#0026ff,#0028ff,#002aff,#002cff,#002fff,#0031ff,#0033ff,#0036ff,#0038ff,#003bff,#003dff,#0040ff,#0044ff,#0048ff,#004cff,#0052ff,#0064ff,#0098ff,#008cff,#0097ff,#08fff7,#33ffcc,#34ffcb,#55ffaa,#3dffc2,#27ffd8,#35ffca,#38ffc7,#55ffaa,#3fffc0,#57ffa8,#6cff93,#48ffb7,#4cffb3,#6bff94,#71ff8e,#a9ff56,#eeff11,#d6ff29,#88ff77,#b3ff4c,#ffee00,#ffff00,#99ff66,#94ff6b,#f5ff0a,#ddff22,#cfff30,#fff100,#ffb700,#ffa600,#ffc900,#ffde00,#ffd300,#ffc200,#ffb000,#ffa100,#ff9000,#ff8b00,#ff8d00,#ff9500,#ff9f00,#ffab00,#ffb600,#ffbf00,#ffc700,#ffcd00,#ffd200,#ffd500,#ffd700,#ffd800,#ffd700,#ffd600,#ffd400,#ffd100,#ffce00,#ffcb00,#ffc700,#ffc300 calc(100% - 3px))"></i>
<i style="left:95px;width:2px;background:linear-gradient(#003eff 3px,#0042ff,#0046ff,#004aff,#004fff,#0053ff,#0057ff,#005bff,#005fff,#0063ff,#0067ff,#006cff,#0070ff,#0075ff,#007bff,#0080ff,#0088ff,#0094ff,#00b4ff,#0099ff,#008eff,#00efff,#1effe1,#00e4ff,#28ffd7,#46ffb9,#36ffc9,#46ffb9,#4fffb0,#4effb1,#5cffa3,#51ffae,#53ffac,#6bff94,#5cffa3,#6fff90,#a9ff56,#d3ff2c,#deff21,#deff21,#c9ff36,#fbff04,#ffbb00,#ffe200,#caff35,#e5ff1a,#e8ff17,#bbff44,#b9ff46,#fffe00,#ffbf00,#ffbb00,#ffcb00,#ffd600,#ffd600,#ffd500,#ffca00,#ffb700,#ffa500,#ff9d00,#ff9700,#ff9400,#ff9600,#ff9b00,#ffa000,#ffa700,#ffaf00,#ffb600,#ffbd00,#ffc300,#ffc800,#ffcc00,#ffcf00,#ffd100,#ffd200,#ffd200,#ffd100,#ffcf00,#ffce00,#ffcc00 calc(100% - 3px))"></i>
<i style="left:97px;width:2px;background:linear-gradient(#0043ff 3px,#0047ff,#004bff,#004fff,#0053ff,#0058ff,#005cff,#0060ff,#0064ff,#0069ff,#006dff,#0071ff,#0076ff,#007bff,#0081ff,#0087ff,#008fff,#009bff,#00aeff,#009eff,#00a5ff,#00e5ff,#3cffc3,#00ecff,#1dffe2,#43ffbc,#38ffc7,#51ffae,#6cff93,#45ffba,#3dffc2,#36ffc9,#62ff9d,#a0ff5f,#8aff75,#a1ff5e,#e0ff1f,#efff10,#e2ff1d,#d9ff26,#aaff55,#b9ff46,#e9ff16,#fff700,#ffe600,#ffe500,#e3ff1c,#a6ff59,#beff41,#ffe800,#ffc400,#ffdb00,#ffd900,#ffdc00,#ffde00,#ffd900,#ffcd00,#ffbf00,#ffb300,#ffac00,#ffa600,#ffa100,#ffa100,#ffa200,#ffa400,#ffa700,#ffaa00,#ffae00,#ffb200,#ffb500,#ffb700,#ffba00,#ffbb00,#ffbc00,#ffbd00,#ffbd00,#ffbd00,#ffbc00,#ffbc00,#ffbb00 calc(100% - 3px))"></i>
<i style="left:99px;width:2px;background:linear-gradient(#0033ff 3px,#0036ff,#003aff,#003dff,#0041ff,#0044ff,#0048ff,#004bff,#004fff,#0052ff,#0056ff,#005aff,#005dff,#0062ff,#0068ff,#006eff,#0076ff,#0086ff,#0093ff,#009eff,#00c1ff,#00ddff,#58ffa7,#28ffd7,#22ffdd,#1dffe2,#22ffdd,#52ffad,#6aff95,#43ffbc,#13ffec,#1affe5,#70ff8f,#a9ff56,#99ff66,#c4ff3b,#d6ff29,#d3ff2c,#d7ff28,#b9ff46,#7eff81,#78ff87,#8bff74,#dbff24,#ffc900,#ffed00,#dfff20,#b2ff4d,#ceff31,#ffee00,#ffe200,#fff400,#ffed00,#ffec00,#ffe400,#ffce00,#ffba00,#ffaf00,#ffaa00,#ffa800,#ffab00,#ffb100,#ffb700,#ffbd00,#ffc100,#ffc300,#ffc300,#ffc100,#ffbe00,#ffbb00,#ffb700,#ffb400,#ffb000,#ffad00,#ffaa00,#ffa800,#ffa600,#ffa400,#ffa200,#ffa100 calc(100% - 3px))"></i>
<i style="left:101px;width:2px;background:linear-gradient(#0025ff 3px,#0027ff,#002aff,#002cff,#002fff,#0031ff,#0033ff,#0036ff,#0038ff,#003bff,#003eff,#0040ff,#0043ff,#0047ff,#004cff,#0052ff,#0059ff,#0069ff,#007dff,#00b9ff,#00b6ff,#00d4ff,#3affc5,#3affc5,#0cfff3,#00e7ff,#10ffef,#4bffb4,#3bffc4,#3bffc4,#28ffd7,#21ffde,#4bffb4,#6bff94,#6aff95,#93ff6c,#7eff81,#81ff7e,#9aff65,#8aff75,#a0ff5f,#b2ff4d,#acff53,#c9ff36,#fcff03,#f8ff07,#ebff14,#e8ff17,#dbff24,#cdff32,#e2ff1d,#fff200,#fff200,#fff400,#ffe600,#ffcd00,#ffb400,#ffa300,#ff9c00,#ff9f00,#ffa600,#ffb000,#ffbb00,#ffc400,#ffca00,#ffcd00,#ffcd00,#ffcb00,#ffc800,#ffc400,#ffc000,#ffbc00,#ffb800,#ffb500,#ffb200,#ffb000,#ffae00,#ffad00,#ffad00,#ffac00 calc(100% - 3px))"></i>
<i style="left:103px;width:2px;background:linear-gradient(#0064ff 3px,#0068ff,#006dff,#0071ff,#0076ff,#007aff,#007fff,#0083ff,#0088ff,#008cff,#0091ff,#0096ff,#009bff,#00a0ff,#00a6ff,#00adff,#00b2ff,#00b6ff,#009fff,#00daff,#00aeff,#00faff,#0dfff2,#36ffc9,#0afff5,#08fff7,#4cffb3,#5cffa3,#18ffe7,#22ffdd,#4dffb2,#4affb5,#31ffce,#3bffc4,#4bffb4,#3effc1,#39ffc6,#68ff97,#92ff6d,#9bff64,#b4ff4b,#d7ff28,#ecff13,#d5ff2a,#b8ff47,#e3ff1c,#ffef00,#fff500,#d6ff29,#a6ff59,#c5ff3a,#ffef00,#ffe800,#fff500,#ffe700,#ffd100,#ffbe00,#ffab00,#ffa200,#ffa000,#ffa200,#ffa700,#ffad00,#ffb300,#ffb800,#ffbd00,#ffc100,#ffc400,#ffc600,#ffc800,#ffca00,#ffcc00,#ffcd00,#ffce00,#ffd000,#ffd100,#ffd300,#ffd400,#ffd500,#ffd600 calc(100% - 3px))"></i>
<i style="left:105px;width:2px;background:linear-gradient(#008bff 3px,#0090ff,#0095ff,#009aff,#009eff,#00a3ff,#00a8ff,#00acff,#00b1ff,#00b6ff,#00bbff,#00bfff,#00c5ff,#00caff,#00cfff,#00d6ff,#00daff,#00d9ff,#00c0ff,#00d5ff,#00c5ff,#10ffef,#08fff7,#38ffc7,#20ffdf,#50ffaf,#86ff79,#6fff90,#40ffbf,#05fffa,#50ffaf,#65ff9a,#3affc5,#5dffa2,#7cff83,#31ffce,#40ffbf,#99ff66,#dcff23,#f3ff0c,#c0ff3f,#c3ff3c,#fbff04,#edff12,#b6ff49,#e5ff1a,#ffde00,#fffa00,#d6ff29,#beff41,#d0ff2f,#fff900,#ffe500,#ffe700,#ffdd00,#ffcc00,#ffc600,#ffc400,#ffc400,#ffbc00,#ffb400,#ffae00,#ffaa00,#ffa700,#ffa700,#ffaa00,#ffb100,#ffb900,#ffc100,#ffca00,#ffd200,#ffda00,#ffe100,#ffe600,#ffeb00,#ffee00,#fff100,#fff300,#fff400,#fff500 calc(100% - 3px))"></i>
<i style="left:107px;width:2px;background:linear-gradient(#008bff 3px,#0090ff,#0095ff,#009aff,#009eff,#00a3ff,#00a8ff,#00acff,#00b1ff,#00b6ff,#00bbff,#00bfff,#00c4ff,#00caff,#00cfff,#00d4ff,#00dcff,#00dbff,#00ceff,#00b6ff,#00daff,#00f9ff,#2affd5,#41ffbe,#31ffce,#6aff95,#6fff90,#60ff9f,#90ff6f,#0dfff2,#3affc5,#5cffa3,#57ffa8,#a6ff59,#c7ff38,#7dff82,#71ff8e,#c5ff3a,#ffe600,#ffc900,#f0ff0f,#c8ff37,#f1ff0e,#f9ff06,#d6ff29,#eaff15,#fff500,#f9ff06,#e4ff1b,#e4ff1b,#ebff14,#f9ff06,#fff000,#ffd400,#ffcc00,#ffc700,#ffc800,#ffd900,#ffe300,#ffda00,#ffcd00,#ffc200,#ffb800,#ffb000,#ffab00,#ffab00,#ffb000,#ffb800,#ffc100,#ffcb00,#ffd400,#ffdc00,#ffe300,#ffe900,#ffed00,#fff000,#fff200,#fff200,#fff200,#fff100 calc(100% - 3px))"></i>
<i style="left:109px;width:2px;background:linear-gradient(#008bff 3px,#0090ff,#0095ff,#009aff,#009eff,#00a3ff,#00a8ff,#00acff,#00b1ff,#00b6ff,#00bbff,#00c0ff,#00c4ff,#00caff,#00cfff,#00d5ff,#00dbff,#00d6ff,#00bfff,#0095ff,#00ceff,#00e6ff,#26ffd9,#50ffaf,#52ffad,#5dffa2,#47ffb8,#3dffc2,#7cff83,#61ff9e,#36ffc9,#45ffba,#7cff83,#9dff62,#9dff62,#a0ff5f,#a7ff58,#dcff23,#ffef00,#ffe500,#fffd00,#bfff40,#c7ff38,#d6ff29,#ceff31,#ecff13,#edff12,#f8ff07,#ecff13,#f6ff09,#fff800,#eeff11,#fff900,#ffcf00,#ffc800,#ffc800,#ffc800,#ffd500,#ffdc00,#ffd900,#ffd500,#ffd100,#ffcd00,#ffc900,#ffc600,#ffc500,#ffc500,#ffc700,#ffc900,#ffcb00,#ffcd00,#ffcf00,#ffd100,#ffd200,#ffd200,#ffd200,#ffd200,#ffd100,#ffd000,#ffcf00 calc(100% - 3px))"></i>
<i style="left:111px;width:2px;background:linear-gradient(#0071ff 3px,#0076ff,#007aff,#007fff,#0083ff,#0088ff,#008dff,#0091ff,#0096ff,#009bff,#009fff,#00a4ff,#00a9ff,#00aeff,#00b4ff,#00bbff,#00beff,#00beff,#00a1ff,#008aff,#00afff,#00e2ff,#15ffea,#58ffa7,#48ffb7,#3effc1,#4affb5,#3effc1,#4affb5,#97ff68,#4effb1,#45ffba,#8dff72,#80ff7f,#60ff9f,#9bff64,#ccff33,#e2ff1d,#dcff23,#caff35,#e6ff19,#c1ff3e,#a9ff56,#b1ff4e,#c5ff3a,#e1ff1e,#d2ff2d,#e0ff1f,#dbff24,#f4ff0b,#ffeb00,#f5ff0a,#fffa00,#ffdc00,#ffcd00,#ffcb00,#ffc900,#ffc800,#ffc900,#ffca00,#ffca00,#ffca00,#ffcb00,#ffcc00,#ffcc00,#ffcc00,#ffcd00,#ffcd00,#ffcd00,#ffcd00,#ffcc00,#ffcc00,#ffcb00,#ffca00,#ffc800,#ffc700,#ffc500,#ffc400,#ffc200,#ffc100 calc(100% - 3px))"></i>
<i style="left:113px;width:2px;background:linear-gradient(#0025ff 3px,#0028ff,#002aff,#002cff,#002fff,#0031ff,#0034ff,#0036ff,#0039ff,#003bff,#003eff,#0041ff,#0044ff,#0047ff,#004cff,#0052ff,#0059ff,#006cff,#0078ff,#009aff,#009aff,#00e5ff,#2bffd4,#49ffb6,#05fffa,#26ffd9,#6aff95,#65ff9a,#5affa5,#5affa5,#61ff9e,#60ff9f,#81ff7e,#9eff61,#84ff7b,#9eff61,#d5ff2a,#e0ff1f,#bdff42,#98ff67,#b4ff4b,#d6ff29,#cdff32,#d1ff2e,#deff21,#c7ff38,#b9ff46,#a8ff57,#b7ff48,#ecff13,#ffef00,#ffef00,#fff700,#fff000,#ffda00,#ffd200,#ffd000,#ffc600,#ffc400,#ffbf00,#ffb600,#ffad00,#ffa800,#ffa600,#ffa600,#ffab00,#ffb300,#ffbc00,#ffc500,#ffce00,#ffd600,#ffdc00,#ffe100,#ffe500,#ffe700,#ffe800,#ffe700,#ffe500,#ffe300,#ffe000 calc(100% - 3px))"></i>
<i style="left:115px;width:2px;background:linear-gradient(#0019ff 3px,#001bff,#001cff,#001dff,#001fff,#0020ff,#0021ff,#0023ff,#0024ff,#0025ff,#0027ff,#0029ff,#002bff,#002dff,#0030ff,#0036ff,#003fff,#0055ff,#0073ff,#00a6ff,#00aaff,#00daff,#4effb1,#24ffdb,#07fff8,#34ffcb,#47ffb8,#49ffb6,#58ffa7,#15ffea,#41ffbe,#61ff9e,#78ff87,#a1ff5e,#94ff6b,#9eff61,#bdff42,#d4ff2b,#c3ff3c,#8fff70,#93ff6c,#d1ff2e,#ffea00,#ffe600,#e1ff1e,#c1ff3e,#bcff43,#9fff60,#b3ff4c,#efff10,#fff100,#ffe900,#fff900,#ffff00,#fff300,#ffe900,#ffe000,#ffcf00,#ffc600,#ffbb00,#ffaa00,#ff9a00,#ff9000,#ff8b00,#ff8b00,#ff9200,#ff9d00,#ffab00,#ffb900,#ffc700,#ffd400,#ffdf00,#ffe800,#ffef00,#fff400,#fff700,#fff800,#fff700,#fff500,#fff300 calc(100% - 3px))"></i>
<i style="left:117px;width:2px;background:linear-gradient(#0020ff 3px,#0022ff,#0024ff,#0026ff,#0028ff,#002aff,#002cff,#002eff,#0030ff,#0032ff,#0034ff,#0037ff,#0039ff,#003cff,#0040ff,#0045ff,#0050ff,#0060ff,#0087ff,#00a7ff,#00dbff,#00d5ff,#5dffa2,#13ffec,#24ffdb,#40ffbf,#0dfff2,#05fffa,#3effc1,#0cfff3,#2affd5,#4effb1,#5effa1,#80ff7f,#8eff71,#8cff73,#8aff75,#b0ff4f,#c4ff3b,#a9ff56,#b6ff49,#d6ff29,#ffe500,#ffdd00,#e5ff1a,#d5ff2a,#ceff31,#b4ff4b,#d2ff2d,#ffea00,#ffe100,#fff400,#feff01,#faff05,#f6ff09,#faff05,#fff300,#ffdc00,#ffcb00,#ffbe00,#ffb000,#ffa400,#ff9e00,#ff9b00,#ff9b00,#ff9f00,#ffa600,#ffad00,#ffb600,#ffbe00,#ffc500,#ffcc00,#ffd200,#ffd600,#ffda00,#ffdd00,#ffde00,#ffe000,#ffe000,#ffe000 calc(100% - 3px))"></i>
<i style="left:119px;width:2px;background:linear-gradient(#003fff 3px,#0043ff,#0047ff,#004bff,#004fff,#0053ff,#0057ff,#005bff,#005fff,#0063ff,#0068ff,#006cff,#0071ff,#0076ff,#007bff,#0082ff,#008bff,#0094ff,#00aeff,#00c6ff,#00f5ff,#00f0ff,#4effb1,#26ffd9,#19ffe6,#33ffcc,#0efff1,#00f2ff,#30ffcf,#2affd5,#49ffb6,#45ffba,#3affc5,#74ff8b,#94ff6b,#74ff8b,#6aff95,#91ff6e,#b4ff4b,#d4ff2b,#fdff02,#eeff11,#c6ff39,#ddff22,#fff900,#f3ff0c,#e0ff1f,#c4ff3b,#f6ff09,#ffb900,#ffce00,#fffe00,#fbff04,#fff800,#ffff00,#faff05,#fff900,#ffe600,#ffd900,#ffd000,#ffc900,#ffc600,#ffc600,#ffc500,#ffc600,#ffc600,#ffc600,#ffc500,#ffc500,#ffc400,#ffc400,#ffc500,#ffc500,#ffc600,#ffc700,#ffc800,#ffc900,#ffcb00,#ffcc00,#ffce00 calc(100% - 3px))"></i>
<i style="left:121px;width:2px;background:linear-gradient(#004aff 3px,#004fff,#0053ff,#0057ff,#005cff,#0060ff,#0064ff,#0069ff,#006dff,#0072ff,#0076ff,#007bff,#007fff,#0085ff,#008aff,#0091ff,#0098ff,#009eff,#00b9ff,#00e5ff,#00d8ff,#0cfff3,#3affc5,#2bffd4,#31ffce,#43ffbc,#33ffcc,#23ffdc,#31ffce,#29ffd6,#60ff9f,#54ffab,#42ffbd,#7cff83,#7aff85,#87ff78,#aeff51,#b9ff46,#b8ff47,#eaff15,#ffe100,#e9ff16,#7bff84,#96ff69,#fff000,#ffdd00,#ffee00,#fffb00,#ffe000,#ffb900,#ffda00,#eaff15,#f5ff0a,#ffe900,#ffeb00,#fff100,#ffeb00,#ffe800,#ffe300,#ffe000,#ffdf00,#ffe100,#ffe200,#ffe200,#ffe200,#ffe000,#ffdd00,#ffd900,#ffd600,#ffd300,#ffd000,#ffcd00,#ffcb00,#ffca00,#ffc900,#ffc900,#ffc900,#ffc900,#ffca00,#ffcb00 calc(100% - 3px))"></i>
<i style="left:123px;width:2px;background:linear-gradient(#003fff 3px,#0043ff,#0047ff,#004bff,#004fff,#0053ff,#0057ff,#005bff,#005fff,#0063ff,#0067ff,#006bff,#0070ff,#0075ff,#007aff,#0080ff,#0087ff,#008fff,#00b5ff,#00d0ff,#00b0ff,#0bfff4,#22ffdd,#2fffd0,#5effa1,#57ffa8,#40ffbf,#45ffba,#38ffc7,#27ffd8,#61ff9e,#68ff97,#5cffa3,#74ff8b,#6aff95,#adff52,#fffd00,#feff01,#d1ff2e,#d4ff2b,#fcff03,#d4ff2b,#87ff78,#a3ff5c,#fff600,#ffd300,#ffc400,#ffc600,#ffdc00,#fff000,#f4ff0b,#d2ff2d,#e6ff19,#fff400,#ffe900,#ffde00,#ffd500,#ffdd00,#ffd900,#ffd300,#ffcf00,#ffcb00,#ffc800,#ffc600,#ffc500,#ffc500,#ffc600,#ffc800,#ffca00,#ffcc00,#ffce00,#ffcf00,#ffd000,#ffd100,#ffd100,#ffd100,#ffd000,#ffd000,#ffcf00,#ffce00 calc(100% - 3px))"></i>
<i style="left:125px;width:2px;background:linear-gradient(#0023ff 3px,#0026ff,#0028ff,#002aff,#002cff,#002fff,#0031ff,#0033ff,#0036ff,#0038ff,#003aff,#003dff,#0040ff,#0044ff,#0047ff,#004bff,#0054ff,#0062ff,#009eff,#00abff,#00afff,#00f5ff,#0afff5,#44ffbb,#63ff9c,#40ffbf,#25ffda,#34ffcb,#40ffbf,#40ffbf,#5bffa4,#6aff95,#53ffac,#51ffae,#89ff76,#b2ff4d,#e3ff1c,#f4ff0b,#d5ff2a,#b2ff4d,#e1ff1e,#f0ff0f,#dbff24,#f2ff0d,#ffee00,#fff900,#ffcf00,#ffe600,#f3ff0c,#daff25,#c8ff37,#d0ff2f,#e7ff18,#fcff03,#fff200,#ffdb00,#ffd000,#ffd800,#ffd200,#ffc500,#ffb900,#ffae00,#ffa500,#ffa000,#ff9e00,#ffa000,#ffa600,#ffad00,#ffb500,#ffbc00,#ffc300,#ffc900,#ffce00,#ffd100,#ffd300,#ffd400,#ffd300,#ffd200,#ffd000,#ffce00 calc(100% - 3px))"></i>
<i style="left:127px;width:2px;background:linear-gradient(#0037ff 3px,#003bff,#003fff,#0042ff,#0046ff,#004aff,#004dff,#0051ff,#0055ff,#0058ff,#005cff,#0060ff,#0064ff,#0069ff,#006eff,#0073ff,#007aff,#0082ff,#00a2ff,#00a7ff,#00cfff,#00e4ff,#19ffe6,#49ffb6,#35ffca,#1cffe3,#33ffcc,#51ffae,#50ffaf,#46ffb9,#5effa1,#66ff99,#51ffae,#58ffa7,#8bff74,#9dff62,#9bff64,#9aff65,#a2ff5d,#c4ff3b,#ffee00,#ffcb00,#ffe900,#fff200,#ffed00,#f9ff06,#f7ff08,#d2ff2d,#d1ff2e,#d2ff2d,#c2ff3d,#e8ff17,#fff400,#ffea00,#fff900,#fff600,#ffed00,#ffee00,#ffe600,#ffda00,#ffcd00,#ffc200,#ffb900,#ffb300,#ffaf00,#ffaf00,#ffb100,#ffb500,#ffb900,#ffbd00,#ffc100,#ffc500,#ffc800,#ffca00,#ffcc00,#ffcc00,#ffcc00,#ffcc00,#ffcb00,#ffca00 calc(100% - 3px))"></i>
<i style="left:129px;width:2px;background:linear-gradient(#0053ff 3px,#0057ff,#005cff,#0060ff,#0064ff,#0069ff,#006dff,#0072ff,#0076ff,#007bff,#007fff,#0084ff,#0089ff,#008fff,#0094ff,#009aff,#00a1ff,#00a4ff,#00a9ff,#00a2ff,#00d7ff,#00dcff,#36ffc9,#3fffc0,#16ffe9,#1effe1,#5cffa3,#6cff93,#36ffc9,#34ffcb,#55ffaa,#5dffa2,#55ffaa,#6eff91,#8dff72,#88ff77,#72ff8d,#6dff92,#90ff6f,#e0ff1f,#ffdf00,#ffca00,#fff000,#f0ff0f,#f3ff0c,#f6ff09,#d5ff2a,#a5ff5a,#b1ff4e,#ccff33,#cfff30,#feff01,#ffdb00,#ffd900,#fffb00,#f3ff0c,#f8ff07,#faff05,#fffd00,#fff500,#ffeb00,#ffe100,#ffda00,#ffd300,#ffcd00,#ffc900,#ffc700,#ffc600,#ffc500,#ffc500,#ffc600,#ffc700,#ffc700,#ffc800,#ffc900,#ffca00,#ffcb00,#ffcc00,#ffcd00,#ffcd00 calc(100% - 3px))"></i>
<i style="left:131px;width:2px;background:linear-gradient(#0053ff 3px,#0057ff,#005cff,#0060ff,#0064ff,#0069ff,#006dff,#0072ff,#0076ff,#007bff,#007fff,#0084ff,#0089ff,#008fff,#0095ff,#009bff,#00a3ff,#00aaff,#00a8ff,#0086ff,#00aeff,#00dbff,#3bffc4,#2dffd2,#25ffda,#44ffbb,#6dff92,#4cffb3,#00f3ff,#18ffe7,#3dffc2,#52ffad,#4affb5,#62ff9d,#b0ff4f,#8bff74,#7aff85,#9bff64,#bcff43,#d8ff27,#d3ff2c,#daff25,#dfff20,#d1ff2e,#bfff40,#d7ff28,#ebff14,#a8ff57,#83ff7c,#adff52,#dfff20,#fffa00,#ffea00,#ffef00,#fff800,#fffe00,#feff01,#ffff00,#fffc00,#fff800,#ffed00,#ffe100,#ffd800,#ffd000,#ffca00,#ffc600,#ffc400,#ffc500,#ffc700,#ffc900,#ffcb00,#ffce00,#ffd100,#ffd300,#ffd600,#ffd800,#ffda00,#ffdb00,#ffdd00,#ffde00 calc(100% - 3px))"></i>
<i style="left:133px;width:2px;background:linear-gradient(#0053ff 3px,#0057ff,#005cff,#0060ff,#0064ff,#0069ff,#006dff,#0072ff,#0076ff,#007bff,#007fff,#0084ff,#0089ff,#008eff,#0094ff,#0099ff,#00a2ff,#00abff,#009cff,#007aff,#009cff,#00eaff,#36ffc9,#06fff9,#19ffe6,#52ffad,#6cff93,#4dffb2,#06fff9,#00ffff,#4affb5,#67ff98,#43ffbc,#58ffa7,#a9ff56,#bcff43,#b7ff48,#9bff64,#a2ff5d,#d3ff2c,#b5ff4a,#a5ff5a,#c9ff36,#cdff32,#9fff60,#b3ff4c,#fffb00,#d0ff2f,#85ff7a,#a8ff57,#f7ff08,#fff000,#fffe00,#f8ff07,#fff200,#ffea00,#ffef00,#ffee00,#ffee00,#ffee00,#ffe700,#ffde00,#ffd800,#ffd200,#ffcd00,#ffcb00,#ffcc00,#ffce00,#ffd100,#ffd500,#ffd800,#ffdb00,#ffde00,#ffe100,#ffe300,#ffe400,#ffe600,#ffe600,#ffe700,#ffe700 calc(100% - 3px))"></i>
<i style="left:135px;width:2px;background:linear-gradient(#003aff 3px,#003eff,#0042ff,#0046ff,#004aff,#004dff,#0051ff,#0055ff,#0059ff,#005dff,#0060ff,#0065ff,#0069ff,#006eff,#0073ff,#0077ff,#0080ff,#0089ff,#0080ff,#009cff,#00bbff,#00efff,#30ffcf,#00f8ff,#0bfff4,#4bffb4,#70ff8f,#6aff95,#3bffc4,#00ffff,#3cffc3,#61ff9e,#53ffac,#60ff9f,#7fff80,#baff45,#ceff31,#83ff7c,#7cff83,#d9ff26,#d1ff2e,#c0ff3f,#d4ff2b,#c3ff3c,#8fff70,#9cff63,#e9ff16,#ecff13,#c6ff39,#d6ff29,#fcff03,#feff01,#f3ff0c,#f8ff07,#ffeb00,#ffe100,#ffe500,#ffe000,#ffe000,#ffe600,#ffe900,#ffea00,#ffea00,#ffeb00,#ffeb00,#ffeb00,#ffec00,#ffec00,#ffed00,#ffed00,#ffee00,#ffee00,#ffed00,#ffed00,#ffec00,#ffeb00,#ffea00,#ffe900,#ffe800,#ffe700 calc(100% - 3px))"></i>
<i style="left:137px;width:2px;background:linear-gradient(#001dff 3px,#001fff,#0020ff,#0022ff,#0024ff,#0026ff,#0027ff,#0029ff,#002bff,#002cff,#002eff,#0030ff,#0033ff,#0036ff,#0039ff,#003fff,#0047ff,#0051ff,#0074ff,#00b8ff,#00cdff,#00f2ff,#2affd5,#1fffe0,#1fffe0,#4affb5,#75ff8a,#67ff98,#35ffca,#21ffde,#02fffd,#2effd1,#6cff93,#6bff94,#6dff92,#69ff96,#99ff66,#a6ff59,#afff50,#ceff31,#c8ff37,#ddff22,#dcff23,#aaff55,#88ff77,#a5ff5a,#c8ff37,#ebff14,#fff600,#fffa00,#deff21,#d4ff2b,#e6ff19,#fbff04,#ffec00,#ffe100,#ffe200,#ffda00,#ffd900,#ffe000,#ffe700,#ffeb00,#ffef00,#fff200,#fff600,#fffa00,#fffc00,#ffff00,#fdff02,#fcff03,#fbff04,#fbff04,#fbff04,#fcff03,#fdff02,#feff01,#fffe00,#fffc00,#fffa00,#fff800 calc(100% - 3px))"></i>
<i style="left:139px;width:2px;background:linear-gradient(#001cff 3px,#001eff,#001fff,#0021ff,#0022ff,#0024ff,#0025ff,#0027ff,#0029ff,#002aff,#002cff,#002eff,#0030ff,#0033ff,#0036ff,#003dff,#0045ff,#0052ff,#008cff,#00a8ff,#00b6ff,#00faff,#1bffe4,#1cffe3,#13ffec,#3effc1,#5bffa4,#30ffcf,#0cfff3,#3cffc3,#16ffe9,#37ffc8,#71ff8e,#63ff9c,#6bff94,#5effa1,#88ff77,#d3ff2c,#dfff20,#abff54,#8eff71,#bcff43,#dcff23,#d1ff2e,#bdff42,#c1ff3e,#e6ff19,#f6ff09,#fff400,#fdff02,#ceff31,#cfff30,#ebff14,#f4ff0b,#fffc00,#ffed00,#ffe800,#ffe400,#ffe300,#ffe300,#ffe500,#ffe700,#ffe800,#ffe900,#ffed00,#fff100,#fff600,#fffb00,#feff01,#f9ff06,#f5ff0a,#f1ff0e,#efff10,#edff12,#ebff14,#ebff14,#ebff14,#ebff14,#ecff13,#edff12 calc(100% - 3px))"></i>
<i style="left:141px;width:2px;background:linear-gradient(#0031ff 3px,#0034ff,#0038ff,#003bff,#003eff,#0042ff,#0045ff,#0048ff,#004cff,#004fff,#0053ff,#0057ff,#005aff,#005fff,#0063ff,#006aff,#0074ff,#007eff,#00aaff,#0097ff,#00a5ff,#00f3ff,#18ffe7,#02fffd,#00f8ff,#2dffd2,#39ffc6,#05fffa,#00fbff,#36ffc9,#3effc1,#5effa1,#76ff89,#68ff97,#6dff92,#66ff99,#7fff80,#e0ff1f,#e7ff18,#87ff78,#6aff95,#91ff6e,#d9ff26,#fff700,#edff12,#caff35,#f3ff0c,#edff12,#ebff14,#e2ff1d,#cfff30,#e2ff1d,#f9ff06,#f2ff0d,#efff10,#fdff02,#fff900,#fffd00,#feff01,#fffe00,#fffc00,#fffc00,#fffb00,#fff800,#fff600,#fff500,#fff500,#fff400,#fff500,#fff500,#fff700,#fff800,#fff900,#fffb00,#fffd00,#ffff00,#fdff02,#fbff04,#f9ff06,#f7ff08 calc(100% - 3px))"></i>
<i style="left:143px;width:2px;background:linear-gradient(#0041ff 3px,#0045ff,#004aff,#004eff,#0052ff,#0056ff,#005aff,#005eff,#0063ff,#0067ff,#006bff,#0070ff,#0074ff,#0079ff,#007fff,#0086ff,#008eff,#0094ff,#00b3ff,#009fff,#00b3ff,#00e8ff,#2fffd0,#05fffa,#00faff,#20ffdf,#32ffcd,#1effe1,#0afff5,#18ffe7,#31ffce,#65ff9a,#84ff7b,#80ff7f,#6fff90,#49ffb6,#62ff9d,#c7ff38,#d0ff2f,#81ff7e,#86ff79,#99ff66,#dfff20,#fff800,#d9ff26,#afff50,#b5ff4a,#bfff40,#daff25,#dbff24,#cbff34,#dfff20,#f9ff06,#f6ff09,#e2ff1d,#e5ff1a,#efff10,#e9ff16,#e6ff19,#e6ff19,#e7ff18,#e8ff17,#ebff14,#f0ff0f,#f6ff09,#fcff03,#fffb00,#fff500,#ffef00,#ffea00,#ffe700,#ffe400,#ffe300,#ffe300,#ffe400,#ffe500,#ffe800,#ffeb00,#ffef00,#fff300 calc(100% - 3px))"></i>
<i style="left:145px;width:2px;background:linear-gradient(#003dff 3px,#0041ff,#0045ff,#0049ff,#004dff,#0051ff,#0055ff,#0059ff,#005dff,#0061ff,#0065ff,#006aff,#006eff,#0073ff,#0079ff,#007eff,#0085ff,#008cff,#00aaff,#00a6ff,#00b9ff,#00f0ff,#48ffb7,#19ffe6,#0cfff3,#05fffa,#3affc5,#51ffae,#00ebff,#15ffea,#3effc1,#5dffa2,#6dff92,#6dff92,#78ff87,#7eff81,#9cff63,#a8ff57,#9eff61,#9bff64,#aaff55,#c5ff3a,#ecff13,#e5ff1a,#b8ff47,#9fff60,#a3ff5c,#b8ff47,#cdff32,#c8ff37,#bbff44,#ceff31,#e5ff1a,#e9ff16,#d3ff2c,#d1ff2e,#dfff20,#e4ff1b,#e9ff16,#edff12,#f0ff0f,#f3ff0c,#f6ff09,#f8ff07,#faff05,#fcff03,#feff01,#ffff00,#ffff00,#fffe00,#fffe00,#fffe00,#fffe00,#ffff00,#feff01,#fdff02,#fcff03,#fbff04,#f9ff06,#f8ff07 calc(100% - 3px))"></i>
<i style="left:147px;width:2px;background:linear-gradient(#002bff 3px,#002eff,#0031ff,#0033ff,#0036ff,#0039ff,#003cff,#003fff,#0042ff,#0045ff,#0048ff,#004bff,#004fff,#0053ff,#0057ff,#005bff,#0062ff,#0070ff,#008dff,#009eff,#00b8ff,#00efff,#42ffbd,#37ffc8,#17ffe8,#00f9ff,#34ffcb,#56ffa9,#04fffb,#3fffc0,#62ff9d,#53ffac,#4dffb2,#67ff98,#8eff71,#b4ff4b,#d2ff2d,#93ff6c,#79ff86,#bdff42,#ceff31,#eeff11,#cbff34,#a1ff5e,#b7ff48,#c4ff3b,#ccff33,#d6ff29,#d7ff28,#bfff40,#aeff51,#bfff40,#c5ff3a,#cdff32,#ccff33,#ceff31,#dbff24,#eaff15,#f8ff07,#ffff00,#fffb00,#fff800,#fff800,#fff900,#fffd00,#fdff02,#f7ff08,#f2ff0d,#ecff13,#e7ff18,#e3ff1c,#e0ff1f,#deff21,#dcff23,#dbff24,#dbff24,#dcff23,#ddff22,#dfff20,#e0ff1f calc(100% - 3px))"></i>
<i style="left:149px;width:2px;background:linear-gradient(#0000f5 3px,#0000f5,#0000f6,#0000f6,#0000f6,#0000f7,#0000f7,#0000f8,#0000f8,#0000f9,#0000f9,#0000fa,#0000fb,#0000fd,#0002ff,#0006ff,#000dff,#0029ff,#005aff,#0091ff,#00c1ff,#00d6ff,#1dffe2,#46ffb9,#0efff1,#19ffe6,#24ffdb,#25ffda,#76ff89,#74ff8b,#77ff88,#52ffad,#4bffb4,#89ff76,#98ff67,#96ff69,#aeff51,#7dff82,#77ff88,#d8ff27,#fbff04,#fdff02,#90ff6f,#69ff96,#c8ff37,#e9ff16,#dbff24,#dcff23,#eeff11,#d6ff29,#b5ff4a,#baff45,#b2ff4d,#beff41,#daff25,#e4ff1b,#e7ff18,#f4ff0b,#ffff00,#fffe00,#ffff00,#fcff03,#f8ff07,#f5ff0a,#f2ff0d,#efff10,#ecff13,#eaff15,#e9ff16,#e9ff16,#e8ff17,#e8ff17,#e8ff17,#e9ff16,#e9ff16,#eaff15,#eaff15,#ebff14,#ecff13,#edff12 calc(100% - 3px))"></i>
<i style="left:151px;width:2px;background:linear-gradient(#0000d1 3px,#0000d1,#0000d1,#0000d1,#0000d1,#0000d1,#0000d1,#0000d1,#0000d2,#0000d2,#0000d2,#0000d3,#0000d4,#0000d6,#0000d9,#0000de,#0000e8,#0006ff,#0052ff,#0098ff,#00caff,#00deff,#1fffe0,#2fffd0,#1bffe4,#3bffc4,#31ffce,#22ffdd,#78ff87,#6eff91,#78ff87,#5cffa3,#40ffbf,#5effa1,#79ff86,#8aff75,#88ff77,#75ff8a,#9bff64,#ebff14,#fff200,#f6ff09,#97ff68,#8aff75,#d6ff29,#cbff34,#c0ff3f,#d8ff27,#ecff13,#d7ff28,#ceff31,#d4ff2b,#c2ff3d,#c3ff3c,#e9ff16,#faff05,#f9ff06,#fffb00,#fff900,#feff01,#f6ff09,#eeff11,#e7ff18,#e3ff1c,#e2ff1d,#e2ff1d,#e4ff1b,#e8ff17,#ecff13,#f0ff0f,#f4ff0b,#f7ff08,#faff05,#fcff03,#feff01,#feff01,#feff01,#fdff02,#fdff02,#fcff03 calc(100% - 3px))"></i>
<i style="left:153px;width:2px;background:linear-gradient(#0000c8 3px,#0000c8,#0000c8,#0000c8,#0000c9,#0000c9,#0000c9,#0000c9,#0000c9,#0000c9,#0000ca,#0000ca,#0000cc,#0000cd,#0000cf,#0000d5,#0000e1,#0000f5,#0063ff,#00aaff,#00cdff,#00fbff,#45ffba,#1affe5,#3fffc0,#5dffa2,#44ffbb,#28ffd7,#36ffc9,#4fffb0,#70ff8f,#6cff93,#41ffbe,#28ffd7,#4cffb3,#7eff81,#71ff8e,#77ff88,#b9ff46,#f3ff0c,#feff01,#ceff31,#bfff40,#d5ff2a,#cfff30,#92ff6d,#96ff69,#cbff34,#dbff24,#ccff33,#e5ff1a,#f9ff06,#e7ff18,#d9ff26,#edff12,#fcff03,#fffc00,#fff200,#fff200,#fffb00,#faff05,#f1ff0e,#eaff15,#e6ff19,#e3ff1c,#e2ff1d,#e4ff1b,#e6ff19,#eaff15,#edff12,#f0ff0f,#f3ff0c,#f5ff0a,#f6ff09,#f7ff08,#f7ff08,#f7ff08,#f6ff09,#f5ff0a,#f3ff0c calc(100% - 3px))"></i>
</div></div>
</div>
<span class="xl" style="left:576.5px;top:450.8px">0</span>
<span class="xl" style="left:641.2px;top:450.8px">50</span>
<span class="xl" style="left:705.8px;top:450.8px">100</span>
<span class="xl" style="left:770.5px;top:450.8px">150</span>
<span class="yl" style="left:571.7px;top:224.1px">2</span>
<span class="yl" style="left:571.7px;top:266.5px">1.5</span>
<span class="yl" style="left:571.7px;top:308.9px">1</span>
<span class="yl" style="left:571.7px;top:351.3px">0.5</span>
<span class="yl" style="left:571.7px;top:393.7px">0</span>
<span class="yl" style="left:571.7px;top:436.1px">-0.5</span>
<span class="ylab" style="left:528.7px;top:328.5px">log<sub>10</sub>(f)</span>
<span class="xlab" style="left:674.5px;top:470.0px">T [sec]</span>
<div class="ax cb" style="left:66px;top:490px;width:195px;height:21px;background:linear-gradient(90deg,#000080,#000099,#0000b3,#0000cc,#0000e6,#0000ff,#001aff,#0033ff,#004dff,#0066ff,#0080ff,#0099ff,#00b3ff,#00ccff,#00e5ff,#00ffff,#1affe5,#33ffcc,#4dffb3,#66ff99,#80ff80,#99ff66,#b3ff4c,#ccff33,#e5ff1a,#ffff00,#ffe500,#ffcc00,#ffb300,#ff9900,#ff8000,#ff6600,#ff4c00,#ff3300,#ff1a00,#ff0000,#e50000,#cc0000,#b30000,#990000,#800000)">
<i class="tb" style="left:97.0px"></i>
</div>
<span class="cl" style="left:67.3px;top:524.0px">-10</span>
<span class="cl" style="left:164.3px;top:524.0px">-5</span>
<span class="cl" style="left:261.3px;top:524.0px">0</span>
<div class="clab" style="left:164.0px;top:528.0px">log<span class="s10">10</span>(S<span class="ss2"><b>GJ</b><b>EW,red</b></span>)(f,t) [m<sup>2</sup>/sec<sup>3</sup>]</div>
<div class="ax cb" style="left:321px;top:490px;width:195px;height:21px;background:linear-gradient(90deg,#000080,#000099,#0000b3,#0000cc,#0000e6,#0000ff,#001aff,#0033ff,#004dff,#0066ff,#0080ff,#0099ff,#00b3ff,#00ccff,#00e5ff,#00ffff,#1affe5,#33ffcc,#4dffb3,#66ff99,#80ff80,#99ff66,#b3ff4c,#ccff33,#e5ff1a,#ffff00,#ffe500,#ffcc00,#ffb300,#ff9900,#ff8000,#ff6600,#ff4c00,#ff3300,#ff1a00,#ff0000,#e50000,#cc0000,#b30000,#990000,#800000)">
<i class="tb" style="left:97.0px"></i>
</div>
<span class="cl" style="left:322.3px;top:524.0px">-10</span>
<span class="cl" style="left:419.3px;top:524.0px">-5</span>
<span class="cl" style="left:516.3px;top:524.0px">0</span>
<div class="clab" style="left:419.0px;top:528.0px">log<span class="s10">10</span>(S<span class="ss2"><b>PH</b><b>NS,red</b></span>)(f,t) [m<sup>2</sup>/sec<sup>3</sup>]</div>
<div class="ax cb" style="left:576px;top:490px;width:195px;height:21px;background:linear-gradient(90deg,#000080,#000099,#0000b3,#0000cc,#0000e6,#0000ff,#001aff,#0033ff,#004dff,#0066ff,#0080ff,#0099ff,#00b3ff,#00ccff,#00e5ff,#00ffff,#1affe5,#33ffcc,#4dffb3,#66ff99,#80ff80,#99ff66,#b3ff4c,#ccff33,#e5ff1a,#ffff00,#ffe500,#ffcc00,#ffb300,#ff9900,#ff8000,#ff6600,#ff4c00,#ff3300,#ff1a00,#ff0000,#e50000,#cc0000,#b30000,#990000,#800000)">
<i class="tb" style="left:97.0px"></i>
</div>
<span class="cl" style="left:577.3px;top:524.0px">-10</span>
<span class="cl" style="left:674.3px;top:524.0px">-5</span>
<span class="cl" style="left:771.3px;top:524.0px">0</span>
<div class="clab" style="left:674.0px;top:528.0px">log<span class="s10">10</span>(S<span class="ss2"><b>HN</b><b>EW,red</b></span>)(f,t) [m<sup>2</sup>/sec<sup>3</sup>]</div>
</body></html>
